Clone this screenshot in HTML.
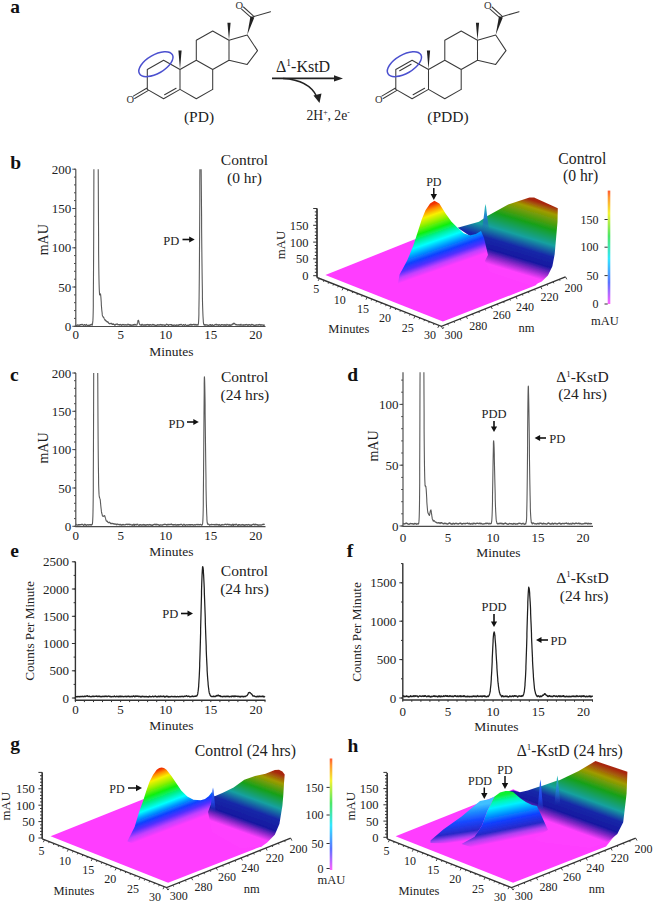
<!DOCTYPE html>
<html><head><meta charset="utf-8"><style>
html,body{margin:0;padding:0;background:#fff;}
svg{display:block;}
text{font-family:"Liberation Serif",serif;}
</style></head><body>
<svg width="655" height="904" viewBox="0 0 655 904">
<defs><linearGradient id="bwall" gradientUnits="userSpaceOnUse" x1="535.00" y1="278.00" x2="556.19" y2="207.36"><stop offset="0.000" stop-color="#ff40ff"/><stop offset="0.104" stop-color="#8828c8"/><stop offset="0.195" stop-color="#1818a0"/><stop offset="0.338" stop-color="#1828a8"/><stop offset="0.494" stop-color="#18a0a0"/><stop offset="0.695" stop-color="#18a018"/><stop offset="0.903" stop-color="#a09a00"/><stop offset="1.000" stop-color="#a82810"/></linearGradient><linearGradient id="bhill" gradientUnits="userSpaceOnUse" x1="435.00" y1="271.00" x2="413.80" y2="210.42"><stop offset="0.000" stop-color="#ff3cff"/><stop offset="0.081" stop-color="#c040ff"/><stop offset="0.162" stop-color="#5030ff"/><stop offset="0.243" stop-color="#1040ff"/><stop offset="0.346" stop-color="#00a0ff"/><stop offset="0.441" stop-color="#00ffff"/><stop offset="0.529" stop-color="#00f0a0"/><stop offset="0.625" stop-color="#10f010"/><stop offset="0.750" stop-color="#a0f000"/><stop offset="0.838" stop-color="#f8f000"/><stop offset="0.926" stop-color="#ff9000"/><stop offset="1.000" stop-color="#f03000"/></linearGradient><linearGradient id="spk" x1="0" y1="0" x2="0" y2="1"><stop offset="0" stop-color="#30c8b8"/><stop offset="0.5" stop-color="#2080d0"/><stop offset="1" stop-color="#2040c0" stop-opacity="0"/></linearGradient><linearGradient id="spkb" x1="0" y1="0" x2="0" y2="1"><stop offset="0" stop-color="#3070ff"/><stop offset="0.6" stop-color="#2040e0"/><stop offset="1" stop-color="#2040c0" stop-opacity="0"/></linearGradient><linearGradient id="ghill" gradientUnits="userSpaceOnUse" x1="162.60" y1="832.00" x2="141.35" y2="776.08"><stop offset="0.000" stop-color="#ff3cff"/><stop offset="0.094" stop-color="#c040ff"/><stop offset="0.188" stop-color="#5030ff"/><stop offset="0.266" stop-color="#1040ff"/><stop offset="0.359" stop-color="#00a0ff"/><stop offset="0.438" stop-color="#00ffff"/><stop offset="0.523" stop-color="#00f0a0"/><stop offset="0.641" stop-color="#10f010"/><stop offset="0.766" stop-color="#a0f000"/><stop offset="0.859" stop-color="#f8f000"/><stop offset="0.938" stop-color="#ff9000"/><stop offset="1.000" stop-color="#f03000"/></linearGradient><linearGradient id="gwall" gradientUnits="userSpaceOnUse" x1="258.80" y1="838.00" x2="281.75" y2="774.26"><stop offset="0.000" stop-color="#ff40ff"/><stop offset="0.097" stop-color="#8828c8"/><stop offset="0.181" stop-color="#1818a0"/><stop offset="0.354" stop-color="#1828a8"/><stop offset="0.514" stop-color="#18a0a0"/><stop offset="0.694" stop-color="#18a018"/><stop offset="0.875" stop-color="#a09a00"/><stop offset="1.000" stop-color="#a82810"/></linearGradient><linearGradient id="hwall" gradientUnits="userSpaceOnUse" x1="597.20" y1="839.00" x2="621.42" y2="771.72"><stop offset="0.000" stop-color="#ff40ff"/><stop offset="0.092" stop-color="#8828c8"/><stop offset="0.184" stop-color="#1818a0"/><stop offset="0.336" stop-color="#1828a8"/><stop offset="0.474" stop-color="#18a0a0"/><stop offset="0.671" stop-color="#18a018"/><stop offset="0.855" stop-color="#a09a00"/><stop offset="1.000" stop-color="#a82810"/></linearGradient><linearGradient id="hpdd" gradientUnits="userSpaceOnUse" x1="470.80" y1="840.00" x2="465.81" y2="806.75"><stop offset="0.000" stop-color="#ff3cff"/><stop offset="0.118" stop-color="#a040f0"/><stop offset="0.265" stop-color="#2828c8"/><stop offset="0.559" stop-color="#1848ff"/><stop offset="0.824" stop-color="#2090ff"/><stop offset="1.000" stop-color="#40c0ff"/></linearGradient><linearGradient id="hpd" gradientUnits="userSpaceOnUse" x1="505.60" y1="840.50" x2="496.66" y2="795.79"><stop offset="0.000" stop-color="#ff3cff"/><stop offset="0.118" stop-color="#b040f0"/><stop offset="0.237" stop-color="#2828c8"/><stop offset="0.441" stop-color="#1040ff"/><stop offset="0.613" stop-color="#00a0ff"/><stop offset="0.753" stop-color="#00f0ff"/><stop offset="0.871" stop-color="#00f8b0"/><stop offset="1.000" stop-color="#10f030"/></linearGradient><filter id="soft" x="-5%" y="-5%" width="110%" height="110%"><feGaussianBlur stdDeviation="0.45"/></filter><linearGradient id="cb609" x1="0" y1="1" x2="0" y2="0"><stop offset="0.0" stop-color="#ff3cff"/><stop offset="0.06" stop-color="#c040ff"/><stop offset="0.19" stop-color="#3050ff"/><stop offset="0.4" stop-color="#00e0ff"/><stop offset="0.6" stop-color="#20e040"/><stop offset="0.8" stop-color="#f0f000"/><stop offset="0.94" stop-color="#ff8000"/><stop offset="1.0" stop-color="#ff3000"/></linearGradient><linearGradient id="cb331" x1="0" y1="1" x2="0" y2="0"><stop offset="0.0" stop-color="#ff3cff"/><stop offset="0.06" stop-color="#c040ff"/><stop offset="0.19" stop-color="#3050ff"/><stop offset="0.4" stop-color="#00e0ff"/><stop offset="0.6" stop-color="#20e040"/><stop offset="0.8" stop-color="#f0f000"/><stop offset="0.94" stop-color="#ff8000"/><stop offset="1.0" stop-color="#ff3000"/></linearGradient><clipPath id="cb1"><rect x="73.8" y="169.2" width="193.7" height="160.3"/></clipPath><clipPath id="cc1"><rect x="73.8" y="373.0" width="193.7" height="156.6"/></clipPath><clipPath id="cd1"><rect x="401.0" y="372.2" width="194.0" height="157.2"/></clipPath><clipPath id="ce1"><rect x="73.4" y="561.8" width="194.1" height="141.5"/></clipPath><clipPath id="cf1"><rect x="400.8" y="563.2" width="194.2" height="139.8"/></clipPath></defs>
<rect width="655" height="904" fill="#fff"/>
<path d="M163.6 60.2L147.3 69.5M147.3 69.5L147.3 89.4M147.3 89.4L163.6 98.7M163.6 98.7L180.0 89.4M180.0 89.4L180.0 69.5M180.0 69.5L163.6 60.2M180.0 89.4L196.3 98.7M196.3 98.7L212.7 89.4M212.7 89.4L212.7 69.5M212.7 69.5L196.3 60.2M196.3 60.2L180.0 69.5M196.3 60.2L196.3 40.3M196.3 40.3L212.7 31.0M212.7 31.0L229.0 40.3M229.0 40.3L229.0 60.2M229.0 60.2L212.7 69.5M229.0 60.2L247.2 64.4M247.2 64.4L257.5 50.6M257.5 50.6L247.2 35.0M247.2 35.0L229.0 40.3M252.4 16.9L270.5 11.7M164.6 94.7L176.1 88.2M146.6 88.2L133.3 96.1M148.0 90.6L134.7 98.5M253.3 15.9L243.5 7.0M251.5 17.9L241.6 9.1" stroke="#3a3a3a" stroke-width="1.05" fill="none" stroke-linecap="round"/>
<polygon points="180.0,69.5 181.6,50.6 178.4,50.6" fill="#222"/>
<polygon points="229.0,40.3 230.6,22.8 227.4,22.8" fill="#222"/>
<polygon points="247.2,35.0 254.3,17.5 250.5,16.3" fill="#222"/>
<text x="130.4" y="102.7" font-size="10.5" text-anchor="middle" fill="#333">O</text>
<text x="239.4" y="8.5" font-size="10.5" text-anchor="middle" fill="#333">O</text>
<ellipse cx="155.9" cy="64.2" rx="19" ry="9.3" transform="rotate(-30 155.9 64.2)" fill="none" stroke="#4b50cf" stroke-width="1.5"/>
<path d="M412.1 60.2L395.8 69.5M395.8 69.5L395.8 89.4M395.8 89.4L412.1 98.7M412.1 98.7L428.5 89.4M428.5 89.4L428.5 69.5M428.5 69.5L412.1 60.2M428.5 89.4L444.8 98.7M444.8 98.7L461.2 89.4M461.2 89.4L461.2 69.5M461.2 69.5L444.8 60.2M444.8 60.2L428.5 69.5M444.8 60.2L444.8 40.3M444.8 40.3L461.2 31.0M461.2 31.0L477.5 40.3M477.5 40.3L477.5 60.2M477.5 60.2L461.2 69.5M477.5 60.2L495.7 64.4M495.7 64.4L506.0 50.6M506.0 50.6L495.7 35.0M495.7 35.0L477.5 40.3M500.9 16.9L519.0 11.7M413.1 94.7L424.6 88.2M411.1 64.2L399.7 70.7M395.1 88.2L381.8 96.1M396.5 90.6L383.2 98.5M501.8 15.9L492.0 7.0M500.0 17.9L490.1 9.1" stroke="#3a3a3a" stroke-width="1.05" fill="none" stroke-linecap="round"/>
<polygon points="428.5,69.5 430.1,50.6 426.9,50.6" fill="#222"/>
<polygon points="477.5,40.3 479.1,22.8 475.9,22.8" fill="#222"/>
<polygon points="495.7,35.0 502.8,17.5 499.0,16.3" fill="#222"/>
<text x="378.9" y="102.7" font-size="10.5" text-anchor="middle" fill="#333">O</text>
<text x="487.9" y="8.5" font-size="10.5" text-anchor="middle" fill="#333">O</text>
<ellipse cx="404.4" cy="64.2" rx="19" ry="9.3" transform="rotate(-30 404.4 64.2)" fill="none" stroke="#4b50cf" stroke-width="1.5"/>
<text x="10.3" y="12.6" font-size="19.5" text-anchor="start" font-weight="bold" fill="#111" >a</text>
<text x="199.0" y="122.0" font-size="15.5" text-anchor="middle" font-weight="normal" fill="#222" >(PD)</text>
<text x="448.0" y="122.0" font-size="15.5" text-anchor="middle" font-weight="normal" fill="#222" >(PDD)</text>
<path d="M272 78.4L336 78.4" stroke="#222" stroke-width="1.6"/>
<polygon points="343,78.4 334,75.2 334,81.6" fill="#222"/>
<path d="M283 78.6 Q309 80 317 97" stroke="#222" stroke-width="1.5" fill="none"/>
<polygon points="319.5,103 313.5,95.5 321.5,93.5" fill="#222"/>
<text x="276" y="72" font-size="16" fill="#222">&#916;<tspan font-size="9.5" dy="-6.5">1</tspan><tspan dy="6.5">-KstD</tspan></text>
<text x="306.5" y="119.5" font-size="13.6" fill="#222">2H<tspan font-size="7.8" dy="-5">+</tspan><tspan dy="5">, 2e</tspan><tspan font-size="7.5" dy="-5">-</tspan></text>
<path d="M75.8 169.2L75.8 326.5L265.5 326.5" stroke="#4a4a4a" stroke-width="1.15" fill="none"/>
<path d="M72.3 326.3L75.8 326.3M72.3 287.0L75.8 287.0M72.3 247.8L75.8 247.8M72.3 208.5L75.8 208.5M72.3 169.2L75.8 169.2M74.0 326.3L75.8 326.3M74.0 318.4L75.8 318.4M74.0 310.6L75.8 310.6M74.0 302.7L75.8 302.7M74.0 294.9L75.8 294.9M74.0 287.0L75.8 287.0M74.0 279.2L75.8 279.2M74.0 271.3L75.8 271.3M74.0 263.5L75.8 263.5M74.0 255.6L75.8 255.6M74.0 247.8L75.8 247.8M74.0 239.9L75.8 239.9M74.0 232.0L75.8 232.0M74.0 224.2L75.8 224.2M74.0 216.3L75.8 216.3M74.0 208.5L75.8 208.5M74.0 200.6L75.8 200.6M74.0 192.8L75.8 192.8M74.0 184.9L75.8 184.9M74.0 177.1L75.8 177.1M74.0 169.2L75.8 169.2" stroke="#4a4a4a" stroke-width="1" fill="none"/>
<text x="71.3" y="330.8" font-size="13" text-anchor="end" font-weight="normal" fill="#222" >0</text>
<text x="71.3" y="291.5" font-size="13" text-anchor="end" font-weight="normal" fill="#222" >50</text>
<text x="71.3" y="252.2" font-size="13" text-anchor="end" font-weight="normal" fill="#222" >100</text>
<text x="71.3" y="213.0" font-size="13" text-anchor="end" font-weight="normal" fill="#222" >150</text>
<text x="71.3" y="173.7" font-size="13" text-anchor="end" font-weight="normal" fill="#222" >200</text>
<text x="75.8" y="339.3" font-size="13" text-anchor="middle" font-weight="normal" fill="#222" >0</text>
<text x="120.8" y="339.3" font-size="13" text-anchor="middle" font-weight="normal" fill="#222" >5</text>
<text x="165.8" y="339.3" font-size="13" text-anchor="middle" font-weight="normal" fill="#222" >10</text>
<text x="210.7" y="339.3" font-size="13" text-anchor="middle" font-weight="normal" fill="#222" >15</text>
<text x="255.7" y="339.3" font-size="13" text-anchor="middle" font-weight="normal" fill="#222" >20</text>
<polyline clip-path="url(#cb1)" points="75.8,325.0 75.9,325.2 76.0,325.0 76.1,325.2 76.2,325.2 76.2,325.2 76.3,325.4 76.4,325.3 76.5,325.5 76.6,325.5 76.7,325.5 76.8,325.6 76.9,325.7 77.0,325.6 77.1,325.3 77.1,325.5 77.2,325.4 77.3,325.1 77.4,325.0 77.5,325.0 77.6,324.7 77.7,325.0 77.8,324.8 77.9,324.9 78.0,325.1 78.0,325.3 78.1,325.3 78.2,325.1 78.3,325.2 78.4,325.1 78.5,325.0 78.6,325.1 78.7,325.0 78.8,325.2 78.9,325.4 78.9,325.5 79.0,325.3 79.1,325.3 79.2,325.3 79.3,325.2 79.4,325.2 79.5,325.3 79.6,325.0 79.7,324.9 79.8,325.0 79.8,325.0 79.9,325.0 80.0,324.7 80.1,324.6 80.2,324.8 80.3,324.5 80.4,324.8 80.5,324.9 80.6,324.7 80.7,324.9 80.7,324.9 80.8,325.2 80.9,325.0 81.0,324.9 81.1,324.8 81.2,324.6 81.3,324.8 81.4,324.7 81.5,324.7 81.6,324.7 81.6,324.7 81.7,324.6 81.8,324.4 81.9,324.5 82.0,324.4 82.1,324.7 82.2,324.6 82.3,324.6 82.4,324.4 82.5,324.3 82.5,324.5 82.6,324.6 82.7,324.6 82.8,324.9 82.9,324.9 83.0,325.1 83.1,325.3 83.2,325.4 83.3,325.2 83.4,325.4 83.4,325.4 83.5,325.4 83.6,325.1 83.7,325.3 83.8,325.3 83.9,325.2 84.0,324.9 84.1,324.8 84.2,324.6 84.3,324.7 84.3,324.8 84.4,324.9 84.5,324.7 84.6,324.5 84.7,324.7 84.8,324.9 84.9,325.1 85.0,325.2 85.1,325.1 85.2,325.1 85.2,325.2 85.3,325.4 85.4,325.4 85.5,325.4 85.6,325.3 85.7,325.0 85.8,324.8 85.9,324.8 86.0,324.8 86.1,324.7 86.1,325.0 86.2,324.7 86.3,324.6 86.4,324.4 86.5,324.3 86.6,324.5 86.7,324.6 86.8,324.9 86.9,324.8 87.0,325.0 87.0,325.3 87.1,325.4 87.2,325.5 87.3,325.5 87.4,325.6 87.5,325.8 87.6,325.9 87.7,325.9 87.8,325.8 87.9,326.0 87.9,325.6 88.0,325.4 88.1,325.5 88.2,325.6 88.3,325.6 88.4,325.5 88.5,325.6 88.6,325.3 88.7,325.0 88.8,325.0 88.8,325.0 88.9,325.2 89.0,325.4 89.1,325.4 89.2,325.4 89.3,325.2 89.4,325.3 89.5,325.5 89.6,325.2 89.7,325.1 89.7,325.3 89.8,325.2 89.9,325.4 90.0,325.3 90.1,325.0 90.2,324.8 90.3,324.7 90.4,324.8 90.5,324.9 90.6,325.1 90.6,324.9 90.7,324.9 90.8,324.7 90.9,324.9 91.0,325.0 91.1,324.8 91.2,324.6 91.3,324.4 91.4,324.3 91.5,324.2 91.5,324.2 91.6,324.4 91.7,324.5 91.8,324.6 91.9,324.9 92.0,325.1 92.1,325.2 92.2,325.2 92.3,325.0 92.4,324.6 92.4,324.4 92.5,323.9 92.6,323.2 92.7,322.4 92.8,321.6 92.9,320.4 93.0,318.6 93.1,315.9 93.2,312.0 93.3,306.4 93.3,298.6 93.4,288.3 93.5,274.9 93.6,257.3 93.7,234.5 93.8,206.0 93.9,169.8 94.0,166.2 94.1,166.2 94.1,166.2 94.2,166.2 94.3,166.2 94.4,166.2 94.5,166.2 94.6,166.2 94.7,166.2 94.8,166.2 94.9,166.2 95.0,166.2 95.0,166.2 95.1,166.2 95.2,166.2 95.3,166.2 95.4,166.2 95.5,166.2 95.6,166.2 95.7,166.2 95.8,166.2 95.9,166.2 95.9,166.2 96.0,166.2 96.1,166.2 96.2,166.2 96.3,166.2 96.4,166.2 96.5,166.2 96.6,166.2 96.7,166.2 96.8,166.2 96.8,166.2 96.9,166.2 97.0,166.2 97.1,166.2 97.2,166.2 97.3,166.2 97.4,166.2 97.5,166.2 97.6,166.2 97.7,166.2 97.7,166.2 97.8,166.2 97.9,166.2 98.0,166.2 98.1,166.2 98.2,166.2 98.3,183.9 98.4,205.6 98.5,223.4 98.6,238.0 98.6,250.3 98.7,260.1 98.8,268.2 98.9,275.0 99.0,280.0 99.1,284.3 99.2,287.6 99.3,290.0 99.4,291.9 99.5,293.3 99.5,294.2 99.6,294.7 99.7,294.8 99.8,295.0 99.9,294.8 100.0,294.7 100.1,294.5 100.2,294.1 100.3,293.9 100.4,293.8 100.4,293.8 100.5,294.0 100.6,294.6 100.7,295.3 100.8,296.3 100.9,297.4 101.0,298.6 101.1,300.1 101.2,301.5 101.3,303.0 101.3,304.2 101.4,305.6 101.5,306.8 101.6,307.9 101.7,309.3 101.8,310.3 101.9,311.1 102.0,311.8 102.1,312.8 102.2,313.6 102.2,314.2 102.3,314.9 102.4,315.4 102.5,315.9 102.6,316.0 102.7,316.1 102.8,316.1 102.9,316.5 103.0,316.6 103.1,316.7 103.1,317.0 103.2,317.0 103.3,316.9 103.4,317.3 103.5,317.2 103.6,317.5 103.7,317.6 103.8,317.6 103.9,317.6 104.0,318.0 104.0,318.2 104.1,318.3 104.2,318.6 104.3,318.9 104.4,319.1 104.5,319.1 104.6,319.4 104.7,319.5 104.8,319.6 104.9,319.9 104.9,320.1 105.0,320.0 105.1,320.1 105.2,320.4 105.3,320.1 105.4,320.1 105.5,319.9 105.6,320.2 105.7,320.5 105.8,320.8 105.8,320.7 105.9,320.9 106.0,321.1 106.1,321.2 106.2,321.0 106.3,320.9 106.4,321.1 106.5,321.4 106.6,321.2 106.7,321.2 106.7,321.2 106.8,321.5 106.9,321.8 107.0,321.7 107.1,321.8 107.2,322.1 107.3,321.8 107.4,321.8 107.5,321.7 107.6,322.0 107.6,321.9 107.7,322.2 107.8,322.0 107.9,322.1 108.0,322.3 108.1,322.3 108.2,322.1 108.3,322.3 108.4,322.6 108.5,322.6 108.5,322.7 108.6,323.0 108.7,323.1 108.8,323.4 108.9,323.5 109.0,323.5 109.1,323.5 109.2,323.3 109.3,323.4 109.4,323.4 109.4,323.5 109.5,323.5 109.6,323.8 109.7,323.8 109.8,324.0 109.9,323.8 110.0,323.7 110.1,323.8 110.2,323.8 110.3,323.5 110.3,323.7 110.4,323.5 110.5,323.5 110.6,323.5 110.7,323.4 110.8,323.5 110.9,323.5 111.0,323.4 111.1,323.2 111.2,323.3 111.2,323.2 111.3,323.2 111.4,323.2 111.5,323.3 111.6,323.5 111.7,323.8 111.8,324.0 111.9,324.2 112.0,324.0 112.0,324.2 112.1,324.3 112.2,324.5 112.3,324.2 112.4,324.0 112.5,323.9 112.6,324.0 112.7,324.2 112.8,324.3 112.9,324.3 112.9,324.4 113.0,324.4 113.1,324.5 113.2,324.2 113.3,323.9 113.4,323.9 113.5,324.1 113.6,323.9 113.7,324.0 113.8,324.1 113.8,324.4 113.9,324.5 114.0,324.4 114.1,324.4 114.2,324.6 114.3,324.5 114.4,324.8 114.5,324.8 114.6,325.0 114.7,324.9 114.7,325.1 114.8,325.3 114.9,325.2 115.0,325.3 115.1,325.1 115.2,325.0 115.3,324.7 115.4,324.6 115.5,324.5 115.6,324.3 115.6,324.3 115.7,324.5 115.8,324.2 115.9,324.4 116.0,324.3 116.1,324.3 116.2,324.5 116.3,324.4 116.4,324.2 116.5,324.1 116.5,324.1 116.6,324.0 116.7,324.3 116.8,324.3 116.9,324.3 117.0,324.2 117.1,324.1 117.2,324.0 117.3,324.0 117.4,323.9 117.4,323.9 117.5,323.9 117.6,324.1 117.7,324.5 117.8,324.7 117.9,324.8 118.0,325.0 118.1,324.7 118.2,324.7 118.3,324.6 118.3,324.5 118.4,324.5 118.5,324.5 118.6,324.8 118.7,324.6 118.8,324.5 118.9,324.5 119.0,324.5 119.1,324.5 119.2,324.7 119.2,324.6 119.3,324.7 119.4,325.0 119.5,325.1 119.6,324.9 119.7,325.0 119.8,324.8 119.9,324.6 120.0,324.6 120.1,324.7 120.1,324.7 120.2,324.6 120.3,324.5 120.4,324.4 120.5,324.4 120.6,324.7 120.7,324.9 120.8,325.0 120.9,324.8 121.0,324.9 121.0,324.9 121.1,325.1 121.2,325.3 121.3,325.4 121.4,325.2 121.5,325.0 121.6,324.9 121.7,325.0 121.8,324.9 121.9,324.9 121.9,324.9 122.0,325.1 122.1,324.8 122.2,325.0 122.3,324.7 122.4,324.5 122.5,324.8 122.6,324.8 122.7,324.6 122.8,324.4 122.8,324.5 122.9,324.7 123.0,324.8 123.1,324.6 123.2,324.8 123.3,324.7 123.4,324.9 123.5,324.9 123.6,324.7 123.7,324.9 123.7,324.7 123.8,324.7 123.9,324.5 124.0,324.4 124.1,324.6 124.2,324.5 124.3,324.5 124.4,324.8 124.5,325.1 124.6,325.1 124.6,325.1 124.7,325.1 124.8,325.3 124.9,325.3 125.0,325.3 125.1,325.1 125.2,325.3 125.3,325.1 125.4,324.9 125.5,325.1 125.5,324.8 125.6,324.7 125.7,324.5 125.8,324.7 125.9,324.8 126.0,324.8 126.1,324.6 126.2,324.6 126.3,324.7 126.4,324.7 126.4,324.9 126.5,325.1 126.6,325.3 126.7,325.0 126.8,325.1 126.9,324.9 127.0,325.0 127.1,325.1 127.2,325.1 127.3,325.2 127.3,325.2 127.4,324.9 127.5,324.7 127.6,324.5 127.7,324.5 127.8,324.3 127.9,324.2 128.0,324.3 128.1,324.2 128.2,324.6 128.2,324.5 128.3,324.6 128.4,324.5 128.5,324.5 128.6,324.6 128.7,324.9 128.8,324.7 128.9,324.9 129.0,324.9 129.1,325.0 129.1,325.1 129.2,324.9 129.3,324.6 129.4,324.8 129.5,324.7 129.6,324.9 129.7,324.8 129.8,324.9 129.9,325.1 129.9,325.2 130.0,325.3 130.1,325.0 130.2,325.0 130.3,325.2 130.4,324.9 130.5,324.6 130.6,324.7 130.7,324.9 130.8,325.1 130.8,325.3 130.9,325.3 131.0,325.5 131.1,325.5 131.2,325.5 131.3,325.4 131.4,325.1 131.5,324.9 131.6,325.0 131.7,325.0 131.7,325.0 131.8,325.0 131.9,325.1 132.0,325.3 132.1,325.4 132.2,325.0 132.3,325.2 132.4,325.2 132.5,325.0 132.6,324.8 132.6,325.0 132.7,325.1 132.8,325.2 132.9,325.2 133.0,325.2 133.1,324.9 133.2,324.7 133.3,324.5 133.4,324.8 133.5,325.1 133.5,325.0 133.6,324.7 133.7,324.8 133.8,324.7 133.9,325.0 134.0,325.1 134.1,324.8 134.2,324.6 134.3,324.5 134.4,324.3 134.4,324.5 134.5,324.8 134.6,325.0 134.7,325.0 134.8,324.8 134.9,324.6 135.0,324.5 135.1,324.5 135.2,324.4 135.3,324.5 135.3,324.5 135.4,324.8 135.5,324.7 135.6,324.9 135.7,324.6 135.8,324.6 135.9,324.7 136.0,325.0 136.1,325.1 136.2,325.0 136.2,324.8 136.3,325.0 136.4,325.2 136.5,325.1 136.6,325.0 136.7,325.0 136.8,325.0 136.9,324.8 137.0,324.9 137.1,324.8 137.1,324.5 137.2,323.9 137.3,323.6 137.4,323.0 137.5,322.7 137.6,322.5 137.7,322.2 137.8,321.5 137.9,321.0 138.0,320.8 138.0,320.8 138.1,320.5 138.2,320.3 138.3,320.3 138.4,320.4 138.5,320.4 138.6,320.4 138.7,320.9 138.8,321.5 138.9,321.9 138.9,322.3 139.0,322.6 139.1,323.1 139.2,323.3 139.3,323.5 139.4,323.8 139.5,324.2 139.6,324.1 139.7,324.4 139.8,324.3 139.8,324.6 139.9,324.8 140.0,324.7 140.1,324.9 140.2,324.7 140.3,324.7 140.4,324.9 140.5,325.1 140.6,325.1 140.7,325.0 140.7,324.7 140.8,324.9 140.9,325.0 141.0,325.1 141.1,324.8 141.2,325.0 141.3,325.3 141.4,325.4 141.5,325.4 141.6,325.1 141.6,324.9 141.7,324.7 141.8,324.5 141.9,324.3 142.0,324.5 142.1,324.7 142.2,324.5 142.3,324.4 142.4,324.8 142.5,324.7 142.5,324.8 142.6,324.9 142.7,325.0 142.8,325.1 142.9,325.4 143.0,325.4 143.1,325.4 143.2,325.1 143.3,325.3 143.4,325.0 143.4,325.1 143.5,325.1 143.6,324.9 143.7,324.7 143.8,324.8 143.9,325.1 144.0,325.1 144.1,325.1 144.2,324.8 144.3,325.0 144.3,325.1 144.4,324.8 144.5,325.1 144.6,325.1 144.7,324.9 144.8,324.8 144.9,325.0 145.0,325.3 145.1,325.4 145.2,325.1 145.2,325.2 145.3,325.0 145.4,324.8 145.5,324.9 145.6,325.0 145.7,324.8 145.8,324.7 145.9,324.9 146.0,324.7 146.1,324.9 146.1,325.0 146.2,325.3 146.3,325.1 146.4,324.8 146.5,324.7 146.6,324.5 146.7,324.8 146.8,325.0 146.9,325.0 147.0,324.7 147.0,324.5 147.1,324.6 147.2,324.8 147.3,324.8 147.4,324.9 147.5,324.6 147.6,324.8 147.7,324.7 147.8,324.6 147.8,324.4 147.9,324.4 148.0,324.4 148.1,324.6 148.2,324.7 148.3,324.8 148.4,324.7 148.5,324.9 148.6,325.1 148.7,324.9 148.7,325.1 148.8,325.3 148.9,325.5 149.0,325.3 149.1,325.4 149.2,325.0 149.3,324.8 149.4,324.5 149.5,324.7 149.6,325.0 149.6,325.2 149.7,325.1 149.8,325.0 149.9,325.0 150.0,325.1 150.1,325.1 150.2,325.0 150.3,324.9 150.4,324.8 150.5,324.6 150.5,324.6 150.6,324.8 150.7,324.6 150.8,324.8 150.9,324.8 151.0,324.9 151.1,324.7 151.2,324.9 151.3,325.1 151.4,325.2 151.4,325.3 151.5,325.0 151.6,325.0 151.7,325.1 151.8,325.1 151.9,324.8 152.0,324.8 152.1,325.0 152.2,324.8 152.3,324.7 152.3,324.5 152.4,324.7 152.5,324.8 152.6,324.6 152.7,324.5 152.8,324.3 152.9,324.6 153.0,324.8 153.1,325.0 153.2,325.2 153.2,324.9 153.3,324.8 153.4,324.6 153.5,324.7 153.6,324.5 153.7,324.6 153.8,324.8 153.9,324.7 154.0,324.4 154.1,324.7 154.1,324.7 154.2,324.7 154.3,324.8 154.4,324.9 154.5,325.1 154.6,325.2 154.7,325.3 154.8,325.2 154.9,325.1 155.0,325.2 155.0,325.4 155.1,325.4 155.2,325.3 155.3,325.4 155.4,325.4 155.5,325.5 155.6,325.2 155.7,325.2 155.8,325.4 155.9,325.5 155.9,325.5 156.0,325.4 156.1,325.2 156.2,325.4 156.3,325.5 156.4,325.3 156.5,325.3 156.6,325.3 156.7,325.4 156.8,325.1 156.8,325.1 156.9,325.1 157.0,325.1 157.1,325.1 157.2,324.9 157.3,324.6 157.4,324.7 157.5,324.9 157.6,324.8 157.7,325.0 157.7,325.2 157.8,325.0 157.9,325.0 158.0,324.8 158.1,324.9 158.2,324.7 158.3,324.7 158.4,324.9 158.5,325.2 158.6,325.1 158.6,325.0 158.7,324.8 158.8,325.0 158.9,324.9 159.0,325.0 159.1,325.0 159.2,325.1 159.3,325.2 159.4,325.2 159.5,324.9 159.5,325.1 159.6,325.1 159.7,324.9 159.8,324.6 159.9,324.8 160.0,325.0 160.1,324.8 160.2,324.5 160.3,324.6 160.4,324.9 160.4,324.6 160.5,324.7 160.6,324.5 160.7,324.5 160.8,324.4 160.9,324.7 161.0,324.5 161.1,324.7 161.2,324.8 161.3,324.6 161.3,324.5 161.4,324.7 161.5,324.9 161.6,325.0 161.7,324.9 161.8,325.0 161.9,325.2 162.0,325.3 162.1,325.1 162.2,324.8 162.2,325.1 162.3,325.0 162.4,324.9 162.5,325.1 162.6,324.9 162.7,325.1 162.8,325.0 162.9,325.0 163.0,324.9 163.1,325.0 163.1,325.0 163.2,325.0 163.3,325.0 163.4,324.9 163.5,324.9 163.6,324.9 163.7,325.2 163.8,325.1 163.9,325.1 164.0,325.2 164.0,325.0 164.1,324.8 164.2,324.9 164.3,325.0 164.4,325.0 164.5,325.2 164.6,325.4 164.7,325.3 164.8,325.5 164.9,325.4 164.9,325.3 165.0,325.5 165.1,325.4 165.2,325.5 165.3,325.3 165.4,325.1 165.5,325.0 165.6,325.3 165.7,325.2 165.7,325.2 165.8,324.9 165.9,325.1 166.0,324.9 166.1,324.6 166.2,324.5 166.3,324.4 166.4,324.6 166.5,324.4 166.6,324.5 166.6,324.3 166.7,324.2 166.8,324.5 166.9,324.4 167.0,324.2 167.1,324.5 167.2,324.7 167.3,324.6 167.4,324.8 167.5,324.6 167.5,324.8 167.6,324.6 167.7,324.8 167.8,324.9 167.9,324.6 168.0,324.8 168.1,325.0 168.2,324.9 168.3,325.0 168.4,325.3 168.4,325.4 168.5,325.5 168.6,325.2 168.7,325.0 168.8,324.8 168.9,325.0 169.0,324.8 169.1,325.0 169.2,325.0 169.3,324.9 169.3,325.0 169.4,324.8 169.5,324.7 169.6,324.7 169.7,324.5 169.8,324.8 169.9,324.5 170.0,324.5 170.1,324.6 170.2,324.5 170.2,324.7 170.3,324.5 170.4,324.5 170.5,324.6 170.6,324.5 170.7,324.6 170.8,324.8 170.9,324.7 171.0,325.0 171.1,324.8 171.1,324.9 171.2,324.9 171.3,324.6 171.4,324.6 171.5,324.5 171.6,324.7 171.7,325.0 171.8,325.2 171.9,325.4 172.0,325.2 172.0,325.2 172.1,325.2 172.2,324.9 172.3,325.1 172.4,325.2 172.5,325.1 172.6,325.3 172.7,325.5 172.8,325.5 172.9,325.6 172.9,325.6 173.0,325.6 173.1,325.5 173.2,325.3 173.3,325.4 173.4,325.3 173.5,325.2 173.6,325.4 173.7,325.1 173.8,325.2 173.8,325.3 173.9,325.5 174.0,325.3 174.1,325.1 174.2,324.9 174.3,324.9 174.4,325.1 174.5,325.3 174.6,325.2 174.7,325.1 174.7,325.1 174.8,325.0 174.9,325.2 175.0,325.0 175.1,325.2 175.2,325.2 175.3,325.2 175.4,325.4 175.5,325.3 175.6,325.5 175.6,325.5 175.7,325.6 175.8,325.7 175.9,325.6 176.0,325.3 176.1,325.5 176.2,325.5 176.3,325.4 176.4,325.1 176.5,325.0 176.5,325.0 176.6,324.7 176.7,325.0 176.8,324.8 176.9,324.9 177.0,325.1 177.1,325.3 177.2,325.3 177.3,325.1 177.4,325.2 177.4,325.1 177.5,325.0 177.6,325.1 177.7,325.0 177.8,325.2 177.9,325.4 178.0,325.5 178.1,325.3 178.2,325.3 178.3,325.3 178.3,325.2 178.4,325.2 178.5,325.3 178.6,325.0 178.7,324.9 178.8,325.0 178.9,325.0 179.0,325.0 179.1,324.7 179.2,324.6 179.2,324.8 179.3,324.5 179.4,324.8 179.5,324.9 179.6,324.7 179.7,324.9 179.8,324.9 179.9,325.2 180.0,325.0 180.1,324.9 180.1,324.8 180.2,324.6 180.3,324.8 180.4,324.7 180.5,324.7 180.6,324.7 180.7,324.7 180.8,324.6 180.9,324.4 181.0,324.5 181.0,324.4 181.1,324.7 181.2,324.6 181.3,324.6 181.4,324.4 181.5,324.3 181.6,324.5 181.7,324.6 181.8,324.6 181.9,324.9 181.9,324.9 182.0,325.1 182.1,325.3 182.2,325.4 182.3,325.2 182.4,325.4 182.5,325.4 182.6,325.4 182.7,325.1 182.8,325.3 182.8,325.3 182.9,325.2 183.0,324.9 183.1,324.8 183.2,324.6 183.3,324.7 183.4,324.8 183.5,324.9 183.6,324.7 183.7,324.5 183.7,324.7 183.8,324.9 183.9,325.1 184.0,325.2 184.1,325.1 184.2,325.1 184.3,325.2 184.4,325.4 184.5,325.4 184.5,325.4 184.6,325.3 184.7,325.0 184.8,324.8 184.9,324.8 185.0,324.8 185.1,324.7 185.2,325.0 185.3,324.7 185.4,324.6 185.4,324.4 185.5,324.3 185.6,324.5 185.7,324.6 185.8,324.9 185.9,324.8 186.0,325.0 186.1,325.3 186.2,325.4 186.3,325.5 186.3,325.5 186.4,325.6 186.5,325.8 186.6,325.9 186.7,325.9 186.8,325.8 186.9,326.0 187.0,325.6 187.1,325.4 187.2,325.5 187.2,325.6 187.3,325.6 187.4,325.5 187.5,325.6 187.6,325.3 187.7,325.0 187.8,325.0 187.9,325.0 188.0,325.2 188.1,325.4 188.1,325.4 188.2,325.4 188.3,325.2 188.4,325.3 188.5,325.5 188.6,325.2 188.7,325.1 188.8,325.3 188.9,325.2 189.0,325.4 189.0,325.3 189.1,325.0 189.2,324.8 189.3,324.7 189.4,324.8 189.5,324.9 189.6,325.1 189.7,324.9 189.8,324.9 189.9,324.7 189.9,324.9 190.0,325.0 190.1,324.8 190.2,324.6 190.3,324.4 190.4,324.3 190.5,324.2 190.6,324.2 190.7,324.5 190.8,324.5 190.8,324.6 190.9,324.9 191.0,325.2 191.1,325.3 191.2,325.3 191.3,325.2 191.4,324.9 191.5,324.9 191.6,324.7 191.7,324.4 191.7,324.2 191.8,324.4 191.9,324.6 192.0,324.8 192.1,325.0 192.2,325.1 192.3,325.0 192.4,324.8 192.5,324.6 192.6,324.7 192.6,324.6 192.7,324.5 192.8,324.8 192.9,324.7 193.0,324.5 193.1,324.4 193.2,324.3 193.3,324.4 193.4,324.7 193.5,324.6 193.5,324.7 193.6,324.6 193.7,324.3 193.8,324.5 193.9,324.6 194.0,324.4 194.1,324.3 194.2,324.6 194.3,324.9 194.4,325.1 194.4,324.8 194.5,324.6 194.6,324.9 194.7,324.7 194.8,324.5 194.9,324.4 195.0,324.6 195.1,324.6 195.2,324.9 195.3,325.1 195.3,324.8 195.4,324.8 195.5,324.8 195.6,324.5 195.7,324.6 195.8,324.5 195.9,324.3 196.0,324.6 196.1,324.8 196.2,324.9 196.2,325.0 196.3,325.0 196.4,325.1 196.5,325.1 196.6,325.3 196.7,325.0 196.8,325.1 196.9,325.1 197.0,325.0 197.1,324.7 197.1,324.8 197.2,324.6 197.3,324.6 197.4,324.7 197.5,324.7 197.6,325.0 197.7,325.0 197.8,325.1 197.9,325.3 198.0,325.0 198.0,325.1 198.1,324.9 198.2,324.5 198.3,324.1 198.4,323.6 198.5,322.8 198.6,321.5 198.7,319.7 198.8,317.6 198.9,314.3 198.9,310.1 199.0,304.6 199.1,297.4 199.2,288.6 199.3,277.9 199.4,265.4 199.5,251.0 199.6,235.3 199.7,218.3 199.8,200.8 199.8,183.2 199.9,166.4 200.0,166.2 200.1,166.2 200.2,166.2 200.3,166.2 200.4,166.2 200.5,166.2 200.6,166.2 200.7,166.2 200.7,166.2 200.8,166.2 200.9,166.2 201.0,166.2 201.1,166.2 201.2,174.4 201.3,185.1 201.4,195.9 201.5,206.9 201.6,217.4 201.6,227.7 201.7,237.5 201.8,247.4 201.9,256.4 202.0,264.8 202.1,272.8 202.2,279.7 202.3,286.0 202.4,292.0 202.4,296.9 202.5,301.5 202.6,305.4 202.7,308.6 202.8,311.3 202.9,314.0 203.0,316.2 203.1,317.9 203.2,319.4 203.3,320.7 203.3,321.7 203.4,322.3 203.5,323.2 203.6,323.6 203.7,324.0 203.8,324.5 203.9,324.7 204.0,324.7 204.1,324.8 204.2,325.1 204.2,324.8 204.3,324.7 204.4,324.5 204.5,324.8 204.6,324.9 204.7,325.2 204.8,325.0 204.9,325.1 205.0,325.3 205.1,325.3 205.1,325.0 205.2,324.8 205.3,324.9 205.4,325.1 205.5,324.9 205.6,324.8 205.7,324.7 205.8,325.0 205.9,325.2 206.0,325.1 206.0,325.1 206.1,325.3 206.2,325.0 206.3,324.9 206.4,324.7 206.5,325.0 206.6,324.8 206.7,325.0 206.8,324.8 206.9,324.8 206.9,324.9 207.0,324.9 207.1,324.7 207.2,324.8 207.3,325.0 207.4,325.0 207.5,325.1 207.6,325.3 207.7,325.4 207.8,325.6 207.8,325.7 207.9,325.6 208.0,325.6 208.1,325.4 208.2,325.4 208.3,325.3 208.4,325.4 208.5,325.4 208.6,325.6 208.7,325.7 208.7,325.8 208.8,325.5 208.9,325.4 209.0,325.5 209.1,325.4 209.2,325.1 209.3,325.3 209.4,325.1 209.5,325.1 209.6,325.0 209.6,324.8 209.7,324.9 209.8,324.9 209.9,324.8 210.0,324.5 210.1,324.7 210.2,324.5 210.3,324.5 210.4,324.5 210.5,324.6 210.5,324.7 210.6,325.0 210.7,325.2 210.8,325.4 210.9,325.2 211.0,325.3 211.1,325.4 211.2,325.5 211.3,325.2 211.4,325.0 211.4,324.9 211.5,325.0 211.6,325.1 211.7,325.2 211.8,325.2 211.9,325.3 212.0,325.3 212.1,325.4 212.2,325.0 212.3,324.8 212.3,324.7 212.4,324.9 212.5,324.6 212.6,324.8 212.7,324.9 212.8,325.2 212.9,325.2 213.0,325.2 213.1,325.1 213.2,325.2 213.2,325.2 213.3,325.4 213.4,325.5 213.5,325.6 213.6,325.5 213.7,325.7 213.8,325.8 213.9,325.8 214.0,325.8 214.1,325.6 214.1,325.5 214.2,325.3 214.3,325.1 214.4,325.0 214.5,324.8 214.6,324.8 214.7,324.9 214.8,324.7 214.9,324.9 215.0,324.8 215.0,324.7 215.1,325.0 215.2,324.8 215.3,324.6 215.4,324.6 215.5,324.5 215.6,324.4 215.7,324.6 215.8,324.7 215.9,324.7 215.9,324.5 216.0,324.4 216.1,324.3 216.2,324.4 216.3,324.2 216.4,324.2 216.5,324.2 216.6,324.5 216.7,324.8 216.8,325.0 216.8,325.1 216.9,325.3 217.0,325.0 217.1,325.0 217.2,324.9 217.3,324.8 217.4,324.7 217.5,324.8 217.6,325.0 217.7,324.9 217.7,324.7 217.8,324.7 217.9,324.7 218.0,324.7 218.1,325.0 218.2,324.8 218.3,325.0 218.4,325.2 218.5,325.3 218.6,325.1 218.6,325.2 218.7,325.0 218.8,324.8 218.9,324.8 219.0,324.9 219.1,324.9 219.2,324.8 219.3,324.6 219.4,324.6 219.5,324.6 219.5,324.9 219.6,325.1 219.7,325.2 219.8,325.0 219.9,325.1 220.0,325.0 220.1,325.3 220.2,325.4 220.3,325.5 220.3,325.3 220.4,325.1 220.5,325.0 220.6,325.1 220.7,325.1 220.8,325.1 220.9,325.0 221.0,325.2 221.1,325.0 221.2,325.1 221.2,324.8 221.3,324.6 221.4,324.9 221.5,324.9 221.6,324.7 221.7,324.5 221.8,324.6 221.9,324.8 222.0,324.9 222.1,324.7 222.1,324.9 222.2,324.8 222.3,325.0 222.4,325.0 222.5,324.7 222.6,325.0 222.7,324.8 222.8,324.8 222.9,324.6 223.0,324.5 223.0,324.7 223.1,324.5 223.2,324.6 223.3,324.9 223.4,325.2 223.5,325.1 223.6,325.1 223.7,325.2 223.8,325.3 223.9,325.4 223.9,325.4 224.0,325.1 224.1,325.4 224.2,325.2 224.3,324.9 224.4,325.1 224.5,324.9 224.6,324.7 224.7,324.5 224.8,324.7 224.8,324.8 224.9,324.9 225.0,324.6 225.1,324.6 225.2,324.7 225.3,324.8 225.4,324.9 225.5,325.2 225.6,325.3 225.7,325.1 225.7,325.2 225.8,324.9 225.9,325.0 226.0,325.1 226.1,325.1 226.2,325.2 226.3,325.3 226.4,324.9 226.5,324.7 226.6,324.6 226.6,324.6 226.7,324.4 226.8,324.2 226.9,324.3 227.0,324.3 227.1,324.6 227.2,324.5 227.3,324.6 227.4,324.5 227.5,324.5 227.5,324.7 227.6,324.9 227.7,324.7 227.8,324.9 227.9,324.9 228.0,325.0 228.1,325.1 228.2,324.9 228.3,324.7 228.4,324.8 228.4,324.8 228.5,324.9 228.6,324.9 228.7,324.9 228.8,325.1 228.9,325.3 229.0,325.4 229.1,325.1 229.2,325.0 229.3,325.2 229.3,324.9 229.4,324.6 229.5,324.7 229.6,324.9 229.7,325.1 229.8,325.3 229.9,325.3 230.0,325.5 230.1,325.5 230.2,325.5 230.2,325.4 230.3,325.1 230.4,324.9 230.5,325.0 230.6,325.0 230.7,324.9 230.8,325.0 230.9,325.0 231.0,325.2 231.1,325.3 231.1,324.9 231.2,325.1 231.3,325.0 231.4,324.9 231.5,324.7 231.6,324.8 231.7,324.9 231.8,324.9 231.9,324.9 232.0,324.9 232.0,324.5 232.1,324.3 232.2,324.1 232.3,324.4 232.4,324.6 232.5,324.4 232.6,324.1 232.7,324.1 232.8,324.0 232.9,324.3 232.9,324.3 233.0,324.0 233.1,323.7 233.2,323.5 233.3,323.3 233.4,323.5 233.5,323.7 233.6,323.9 233.7,323.8 233.8,323.7 233.8,323.5 233.9,323.4 234.0,323.3 234.1,323.2 234.2,323.3 234.3,323.4 234.4,323.7 234.5,323.6 234.6,323.8 234.7,323.6 234.7,323.5 234.8,323.7 234.9,324.0 235.0,324.2 235.1,324.1 235.2,324.0 235.3,324.3 235.4,324.5 235.5,324.5 235.6,324.5 235.6,324.5 235.7,324.7 235.8,324.6 235.9,324.9 236.0,325.0 236.1,325.0 236.2,324.7 236.3,324.6 236.4,324.4 236.5,324.5 236.5,324.7 236.6,324.8 236.7,324.6 236.8,324.5 236.9,325.0 237.0,324.9 237.1,324.8 237.2,324.9 237.3,325.0 237.4,324.9 237.4,324.7 237.5,324.9 237.6,325.1 237.7,325.2 237.8,325.2 237.9,325.0 238.0,325.2 238.1,325.0 238.2,324.8 238.2,324.8 238.3,325.0 238.4,324.7 238.5,324.9 238.6,324.7 238.7,324.9 238.8,325.0 238.9,324.9 239.0,325.0 239.1,324.7 239.1,324.7 239.2,324.9 239.3,325.1 239.4,325.1 239.5,325.0 239.6,324.7 239.7,324.9 239.8,325.0 239.9,325.1 240.0,324.8 240.0,325.0 240.1,325.3 240.2,325.4 240.3,325.4 240.4,325.1 240.5,324.9 240.6,324.7 240.7,324.5 240.8,324.3 240.9,324.5 240.9,324.7 241.0,324.5 241.1,324.4 241.2,324.8 241.3,324.7 241.4,324.8 241.5,324.9 241.6,325.0 241.7,325.1 241.8,325.4 241.8,325.4 241.9,325.4 242.0,325.1 242.1,325.3 242.2,325.0 242.3,325.1 242.4,325.2 242.5,324.9 242.6,324.7 242.7,324.8 242.7,325.1 242.8,325.1 242.9,325.1 243.0,324.8 243.1,325.0 243.2,325.1 243.3,324.8 243.4,325.1 243.5,325.1 243.6,324.9 243.6,324.8 243.7,325.0 243.8,325.3 243.9,325.4 244.0,325.1 244.1,325.2 244.2,325.0 244.3,324.8 244.4,324.9 244.5,325.0 244.5,324.8 244.6,324.7 244.7,324.9 244.8,324.7 244.9,324.9 245.0,325.0 245.1,325.3 245.2,325.1 245.3,324.8 245.4,324.7 245.4,324.5 245.5,324.8 245.6,325.0 245.7,325.0 245.8,324.7 245.9,324.5 246.0,324.6 246.1,324.8 246.2,324.8 246.3,324.9 246.3,324.6 246.4,324.8 246.5,324.7 246.6,324.6 246.7,324.4 246.8,324.4 246.9,324.4 247.0,324.6 247.1,324.7 247.2,324.8 247.2,324.7 247.3,324.9 247.4,325.1 247.5,324.9 247.6,325.1 247.7,325.3 247.8,325.5 247.9,325.4 248.0,325.4 248.1,325.0 248.1,324.8 248.2,324.5 248.3,324.7 248.4,325.0 248.5,325.2 248.6,325.1 248.7,325.0 248.8,325.0 248.9,325.1 249.0,325.1 249.0,325.0 249.1,324.9 249.2,324.8 249.3,324.6 249.4,324.6 249.5,324.8 249.6,324.6 249.7,324.8 249.8,324.8 249.9,324.9 249.9,324.7 250.0,324.9 250.1,325.1 250.2,325.2 250.3,325.3 250.4,325.0 250.5,325.0 250.6,325.1 250.7,325.1 250.8,324.8 250.8,324.8 250.9,325.0 251.0,324.8 251.1,324.7 251.2,324.5 251.3,324.7 251.4,324.8 251.5,324.6 251.6,324.5 251.7,324.3 251.7,324.6 251.8,324.8 251.9,325.0 252.0,325.2 252.1,324.9 252.2,324.8 252.3,324.6 252.4,324.7 252.5,324.5 252.6,324.6 252.6,324.8 252.7,324.7 252.8,324.4 252.9,324.7 253.0,324.7 253.1,324.7 253.2,324.8 253.3,324.9 253.4,325.1 253.5,325.2 253.5,325.3 253.6,325.2 253.7,325.1 253.8,325.2 253.9,325.4 254.0,325.4 254.1,325.3 254.2,325.4 254.3,325.4 254.4,325.5 254.4,325.2 254.5,325.2 254.6,325.4 254.7,325.5 254.8,325.5 254.9,325.4 255.0,325.2 255.1,325.4 255.2,325.5 255.3,325.3 255.3,325.3 255.4,325.3 255.5,325.4 255.6,325.1 255.7,325.1 255.8,325.1 255.9,325.1 256.0,325.1 256.1,324.9 256.1,324.6 256.2,324.7 256.3,324.9 256.4,324.8 256.5,325.0 256.6,325.2 256.7,325.0 256.8,325.0 256.9,324.8 257.0,324.9 257.0,324.7 257.1,324.7 257.2,324.9 257.3,325.2 257.4,325.1 257.5,325.0 257.6,324.8 257.7,325.0 257.8,324.9 257.9,325.0 257.9,325.0 258.0,325.1 258.1,325.2 258.2,325.2 258.3,324.9 258.4,325.1 258.5,325.1 258.6,324.9 258.7,324.6 258.8,324.8 258.8,325.0 258.9,324.8 259.0,324.5 259.1,324.6 259.2,324.9 259.3,324.6 259.4,324.7 259.5,324.5 259.6,324.5 259.7,324.4 259.7,324.7 259.8,324.5 259.9,324.7 260.0,324.8 260.1,324.6 260.2,324.5 260.3,324.7 260.4,324.9 260.5,325.0 260.6,324.9 260.6,325.0 260.7,325.2 260.8,325.3 260.9,325.1 261.0,324.8 261.1,325.1 261.2,325.0 261.3,324.9 261.4,325.1 261.5,324.9 261.5,325.1 261.6,325.0 261.7,325.0 261.8,324.9 261.9,325.0 262.0,325.0 262.1,325.0 262.2,325.0 262.3,324.9 262.4,324.9 262.4,324.9 262.5,325.2 262.6,325.1 262.7,325.1 262.8,325.2 262.9,325.0 263.0,324.8 263.1,324.9 263.2,325.0 263.3,325.0 263.3,325.2 263.4,325.4 263.5,325.3 263.6,325.5 263.7,325.4 263.8,325.3 263.9,325.5 264.0,325.4 264.1,325.5 264.2,325.3 264.2,325.1 264.3,325.0 264.4,325.3 264.5,325.2 264.6,325.2" stroke="#5a5a5a" stroke-width="1.1" fill="none" stroke-linejoin="round"/>
<path d="M75.8 373.0L75.8 526.6L265.5 526.6" stroke="#4a4a4a" stroke-width="1.15" fill="none"/>
<path d="M72.3 526.3L75.8 526.3M72.3 488.0L75.8 488.0M72.3 449.6L75.8 449.6M72.3 411.3L75.8 411.3M72.3 373.0L75.8 373.0M74.0 526.3L75.8 526.3M74.0 518.6L75.8 518.6M74.0 511.0L75.8 511.0M74.0 503.3L75.8 503.3M74.0 495.6L75.8 495.6M74.0 488.0L75.8 488.0M74.0 480.3L75.8 480.3M74.0 472.6L75.8 472.6M74.0 465.0L75.8 465.0M74.0 457.3L75.8 457.3M74.0 449.6L75.8 449.6M74.0 442.0L75.8 442.0M74.0 434.3L75.8 434.3M74.0 426.7L75.8 426.7M74.0 419.0L75.8 419.0M74.0 411.3L75.8 411.3M74.0 403.7L75.8 403.7M74.0 396.0L75.8 396.0M74.0 388.3L75.8 388.3M74.0 380.7L75.8 380.7M74.0 373.0L75.8 373.0" stroke="#4a4a4a" stroke-width="1" fill="none"/>
<text x="71.3" y="530.8" font-size="13" text-anchor="end" font-weight="normal" fill="#222" >0</text>
<text x="71.3" y="492.5" font-size="13" text-anchor="end" font-weight="normal" fill="#222" >50</text>
<text x="71.3" y="454.1" font-size="13" text-anchor="end" font-weight="normal" fill="#222" >100</text>
<text x="71.3" y="415.8" font-size="13" text-anchor="end" font-weight="normal" fill="#222" >150</text>
<text x="71.3" y="377.5" font-size="13" text-anchor="end" font-weight="normal" fill="#222" >200</text>
<text x="75.8" y="539.9" font-size="13" text-anchor="middle" font-weight="normal" fill="#222" >0</text>
<text x="120.8" y="539.9" font-size="13" text-anchor="middle" font-weight="normal" fill="#222" >5</text>
<text x="165.8" y="539.9" font-size="13" text-anchor="middle" font-weight="normal" fill="#222" >10</text>
<text x="210.7" y="539.9" font-size="13" text-anchor="middle" font-weight="normal" fill="#222" >15</text>
<text x="255.7" y="539.9" font-size="13" text-anchor="middle" font-weight="normal" fill="#222" >20</text>
<polyline clip-path="url(#cc1)" points="75.8,524.7 75.9,524.7 76.0,524.5 76.1,524.4 76.2,524.6 76.2,524.4 76.3,524.7 76.4,524.7 76.5,524.8 76.6,524.9 76.7,524.9 76.8,525.1 76.9,524.9 77.0,525.2 77.1,525.1 77.1,525.0 77.2,525.1 77.3,525.0 77.4,525.0 77.5,524.9 77.6,524.7 77.7,524.9 77.8,525.0 77.9,525.0 78.0,525.2 78.0,525.0 78.1,524.8 78.2,524.7 78.3,524.9 78.4,524.7 78.5,524.6 78.6,524.6 78.7,524.5 78.8,524.6 78.9,524.8 78.9,525.0 79.0,525.1 79.1,525.3 79.2,525.3 79.3,525.1 79.4,524.9 79.5,524.7 79.6,524.6 79.7,524.8 79.8,524.7 79.8,524.8 79.9,524.6 80.0,524.6 80.1,524.8 80.2,524.7 80.3,524.5 80.4,524.7 80.5,524.5 80.6,524.8 80.7,524.9 80.7,525.0 80.8,524.9 80.9,524.6 81.0,524.5 81.1,524.6 81.2,524.4 81.3,524.6 81.4,524.8 81.5,524.5 81.6,524.5 81.6,524.4 81.7,524.4 81.8,524.2 81.9,524.3 82.0,524.2 82.1,524.2 82.2,524.1 82.3,524.2 82.4,524.2 82.5,524.2 82.5,524.4 82.6,524.6 82.7,524.6 82.8,524.8 82.9,524.6 83.0,524.8 83.1,525.1 83.2,525.2 83.3,524.9 83.4,525.0 83.4,525.1 83.5,525.3 83.6,525.5 83.7,525.3 83.8,525.1 83.9,525.0 84.0,524.8 84.1,525.0 84.2,525.0 84.3,525.0 84.3,524.8 84.4,524.6 84.5,524.4 84.6,524.7 84.7,524.5 84.8,524.3 84.9,524.2 85.0,524.5 85.1,524.7 85.2,524.9 85.2,525.1 85.3,524.9 85.4,524.7 85.5,524.6 85.6,524.5 85.7,524.5 85.8,524.6 85.9,524.9 86.0,525.1 86.1,524.9 86.1,525.0 86.2,525.1 86.3,525.1 86.4,525.3 86.5,525.3 86.6,525.4 86.7,525.2 86.8,525.2 86.9,525.2 87.0,524.9 87.0,524.9 87.1,524.7 87.2,524.6 87.3,524.9 87.4,524.9 87.5,524.9 87.6,524.8 87.7,524.8 87.8,524.7 87.9,524.7 87.9,524.9 88.0,524.7 88.1,524.9 88.2,524.7 88.3,524.9 88.4,525.1 88.5,525.2 88.6,525.0 88.7,524.7 88.8,525.0 88.8,525.0 88.9,524.9 89.0,524.8 89.1,524.9 89.2,524.9 89.3,525.0 89.4,524.8 89.5,524.9 89.6,524.6 89.7,524.8 89.7,524.9 89.8,524.8 89.9,524.8 90.0,525.0 90.1,524.9 90.2,525.1 90.3,524.9 90.4,524.8 90.5,524.6 90.6,524.6 90.6,524.7 90.7,524.7 90.8,524.8 90.9,524.6 91.0,524.8 91.1,524.6 91.2,524.9 91.3,525.0 91.4,525.1 91.5,524.8 91.5,524.8 91.6,524.9 91.7,524.6 91.8,524.8 91.9,524.8 92.0,524.7 92.1,524.5 92.2,524.2 92.3,524.0 92.4,523.9 92.4,523.5 92.5,523.1 92.6,522.0 92.7,520.5 92.8,518.4 92.9,515.9 93.0,512.0 93.1,506.4 93.2,499.1 93.3,489.4 93.3,476.3 93.4,458.9 93.5,437.0 93.6,409.0 93.7,373.9 93.8,370.0 93.9,370.0 94.0,370.0 94.1,370.0 94.1,370.0 94.2,370.0 94.3,370.0 94.4,370.0 94.5,370.0 94.6,370.0 94.7,370.0 94.8,370.0 94.9,370.0 95.0,370.0 95.0,370.0 95.1,370.0 95.2,370.0 95.3,370.0 95.4,370.0 95.5,370.0 95.6,370.0 95.7,370.0 95.8,370.0 95.9,370.0 95.9,370.0 96.0,370.0 96.1,370.0 96.2,370.0 96.3,370.0 96.4,370.0 96.5,370.0 96.6,370.0 96.7,370.0 96.8,370.0 96.8,370.0 96.9,370.0 97.0,370.0 97.1,370.0 97.2,370.0 97.3,370.0 97.4,370.0 97.5,370.0 97.6,370.0 97.7,370.0 97.7,370.0 97.8,384.2 97.9,405.4 98.0,422.7 98.1,437.1 98.2,448.9 98.3,458.7 98.4,466.8 98.5,473.3 98.6,478.9 98.6,483.2 98.7,486.6 98.8,489.3 98.9,491.5 99.0,493.5 99.1,494.9 99.2,495.9 99.3,496.6 99.4,497.2 99.5,497.4 99.5,497.5 99.6,497.9 99.7,498.0 99.8,498.0 99.9,498.4 100.0,498.7 100.1,498.9 100.2,499.7 100.3,500.4 100.4,501.3 100.4,501.9 100.5,502.6 100.6,503.6 100.7,504.8 100.8,505.8 100.9,506.7 101.0,507.6 101.1,508.5 101.2,509.3 101.3,510.0 101.3,510.7 101.4,511.4 101.5,511.8 101.6,512.5 101.7,512.9 101.8,513.4 101.9,513.6 102.0,514.2 102.1,514.2 102.2,514.6 102.2,515.1 102.3,515.4 102.4,515.6 102.5,515.9 102.6,516.0 102.7,516.1 102.8,516.1 102.9,516.2 103.0,516.3 103.1,516.5 103.1,516.3 103.2,516.1 103.3,516.0 103.4,516.2 103.5,516.0 103.6,516.0 103.7,516.1 103.8,516.2 103.9,516.0 104.0,515.8 104.0,515.7 104.1,515.7 104.2,515.7 104.3,515.8 104.4,515.6 104.5,515.8 104.6,515.9 104.7,515.8 104.8,515.9 104.9,516.1 104.9,516.5 105.0,516.7 105.1,517.2 105.2,517.3 105.3,517.6 105.4,517.7 105.5,518.2 105.6,518.5 105.7,518.9 105.8,519.2 105.8,519.6 105.9,520.1 106.0,520.1 106.1,520.4 106.2,520.7 106.3,520.9 106.4,521.0 106.5,521.1 106.6,521.1 106.7,521.1 106.7,521.3 106.8,521.1 106.9,521.0 107.0,521.4 107.1,521.3 107.2,521.2 107.3,521.2 107.4,521.5 107.5,521.4 107.6,521.5 107.6,521.8 107.7,522.2 107.8,521.9 107.9,521.9 108.0,522.1 108.1,522.4 108.2,522.6 108.3,522.7 108.4,522.6 108.5,522.7 108.5,522.8 108.6,522.6 108.7,522.5 108.8,522.7 108.9,522.5 109.0,522.5 109.1,522.4 109.2,522.4 109.3,522.3 109.4,522.2 109.4,522.2 109.5,522.5 109.6,522.5 109.7,522.6 109.8,522.5 109.9,522.7 110.0,522.5 110.1,522.6 110.2,522.8 110.3,523.1 110.3,523.3 110.4,523.3 110.5,523.6 110.6,523.6 110.7,523.7 110.8,523.7 110.9,523.7 111.0,523.6 111.1,523.4 111.2,523.7 111.2,523.5 111.3,523.6 111.4,523.5 111.5,523.5 111.6,523.3 111.7,523.5 111.8,523.5 111.9,523.3 112.0,523.6 112.0,523.6 112.1,523.5 112.2,523.8 112.3,523.8 112.4,523.7 112.5,523.5 112.6,523.7 112.7,523.4 112.8,523.5 112.9,523.6 112.9,523.4 113.0,523.8 113.1,523.7 113.2,523.7 113.3,523.8 113.4,523.7 113.5,523.8 113.6,523.8 113.7,523.9 113.8,523.8 113.8,524.0 113.9,524.0 114.0,524.1 114.1,524.1 114.2,523.9 114.3,524.1 114.4,523.9 114.5,524.0 114.6,524.0 114.7,524.2 114.7,524.2 114.8,523.9 114.9,523.9 115.0,523.8 115.1,524.0 115.2,524.1 115.3,524.3 115.4,524.2 115.5,524.2 115.6,524.0 115.6,524.3 115.7,524.2 115.8,524.0 115.9,524.0 116.0,524.3 116.1,524.5 116.2,524.7 116.3,524.8 116.4,524.5 116.5,524.5 116.5,524.4 116.6,524.2 116.7,524.0 116.8,524.0 116.9,524.0 117.0,524.0 117.1,524.0 117.2,524.0 117.3,524.0 117.4,524.2 117.4,524.2 117.5,524.2 117.6,524.1 117.7,524.4 117.8,524.6 117.9,524.8 118.0,524.6 118.1,524.4 118.2,524.3 118.3,524.4 118.3,524.3 118.4,524.2 118.5,524.2 118.6,524.4 118.7,524.5 118.8,524.5 118.9,524.6 119.0,524.7 119.1,524.6 119.2,524.3 119.2,524.6 119.3,524.6 119.4,524.8 119.5,525.0 119.6,524.8 119.7,524.7 119.8,524.5 119.9,524.5 120.0,524.8 120.1,524.8 120.1,524.7 120.2,524.5 120.3,524.2 120.4,524.3 120.5,524.4 120.6,524.7 120.7,524.6 120.8,524.7 120.9,524.9 121.0,525.1 121.0,525.3 121.1,525.1 121.2,525.2 121.3,524.9 121.4,525.1 121.5,524.8 121.6,525.0 121.7,525.2 121.8,525.0 121.9,525.1 121.9,524.9 122.0,525.0 122.1,525.2 122.2,525.0 122.3,524.8 122.4,524.6 122.5,524.5 122.6,524.7 122.7,524.7 122.8,524.6 122.8,524.6 122.9,524.4 123.0,524.6 123.1,524.3 123.2,524.3 123.3,524.6 123.4,524.9 123.5,524.8 123.6,524.6 123.7,524.8 123.7,524.9 123.8,524.7 123.9,524.9 124.0,524.7 124.1,524.7 124.2,524.9 124.3,525.0 124.4,524.9 124.5,524.9 124.6,524.8 124.6,525.0 124.7,524.8 124.8,524.8 124.9,524.7 125.0,524.7 125.1,524.7 125.2,524.8 125.3,524.6 125.4,524.4 125.5,524.3 125.5,524.3 125.6,524.5 125.7,524.8 125.8,524.5 125.9,524.4 126.0,524.3 126.1,524.4 126.2,524.4 126.3,524.2 126.4,524.1 126.4,524.2 126.5,524.3 126.6,524.4 126.7,524.3 126.8,524.4 126.9,524.4 127.0,524.4 127.1,524.2 127.2,524.1 127.3,524.3 127.3,524.7 127.4,524.8 127.5,524.8 127.6,524.8 127.7,524.6 127.8,524.4 127.9,524.7 128.0,524.5 128.1,524.4 128.2,524.2 128.2,524.3 128.3,524.5 128.4,524.3 128.5,524.2 128.6,524.2 128.7,524.1 128.8,524.2 128.9,524.5 129.0,524.5 129.1,524.4 129.1,524.6 129.2,524.5 129.3,524.3 129.4,524.5 129.5,524.5 129.6,524.4 129.7,524.5 129.8,524.7 129.9,524.8 129.9,524.7 130.0,524.5 130.1,524.6 130.2,524.8 130.3,524.7 130.4,524.5 130.5,524.7 130.6,524.7 130.7,524.5 130.8,524.3 130.8,524.4 130.9,524.4 131.0,524.4 131.1,524.6 131.2,524.8 131.3,525.0 131.4,524.8 131.5,524.9 131.6,524.8 131.7,524.9 131.7,524.9 131.8,525.0 131.9,525.2 132.0,524.9 132.1,524.9 132.2,525.1 132.3,525.0 132.4,524.8 132.5,525.0 132.6,524.9 132.6,525.0 132.7,524.9 132.8,525.2 132.9,525.3 133.0,525.0 133.1,524.8 133.2,524.8 133.3,524.7 133.4,524.9 133.5,524.7 133.5,524.7 133.6,524.5 133.7,524.4 133.8,524.3 133.9,524.1 134.0,524.3 134.1,524.6 134.2,524.8 134.3,525.0 134.4,525.2 134.4,525.4 134.5,525.2 134.6,525.0 134.7,525.0 134.8,524.7 134.9,524.5 135.0,524.8 135.1,524.7 135.2,524.8 135.3,525.0 135.3,524.7 135.4,524.8 135.5,524.8 135.6,524.7 135.7,524.5 135.8,524.4 135.9,524.5 136.0,524.6 136.1,524.8 136.2,524.5 136.2,524.3 136.3,524.5 136.4,524.8 136.5,524.9 136.6,525.0 136.7,524.7 136.8,524.5 136.9,524.4 137.0,524.7 137.1,524.5 137.1,524.5 137.2,524.4 137.3,524.2 137.4,524.5 137.5,524.8 137.6,524.6 137.7,524.4 137.8,524.4 137.9,524.5 138.0,524.5 138.0,524.4 138.1,524.7 138.2,524.8 138.3,524.9 138.4,525.1 138.5,525.1 138.6,525.2 138.7,525.3 138.8,525.4 138.9,525.2 138.9,525.4 139.0,525.2 139.1,525.3 139.2,525.5 139.3,525.1 139.4,525.2 139.5,524.9 139.6,524.7 139.7,524.5 139.8,524.7 139.8,524.8 139.9,525.0 140.0,524.7 140.1,524.5 140.2,524.5 140.3,524.6 140.4,524.7 140.5,524.5 140.6,524.6 140.7,524.5 140.7,524.8 140.8,524.9 140.9,525.1 141.0,525.0 141.1,524.9 141.2,525.1 141.3,524.8 141.4,524.9 141.5,525.0 141.6,525.1 141.6,525.2 141.7,524.9 141.8,525.0 141.9,525.1 142.0,525.1 142.1,525.1 142.2,524.9 142.3,525.1 142.4,524.8 142.5,525.0 142.5,524.8 142.6,524.7 142.7,524.8 142.8,524.8 142.9,524.9 143.0,525.0 143.1,525.2 143.2,525.2 143.3,524.9 143.4,524.6 143.4,524.4 143.5,524.6 143.6,524.8 143.7,524.6 143.8,524.8 143.9,524.7 144.0,524.8 144.1,524.6 144.2,524.8 144.3,524.7 144.3,524.8 144.4,525.0 144.5,525.2 144.6,525.0 144.7,524.9 144.8,525.1 144.9,525.1 145.0,524.8 145.1,524.9 145.2,524.9 145.2,525.1 145.3,525.2 145.4,525.0 145.5,524.8 145.6,525.0 145.7,525.2 145.8,525.3 145.9,525.2 146.0,525.1 146.1,525.2 146.1,525.3 146.2,525.2 146.3,525.0 146.4,524.8 146.5,524.7 146.6,524.9 146.7,525.1 146.8,524.9 146.9,525.0 147.0,524.8 147.0,525.0 147.1,524.8 147.2,524.9 147.3,524.7 147.4,524.5 147.5,524.6 147.6,524.9 147.7,524.6 147.8,524.7 147.8,524.5 147.9,524.6 148.0,524.8 148.1,524.6 148.2,524.7 148.3,524.9 148.4,525.0 148.5,524.9 148.6,525.1 148.7,525.1 148.7,525.1 148.8,525.0 148.9,525.2 149.0,525.0 149.1,524.8 149.2,524.6 149.3,524.7 149.4,524.6 149.5,524.7 149.6,524.6 149.6,524.8 149.7,524.6 149.8,524.4 149.9,524.5 150.0,524.5 150.1,524.5 150.2,524.5 150.3,524.8 150.4,524.6 150.5,524.7 150.5,524.9 150.6,525.1 150.7,525.2 150.8,525.0 150.9,525.2 151.0,525.3 151.1,525.1 151.2,525.3 151.3,525.4 151.4,525.3 151.4,525.2 151.5,525.1 151.6,524.9 151.7,525.1 151.8,524.9 151.9,524.7 152.0,525.0 152.1,525.2 152.2,525.1 152.3,525.1 152.3,525.1 152.4,525.3 152.5,525.2 152.6,525.4 152.7,525.2 152.8,525.0 152.9,525.1 153.0,525.0 153.1,524.9 153.2,525.0 153.2,524.8 153.3,524.6 153.4,524.7 153.5,524.7 153.6,524.5 153.7,524.6 153.8,524.7 153.9,524.4 154.0,524.3 154.1,524.5 154.1,524.7 154.2,524.8 154.3,524.8 154.4,524.5 154.5,524.4 154.6,524.2 154.7,524.2 154.8,524.1 154.9,524.4 155.0,524.4 155.0,524.3 155.1,524.1 155.2,524.3 155.3,524.4 155.4,524.4 155.5,524.5 155.6,524.6 155.7,524.8 155.8,524.8 155.9,524.8 155.9,525.1 156.0,525.2 156.1,524.9 156.2,524.7 156.3,524.5 156.4,524.5 156.5,524.4 156.6,524.2 156.7,524.1 156.8,524.4 156.8,524.4 156.9,524.6 157.0,524.5 157.1,524.7 157.2,524.7 157.3,524.5 157.4,524.4 157.5,524.6 157.6,524.6 157.7,524.7 157.7,524.5 157.8,524.6 157.9,524.7 158.0,524.7 158.1,524.9 158.2,524.8 158.3,524.6 158.4,524.6 158.5,524.7 158.6,524.8 158.6,524.7 158.7,524.9 158.8,525.1 158.9,525.3 159.0,525.3 159.1,525.3 159.2,525.3 159.3,525.4 159.4,525.5 159.5,525.4 159.5,525.1 159.6,525.0 159.7,524.9 159.8,524.8 159.9,525.0 160.0,524.8 160.1,524.8 160.2,524.8 160.3,524.7 160.4,524.8 160.4,524.9 160.5,525.0 160.6,525.1 160.7,525.0 160.8,525.1 160.9,525.0 161.0,525.2 161.1,525.2 161.2,525.0 161.3,525.1 161.3,525.0 161.4,525.0 161.5,525.0 161.6,524.7 161.7,524.9 161.8,524.7 161.9,524.9 162.0,525.1 162.1,524.9 162.2,524.9 162.2,525.1 162.3,525.1 162.4,525.1 162.5,524.9 162.6,525.1 162.7,525.2 162.8,524.9 162.9,524.7 163.0,524.9 163.1,525.0 163.1,525.0 163.2,524.9 163.3,524.8 163.4,524.6 163.5,524.5 163.6,524.5 163.7,524.4 163.8,524.3 163.9,524.3 164.0,524.4 164.0,524.3 164.1,524.2 164.2,524.1 164.3,524.4 164.4,524.2 164.5,524.6 164.6,524.5 164.7,524.5 164.8,524.5 164.9,524.3 164.9,524.3 165.0,524.4 165.1,524.3 165.2,524.2 165.3,524.2 165.4,524.4 165.5,524.5 165.6,524.5 165.7,524.4 165.7,524.6 165.8,524.7 165.9,524.7 166.0,524.7 166.1,524.8 166.2,524.7 166.3,524.5 166.4,524.5 166.5,524.6 166.6,524.8 166.6,524.9 166.7,525.1 166.8,525.0 166.9,524.9 167.0,525.1 167.1,524.8 167.2,524.9 167.3,524.7 167.4,524.5 167.5,524.3 167.5,524.6 167.6,524.6 167.7,524.4 167.8,524.7 167.9,525.0 168.0,524.9 168.1,524.9 168.2,524.7 168.3,524.5 168.4,524.5 168.4,524.3 168.5,524.4 168.6,524.4 168.7,524.4 168.8,524.5 168.9,524.6 169.0,524.6 169.1,524.7 169.2,524.5 169.3,524.4 169.3,524.5 169.4,524.7 169.5,524.8 169.6,524.8 169.7,524.8 169.8,524.8 169.9,524.5 170.0,524.3 170.1,524.4 170.2,524.5 170.2,524.5 170.3,524.2 170.4,524.4 170.5,524.4 170.6,524.3 170.7,524.6 170.8,524.7 170.9,524.4 171.0,524.3 171.1,524.4 171.1,524.6 171.2,524.5 171.3,524.4 171.4,524.3 171.5,524.1 171.6,524.0 171.7,524.1 171.8,524.4 171.9,524.6 172.0,524.6 172.0,524.6 172.1,524.8 172.2,525.0 172.3,524.9 172.4,524.8 172.5,524.9 172.6,524.6 172.7,524.5 172.8,524.8 172.9,524.9 172.9,524.7 173.0,524.8 173.1,524.7 173.2,525.0 173.3,525.1 173.4,524.8 173.5,524.8 173.6,524.7 173.7,524.9 173.8,524.8 173.8,524.8 173.9,524.9 174.0,524.8 174.1,524.8 174.2,524.5 174.3,524.5 174.4,524.6 174.5,524.8 174.6,525.0 174.7,524.8 174.7,525.0 174.8,524.7 174.9,524.7 175.0,524.5 175.1,524.4 175.2,524.6 175.3,524.4 175.4,524.7 175.5,524.7 175.6,524.8 175.6,524.9 175.7,525.1 175.8,524.9 175.9,525.2 176.0,525.1 176.1,524.8 176.2,525.0 176.3,525.1 176.4,525.0 176.5,525.0 176.5,524.9 176.6,524.7 176.7,524.9 176.8,525.0 176.9,525.0 177.0,525.2 177.1,525.0 177.2,524.8 177.3,524.7 177.4,524.9 177.4,524.7 177.5,524.6 177.6,524.6 177.7,524.5 177.8,524.6 177.9,524.8 178.0,525.0 178.1,525.1 178.2,525.3 178.3,525.3 178.3,525.1 178.4,524.9 178.5,524.7 178.6,524.6 178.7,524.8 178.8,524.7 178.9,524.8 179.0,524.6 179.1,524.6 179.2,524.8 179.2,524.7 179.3,524.5 179.4,524.7 179.5,524.5 179.6,524.8 179.7,524.9 179.8,525.0 179.9,524.9 180.0,524.6 180.1,524.5 180.1,524.6 180.2,524.4 180.3,524.6 180.4,524.8 180.5,524.5 180.6,524.5 180.7,524.4 180.8,524.4 180.9,524.2 181.0,524.3 181.0,524.2 181.1,524.2 181.2,524.1 181.3,524.2 181.4,524.2 181.5,524.2 181.6,524.4 181.7,524.6 181.8,524.6 181.9,524.8 181.9,524.6 182.0,524.8 182.1,525.1 182.2,525.2 182.3,524.9 182.4,525.0 182.5,525.1 182.6,525.3 182.7,525.5 182.8,525.3 182.8,525.1 182.9,525.0 183.0,524.8 183.1,525.0 183.2,525.0 183.3,525.0 183.4,524.8 183.5,524.6 183.6,524.4 183.7,524.7 183.7,524.5 183.8,524.3 183.9,524.2 184.0,524.5 184.1,524.7 184.2,524.9 184.3,525.1 184.4,524.9 184.5,524.7 184.5,524.6 184.6,524.5 184.7,524.5 184.8,524.6 184.9,524.9 185.0,525.1 185.1,524.9 185.2,525.0 185.3,525.1 185.4,525.1 185.4,525.3 185.5,525.3 185.6,525.4 185.7,525.2 185.8,525.2 185.9,525.2 186.0,524.9 186.1,524.9 186.2,524.7 186.3,524.6 186.3,524.9 186.4,524.9 186.5,524.9 186.6,524.8 186.7,524.8 186.8,524.7 186.9,524.7 187.0,524.9 187.1,524.7 187.2,524.9 187.2,524.7 187.3,524.9 187.4,525.1 187.5,525.2 187.6,525.0 187.7,524.7 187.8,525.0 187.9,525.0 188.0,524.9 188.1,524.8 188.1,524.9 188.2,524.9 188.3,525.0 188.4,524.8 188.5,524.9 188.6,524.6 188.7,524.8 188.8,524.9 188.9,524.8 189.0,524.8 189.0,525.0 189.1,524.9 189.2,525.1 189.3,524.9 189.4,524.8 189.5,524.6 189.6,524.6 189.7,524.7 189.8,524.7 189.9,524.8 189.9,524.6 190.0,524.8 190.1,524.6 190.2,524.9 190.3,525.0 190.4,525.1 190.5,524.9 190.6,524.8 190.7,524.9 190.8,524.7 190.8,524.8 190.9,524.8 191.0,524.8 191.1,524.7 191.2,524.5 191.3,524.5 191.4,524.6 191.5,524.7 191.6,524.9 191.7,524.7 191.7,524.6 191.8,524.5 191.9,524.7 192.0,524.8 192.1,524.6 192.2,524.6 192.3,524.8 192.4,524.8 192.5,524.6 192.6,524.8 192.6,524.9 192.7,525.0 192.8,524.9 192.9,524.7 193.0,524.9 193.1,525.0 193.2,525.1 193.3,525.2 193.4,525.1 193.5,525.2 193.5,525.3 193.6,525.3 193.7,525.0 193.8,524.8 193.9,525.1 194.0,524.8 194.1,525.0 194.2,525.0 194.3,524.7 194.4,524.6 194.4,524.5 194.5,524.5 194.6,524.7 194.7,524.7 194.8,524.9 194.9,525.0 195.0,525.1 195.1,525.3 195.2,525.2 195.3,525.0 195.3,524.9 195.4,524.9 195.5,524.8 195.6,524.8 195.7,525.0 195.8,524.9 195.9,524.9 196.0,524.8 196.1,524.6 196.2,524.6 196.2,524.6 196.3,524.5 196.4,524.6 196.5,524.8 196.6,524.6 196.7,524.5 196.8,524.4 196.9,524.3 197.0,524.2 197.1,524.2 197.1,524.2 197.2,524.3 197.3,524.5 197.4,524.4 197.5,524.7 197.6,524.8 197.7,524.6 197.8,524.5 197.9,524.5 198.0,524.7 198.0,524.7 198.1,524.8 198.2,524.7 198.3,524.7 198.4,524.7 198.5,524.4 198.6,524.7 198.7,524.6 198.8,524.5 198.9,524.6 198.9,524.6 199.0,524.4 199.1,524.7 199.2,524.7 199.3,524.9 199.4,524.7 199.5,524.5 199.6,524.5 199.7,524.8 199.8,524.7 199.8,524.7 199.9,524.6 200.0,524.6 200.1,524.6 200.2,524.4 200.3,524.5 200.4,524.6 200.5,524.3 200.6,524.6 200.7,524.5 200.7,524.6 200.8,524.5 200.9,524.7 201.0,524.5 201.1,524.6 201.2,524.9 201.3,525.0 201.4,525.0 201.5,525.2 201.6,525.2 201.6,525.2 201.7,525.0 201.8,525.0 201.9,525.1 202.0,525.2 202.1,525.0 202.2,524.7 202.3,524.6 202.4,524.6 202.4,524.2 202.5,524.0 202.6,523.6 202.7,523.0 202.8,521.7 202.9,519.9 203.0,517.5 203.1,514.4 203.2,510.1 203.3,504.8 203.3,497.7 203.4,489.3 203.5,479.3 203.6,467.7 203.7,455.0 203.8,441.6 203.9,428.0 204.0,414.5 204.1,402.4 204.2,391.6 204.2,383.6 204.3,378.4 204.4,376.8 204.5,377.5 204.6,379.4 204.7,382.4 204.8,386.6 204.9,391.9 205.0,397.6 205.1,404.3 205.1,411.7 205.2,419.4 205.3,427.3 205.4,435.5 205.5,443.5 205.6,451.3 205.7,459.2 205.8,466.3 205.9,473.2 206.0,480.0 206.0,485.8 206.1,491.1 206.2,496.0 206.3,500.7 206.4,504.4 206.5,507.8 206.6,511.0 206.7,513.8 206.8,515.7 206.9,517.4 206.9,519.0 207.0,520.4 207.1,521.6 207.2,522.5 207.3,522.9 207.4,523.4 207.5,524.0 207.6,524.0 207.7,524.0 207.8,524.4 207.8,524.3 207.9,524.4 208.0,524.3 208.1,524.3 208.2,524.2 208.3,524.1 208.4,524.1 208.5,524.3 208.6,524.3 208.7,524.4 208.7,524.3 208.8,524.4 208.9,524.3 209.0,524.3 209.1,524.5 209.2,524.7 209.3,524.9 209.4,524.9 209.5,525.1 209.6,525.1 209.6,525.2 209.7,525.1 209.8,525.1 209.9,525.0 210.0,524.8 210.1,525.1 210.2,524.8 210.3,524.8 210.4,524.8 210.5,524.7 210.5,524.5 210.6,524.6 210.7,524.7 210.8,524.5 210.9,524.7 211.0,524.7 211.1,524.6 211.2,524.9 211.3,524.8 211.4,524.7 211.4,524.5 211.5,524.6 211.6,524.4 211.7,524.4 211.8,524.5 211.9,524.3 212.0,524.6 212.1,524.5 212.2,524.5 212.3,524.6 212.3,524.5 212.4,524.6 212.5,524.6 212.6,524.6 212.7,524.5 212.8,524.7 212.9,524.7 213.0,524.8 213.1,524.8 213.2,524.6 213.2,524.7 213.3,524.6 213.4,524.6 213.5,524.7 213.6,524.8 213.7,524.8 213.8,524.5 213.9,524.5 214.0,524.4 214.1,524.5 214.1,524.7 214.2,524.8 214.3,524.7 214.4,524.7 214.5,524.5 214.6,524.8 214.7,524.7 214.8,524.5 214.9,524.5 215.0,524.8 215.0,524.9 215.1,525.1 215.2,525.2 215.3,524.9 215.4,524.9 215.5,524.8 215.6,524.6 215.7,524.4 215.8,524.4 215.9,524.4 215.9,524.4 216.0,524.3 216.1,524.4 216.2,524.3 216.3,524.5 216.4,524.5 216.5,524.5 216.6,524.4 216.7,524.7 216.8,524.9 216.8,525.1 216.9,524.9 217.0,524.7 217.1,524.6 217.2,524.7 217.3,524.5 217.4,524.4 217.5,524.4 217.6,524.6 217.7,524.7 217.7,524.8 217.8,524.9 217.9,524.9 218.0,524.8 218.1,524.6 218.2,524.8 218.3,524.8 218.4,525.0 218.5,525.2 218.6,525.0 218.6,524.9 218.7,524.7 218.8,524.7 218.9,525.0 219.0,525.0 219.1,524.9 219.2,524.7 219.3,524.4 219.4,524.5 219.5,524.6 219.5,524.8 219.6,524.7 219.7,524.9 219.8,525.1 219.9,525.3 220.0,525.5 220.1,525.3 220.2,525.4 220.3,525.0 220.3,525.2 220.4,525.0 220.5,525.1 220.6,525.3 220.7,525.1 220.8,525.2 220.9,525.0 221.0,525.2 221.1,525.3 221.2,525.1 221.2,524.9 221.3,524.7 221.4,524.6 221.5,524.9 221.6,524.8 221.7,524.7 221.8,524.7 221.9,524.5 222.0,524.6 222.1,524.4 222.1,524.4 222.2,524.7 222.3,525.0 222.4,524.8 222.5,524.7 222.6,524.9 222.7,525.0 222.8,524.8 222.9,525.0 223.0,524.8 223.0,524.8 223.1,525.0 223.2,525.0 223.3,525.0 223.4,525.0 223.5,524.8 223.6,525.0 223.7,524.8 223.8,524.9 223.9,524.8 223.9,524.7 224.0,524.8 224.1,524.8 224.2,524.7 224.3,524.4 224.4,524.3 224.5,524.4 224.6,524.5 224.7,524.8 224.8,524.5 224.8,524.5 224.9,524.3 225.0,524.5 225.1,524.5 225.2,524.3 225.3,524.2 225.4,524.2 225.5,524.4 225.6,524.5 225.7,524.3 225.7,524.5 225.8,524.4 225.9,524.4 226.0,524.2 226.1,524.2 226.2,524.4 226.3,524.7 226.4,524.8 226.5,524.9 226.6,524.8 226.6,524.6 226.7,524.4 226.8,524.7 226.9,524.6 227.0,524.4 227.1,524.3 227.2,524.3 227.3,524.5 227.4,524.4 227.5,524.3 227.5,524.2 227.6,524.1 227.7,524.3 227.8,524.6 227.9,524.6 228.0,524.4 228.1,524.6 228.2,524.5 228.3,524.3 228.4,524.5 228.4,524.5 228.5,524.5 228.6,524.5 228.7,524.7 228.8,524.9 228.9,524.7 229.0,524.6 229.1,524.6 229.2,524.9 229.3,524.7 229.3,524.5 229.4,524.7 229.5,524.7 229.6,524.5 229.7,524.3 229.8,524.4 229.9,524.4 230.0,524.4 230.1,524.7 230.2,524.8 230.2,525.0 230.3,524.9 230.4,524.9 230.5,524.9 230.6,524.9 230.7,524.9 230.8,525.0 230.9,525.2 231.0,524.9 231.1,525.0 231.1,525.1 231.2,525.0 231.3,524.8 231.4,525.0 231.5,524.9 231.6,525.0 231.7,524.9 231.8,525.2 231.9,525.4 232.0,525.0 232.0,524.8 232.1,524.8 232.2,524.7 232.3,524.9 232.4,524.7 232.5,524.8 232.6,524.5 232.7,524.4 232.8,524.3 232.9,524.1 232.9,524.3 233.0,524.7 233.1,524.8 233.2,525.0 233.3,525.2 233.4,525.4 233.5,525.2 233.6,525.0 233.7,525.0 233.8,524.7 233.8,524.5 233.9,524.8 234.0,524.7 234.1,524.8 234.2,525.0 234.3,524.7 234.4,524.8 234.5,524.8 234.6,524.7 234.7,524.5 234.7,524.4 234.8,524.5 234.9,524.6 235.0,524.8 235.1,524.6 235.2,524.3 235.3,524.5 235.4,524.8 235.5,524.9 235.6,525.0 235.6,524.7 235.7,524.5 235.8,524.4 235.9,524.7 236.0,524.5 236.1,524.5 236.2,524.4 236.3,524.2 236.4,524.5 236.5,524.8 236.5,524.6 236.6,524.4 236.7,524.4 236.8,524.5 236.9,524.4 237.0,524.7 237.1,524.8 237.2,524.9 237.3,525.1 237.4,525.1 237.4,525.2 237.5,525.3 237.6,525.4 237.7,525.2 237.8,525.4 237.9,525.2 238.0,525.3 238.1,525.5 238.2,525.1 238.2,525.2 238.3,524.9 238.4,524.7 238.5,524.5 238.6,524.7 238.7,524.8 238.8,525.0 238.9,524.7 239.0,524.5 239.1,524.5 239.1,524.6 239.2,524.7 239.3,524.5 239.4,524.6 239.5,524.5 239.6,524.8 239.7,524.9 239.8,525.1 239.9,525.0 240.0,524.9 240.0,525.1 240.1,524.8 240.2,524.9 240.3,525.0 240.4,525.1 240.5,525.2 240.6,524.9 240.7,525.0 240.8,525.1 240.9,525.1 240.9,525.1 241.0,524.9 241.1,525.1 241.2,524.8 241.3,525.0 241.4,524.8 241.5,524.7 241.6,524.8 241.7,524.8 241.8,524.9 241.8,525.0 241.9,525.2 242.0,525.2 242.1,524.9 242.2,524.6 242.3,524.4 242.4,524.6 242.5,524.8 242.6,524.6 242.7,524.8 242.7,524.7 242.8,524.8 242.9,524.6 243.0,524.8 243.1,524.7 243.2,524.8 243.3,525.0 243.4,525.2 243.5,525.0 243.6,524.9 243.6,525.1 243.7,525.1 243.8,524.8 243.9,524.9 244.0,524.9 244.1,525.1 244.2,525.2 244.3,525.0 244.4,524.8 244.5,525.0 244.5,525.2 244.6,525.3 244.7,525.2 244.8,525.1 244.9,525.2 245.0,525.3 245.1,525.2 245.2,525.0 245.3,524.8 245.4,524.7 245.4,524.9 245.5,525.1 245.6,524.9 245.7,525.0 245.8,524.8 245.9,525.0 246.0,524.8 246.1,524.9 246.2,524.7 246.3,524.5 246.3,524.6 246.4,524.9 246.5,524.6 246.6,524.7 246.7,524.5 246.8,524.6 246.9,524.8 247.0,524.6 247.1,524.7 247.2,524.9 247.2,525.0 247.3,524.9 247.4,525.1 247.5,525.1 247.6,525.1 247.7,525.0 247.8,525.2 247.9,525.0 248.0,524.8 248.1,524.6 248.1,524.7 248.2,524.6 248.3,524.7 248.4,524.6 248.5,524.8 248.6,524.6 248.7,524.4 248.8,524.5 248.9,524.5 249.0,524.5 249.0,524.5 249.1,524.8 249.2,524.6 249.3,524.7 249.4,524.9 249.5,525.1 249.6,525.2 249.7,525.0 249.8,525.2 249.9,525.3 249.9,525.1 250.0,525.3 250.1,525.4 250.2,525.3 250.3,525.2 250.4,525.1 250.5,524.9 250.6,525.1 250.7,524.9 250.8,524.7 250.8,525.0 250.9,525.2 251.0,525.1 251.1,525.1 251.2,525.1 251.3,525.3 251.4,525.2 251.5,525.4 251.6,525.2 251.7,525.0 251.7,525.1 251.8,525.0 251.9,524.9 252.0,525.0 252.1,524.8 252.2,524.6 252.3,524.7 252.4,524.7 252.5,524.5 252.6,524.6 252.6,524.7 252.7,524.4 252.8,524.3 252.9,524.5 253.0,524.7 253.1,524.8 253.2,524.8 253.3,524.5 253.4,524.4 253.5,524.2 253.5,524.2 253.6,524.1 253.7,524.4 253.8,524.4 253.9,524.3 254.0,524.1 254.1,524.3 254.2,524.4 254.3,524.4 254.4,524.5 254.4,524.6 254.5,524.8 254.6,524.8 254.7,524.8 254.8,525.1 254.9,525.2 255.0,524.9 255.1,524.7 255.2,524.5 255.3,524.5 255.3,524.4 255.4,524.2 255.5,524.1 255.6,524.4 255.7,524.4 255.8,524.6 255.9,524.5 256.0,524.7 256.1,524.7 256.1,524.5 256.2,524.4 256.3,524.6 256.4,524.6 256.5,524.7 256.6,524.5 256.7,524.6 256.8,524.7 256.9,524.7 257.0,524.9 257.0,524.8 257.1,524.6 257.2,524.6 257.3,524.7 257.4,524.8 257.5,524.7 257.6,524.9 257.7,525.1 257.8,525.3 257.9,525.3 257.9,525.3 258.0,525.3 258.1,525.4 258.2,525.5 258.3,525.4 258.4,525.1 258.5,525.0 258.6,524.9 258.7,524.8 258.8,525.0 258.8,524.8 258.9,524.8 259.0,524.8 259.1,524.7 259.2,524.8 259.3,524.9 259.4,525.0 259.5,525.1 259.6,525.0 259.7,525.1 259.7,525.0 259.8,525.2 259.9,525.2 260.0,525.0 260.1,525.1 260.2,525.0 260.3,525.0 260.4,525.0 260.5,524.7 260.6,524.9 260.6,524.7 260.7,524.9 260.8,525.1 260.9,524.9 261.0,524.9 261.1,525.1 261.2,525.1 261.3,525.1 261.4,524.9 261.5,525.1 261.5,525.2 261.6,524.9 261.7,524.7 261.8,524.9 261.9,525.0 262.0,525.0 262.1,524.9 262.2,524.8 262.3,524.6 262.4,524.5 262.4,524.5 262.5,524.4 262.6,524.3 262.7,524.3 262.8,524.4 262.9,524.3 263.0,524.2 263.1,524.1 263.2,524.4 263.3,524.2 263.3,524.6 263.4,524.5 263.5,524.5 263.6,524.5 263.7,524.3 263.8,524.3 263.9,524.4 264.0,524.3 264.1,524.2 264.2,524.2 264.2,524.4 264.3,524.5 264.4,524.5 264.5,524.4 264.6,524.6" stroke="#5a5a5a" stroke-width="1.1" fill="none" stroke-linejoin="round"/>
<path d="M403.0 372.2L403.0 526.4L593.0 526.4" stroke="#4a4a4a" stroke-width="1.15" fill="none"/>
<path d="M399.5 526.0L403.0 526.0M399.5 465.2L403.0 465.2M399.5 404.4L403.0 404.4M401.2 526.0L403.0 526.0M401.2 513.8L403.0 513.8M401.2 501.7L403.0 501.7M401.2 489.5L403.0 489.5M401.2 477.4L403.0 477.4M401.2 465.2L403.0 465.2M401.2 453.0L403.0 453.0M401.2 440.9L403.0 440.9M401.2 428.7L403.0 428.7M401.2 416.6L403.0 416.6M401.2 404.4L403.0 404.4M401.2 392.2L403.0 392.2M401.2 380.1L403.0 380.1" stroke="#4a4a4a" stroke-width="1" fill="none"/>
<text x="398.5" y="530.5" font-size="13" text-anchor="end" font-weight="normal" fill="#222" >0</text>
<text x="398.5" y="469.7" font-size="13" text-anchor="end" font-weight="normal" fill="#222" >50</text>
<text x="398.5" y="408.9" font-size="13" text-anchor="end" font-weight="normal" fill="#222" >100</text>
<text x="403.0" y="541.5" font-size="13" text-anchor="middle" font-weight="normal" fill="#222" >0</text>
<text x="448.0" y="541.5" font-size="13" text-anchor="middle" font-weight="normal" fill="#222" >5</text>
<text x="493.0" y="541.5" font-size="13" text-anchor="middle" font-weight="normal" fill="#222" >10</text>
<text x="538.0" y="541.5" font-size="13" text-anchor="middle" font-weight="normal" fill="#222" >15</text>
<text x="583.0" y="541.5" font-size="13" text-anchor="middle" font-weight="normal" fill="#222" >20</text>
<polyline clip-path="url(#cd1)" points="403.0,523.8 403.1,524.0 403.2,523.9 403.3,523.7 403.4,523.6 403.4,523.4 403.5,523.7 403.6,524.0 403.7,523.7 403.8,523.8 403.9,523.8 404.0,523.6 404.1,523.7 404.2,523.9 404.3,524.0 404.4,523.8 404.4,523.7 404.5,523.8 404.6,523.8 404.7,523.8 404.8,524.1 404.9,523.8 405.0,523.7 405.1,523.4 405.2,523.4 405.2,523.4 405.3,523.6 405.4,523.8 405.5,523.5 405.6,523.3 405.7,523.5 405.8,523.3 405.9,523.1 406.0,523.3 406.1,523.3 406.1,523.0 406.2,523.1 406.3,522.9 406.4,523.2 406.5,523.3 406.6,523.2 406.7,523.4 406.8,523.6 406.9,523.3 407.0,523.4 407.1,523.2 407.1,523.4 407.2,523.7 407.3,523.7 407.4,523.9 407.5,523.6 407.6,523.7 407.7,523.6 407.8,523.9 407.9,523.8 407.9,523.8 408.0,523.8 408.1,524.1 408.2,524.2 408.3,523.9 408.4,524.0 408.5,524.1 408.6,524.2 408.7,524.2 408.8,524.3 408.9,524.5 408.9,524.2 409.0,524.2 409.1,524.3 409.2,524.1 409.3,524.3 409.4,524.3 409.5,524.0 409.6,524.1 409.7,524.1 409.8,523.8 409.8,523.6 409.9,523.8 410.0,523.8 410.1,523.7 410.2,523.7 410.3,523.4 410.4,523.6 410.5,523.3 410.6,523.4 410.6,523.6 410.7,523.6 410.8,523.8 410.9,523.7 411.0,523.8 411.1,523.5 411.2,523.5 411.3,523.6 411.4,523.7 411.5,523.6 411.6,523.8 411.6,523.5 411.7,523.8 411.8,523.7 411.9,523.7 412.0,523.8 412.1,523.6 412.2,523.7 412.3,523.6 412.4,523.5 412.4,523.6 412.5,523.7 412.6,523.9 412.7,524.1 412.8,523.8 412.9,523.9 413.0,523.7 413.1,523.9 413.2,523.8 413.3,523.9 413.4,523.8 413.4,523.9 413.5,524.1 413.6,524.2 413.7,524.2 413.8,524.4 413.9,524.1 414.0,524.2 414.1,524.1 414.2,523.8 414.2,523.6 414.3,523.4 414.4,523.2 414.5,523.5 414.6,523.6 414.7,523.9 414.8,523.7 414.9,523.6 415.0,523.7 415.1,523.7 415.2,523.6 415.2,523.5 415.3,523.6 415.4,523.4 415.5,523.5 415.6,523.5 415.7,523.7 415.8,523.9 415.9,523.6 416.0,523.4 416.1,523.3 416.1,523.6 416.2,523.9 416.3,524.1 416.4,524.2 416.5,524.2 416.6,524.2 416.7,524.4 416.8,524.4 416.9,524.2 416.9,524.3 417.0,524.0 417.1,523.9 417.2,523.7 417.3,523.8 417.4,523.8 417.5,523.7 417.6,523.7 417.7,524.0 417.8,523.7 417.9,523.5 417.9,523.7 418.0,523.9 418.1,523.7 418.2,523.6 418.3,523.8 418.4,523.9 418.5,524.0 418.6,523.6 418.7,523.5 418.8,522.9 418.8,522.3 418.9,521.9 419.0,520.7 419.1,519.3 419.2,517.0 419.3,513.6 419.4,509.4 419.5,503.5 419.6,494.6 419.7,483.0 419.7,467.1 419.8,446.2 419.9,418.9 420.0,383.7 420.1,369.2 420.2,369.2 420.3,369.2 420.4,369.2 420.5,369.2 420.6,369.2 420.6,369.2 420.7,369.2 420.8,369.2 420.9,369.2 421.0,369.2 421.1,369.2 421.2,369.2 421.3,369.2 421.4,369.2 421.4,369.2 421.5,369.2 421.6,369.2 421.7,369.2 421.8,369.2 421.9,369.2 422.0,369.2 422.1,369.2 422.2,369.2 422.3,369.2 422.3,369.2 422.4,369.2 422.5,369.2 422.6,369.2 422.7,369.2 422.8,369.2 422.9,369.2 423.0,369.2 423.1,369.2 423.2,369.2 423.2,369.2 423.3,369.2 423.4,369.2 423.5,369.2 423.6,369.2 423.7,369.2 423.8,369.2 423.9,372.3 424.0,394.8 424.1,413.4 424.1,428.4 424.2,440.7 424.3,451.1 424.4,459.5 424.5,466.2 424.6,471.7 424.7,476.1 424.8,479.4 424.9,482.0 425.0,483.5 425.0,484.7 425.1,485.7 425.2,486.1 425.3,486.3 425.4,486.3 425.5,486.3 425.6,486.4 425.7,486.6 425.8,486.3 425.9,486.4 425.9,487.1 426.0,487.7 426.1,488.3 426.2,489.5 426.3,491.1 426.4,492.6 426.5,494.3 426.6,496.2 426.7,497.9 426.8,499.9 426.8,501.2 426.9,502.7 427.0,504.1 427.1,505.2 427.2,506.4 427.3,507.7 427.4,508.8 427.5,509.9 427.6,510.9 427.7,511.2 427.7,511.5 427.8,512.1 427.9,512.7 428.0,512.9 428.1,513.0 428.2,513.1 428.3,513.6 428.4,513.7 428.5,513.7 428.6,513.8 428.6,514.2 428.7,514.6 428.8,514.6 428.9,514.9 429.0,515.1 429.1,515.1 429.2,515.2 429.3,515.0 429.4,515.2 429.5,515.4 429.5,515.1 429.6,514.8 429.7,514.3 429.8,513.9 429.9,513.2 430.0,512.6 430.1,512.2 430.2,511.8 430.3,511.6 430.4,511.2 430.4,510.7 430.5,510.6 430.6,510.2 430.7,510.2 430.8,510.1 430.9,509.8 431.0,510.3 431.1,510.8 431.2,511.2 431.3,511.9 431.3,512.3 431.4,513.2 431.5,513.6 431.6,514.1 431.7,514.7 431.8,515.5 431.9,516.3 432.0,516.8 432.1,517.4 432.2,518.0 432.2,518.5 432.3,518.9 432.4,519.1 432.5,519.2 432.6,519.3 432.7,519.7 432.8,520.1 432.9,520.2 433.0,520.3 433.1,520.5 433.1,520.8 433.2,521.1 433.3,521.2 433.4,521.2 433.5,521.0 433.6,520.8 433.7,520.6 433.8,520.4 433.9,520.3 434.0,520.4 434.0,520.4 434.1,520.8 434.2,520.8 434.3,520.9 434.4,521.1 434.5,521.2 434.6,521.0 434.7,521.1 434.8,521.1 434.9,521.4 434.9,521.5 435.0,521.4 435.1,521.8 435.2,522.0 435.3,521.9 435.4,521.9 435.5,522.2 435.6,522.1 435.7,522.2 435.8,522.2 435.8,522.2 435.9,522.2 436.0,522.2 436.1,522.3 436.2,522.5 436.3,522.7 436.4,522.4 436.5,522.4 436.6,522.6 436.7,522.4 436.7,522.6 436.8,522.8 436.9,522.7 437.0,522.9 437.1,522.8 437.2,522.8 437.3,522.9 437.4,522.8 437.5,523.0 437.6,523.0 437.6,522.9 437.7,523.1 437.8,523.1 437.9,523.3 438.0,523.3 438.1,523.0 438.2,522.9 438.3,522.8 438.4,522.6 438.5,522.9 438.5,522.6 438.6,522.5 438.7,522.8 438.8,522.6 438.9,522.7 439.0,523.0 439.1,522.7 439.2,522.7 439.3,522.6 439.4,522.9 439.4,522.7 439.5,523.0 439.6,523.2 439.7,523.3 439.8,523.5 439.9,523.4 440.0,523.5 440.1,523.6 440.2,523.4 440.3,523.4 440.3,523.1 440.4,523.0 440.5,522.8 440.6,522.8 440.7,522.6 440.8,522.5 440.9,522.8 441.0,522.7 441.1,522.9 441.2,522.8 441.2,522.7 441.3,522.6 441.4,522.9 441.5,523.1 441.6,522.9 441.7,522.7 441.8,522.7 441.9,523.0 442.0,523.0 442.1,523.3 442.1,523.3 442.2,523.1 442.3,523.3 442.4,523.1 442.5,523.0 442.6,523.2 442.7,523.4 442.8,523.4 442.9,523.2 443.0,523.2 443.0,523.4 443.1,523.7 443.2,523.9 443.3,523.6 443.4,523.8 443.5,523.7 443.6,523.8 443.7,523.6 443.8,523.6 443.9,523.8 443.9,523.5 444.0,523.5 444.1,523.4 444.2,523.2 444.3,522.9 444.4,523.3 444.5,523.4 444.6,523.6 444.7,523.6 444.8,523.3 444.8,523.2 444.9,523.5 445.0,523.7 445.1,523.4 445.2,523.3 445.3,523.4 445.4,523.4 445.5,523.6 445.6,523.4 445.7,523.5 445.7,523.2 445.8,523.2 445.9,523.5 446.0,523.6 446.1,523.8 446.2,523.5 446.3,523.4 446.4,523.7 446.5,523.9 446.6,523.9 446.6,523.9 446.7,523.7 446.8,523.8 446.9,523.8 447.0,524.1 447.1,523.9 447.2,524.0 447.3,524.2 447.4,524.1 447.5,523.7 447.5,524.0 447.6,524.1 447.7,523.9 447.8,524.0 447.9,524.1 448.0,524.0 448.1,524.0 448.2,523.9 448.3,523.8 448.4,523.5 448.4,523.2 448.5,523.5 448.6,523.5 448.7,523.3 448.8,523.1 448.9,523.0 449.0,523.0 449.1,523.0 449.2,523.2 449.3,523.4 449.3,523.2 449.4,523.0 449.5,522.8 449.6,522.8 449.7,523.0 449.8,523.0 449.9,522.9 450.0,523.0 450.1,523.0 450.2,523.2 450.2,523.2 450.3,523.3 450.4,523.6 450.5,523.7 450.6,523.8 450.7,523.4 450.8,523.5 450.9,523.6 451.0,523.7 451.1,523.8 451.1,523.9 451.2,524.1 451.3,524.3 451.4,523.9 451.5,523.9 451.6,523.9 451.7,523.8 451.8,523.9 451.9,524.0 452.0,524.2 452.0,524.2 452.1,524.3 452.2,524.0 452.3,523.9 452.4,523.6 452.5,523.7 452.6,523.4 452.7,523.4 452.8,523.7 452.9,523.8 452.9,523.7 453.0,523.4 453.1,523.5 453.2,523.4 453.3,523.4 453.4,523.2 453.5,523.5 453.6,523.5 453.7,523.3 453.8,523.5 453.8,523.6 453.9,523.9 454.0,524.1 454.1,524.1 454.2,523.9 454.3,524.0 454.4,524.0 454.5,524.1 454.6,524.0 454.7,523.7 454.7,523.6 454.8,523.8 454.9,523.6 455.0,523.3 455.1,523.3 455.2,523.6 455.3,523.4 455.4,523.2 455.5,523.3 455.6,523.6 455.6,523.8 455.7,523.7 455.8,523.5 455.9,523.4 456.0,523.2 456.1,523.4 456.2,523.5 456.3,523.4 456.4,523.3 456.5,523.4 456.5,523.3 456.6,523.5 456.7,523.7 456.8,523.8 456.9,524.0 457.0,523.9 457.1,523.9 457.2,523.9 457.3,523.8 457.4,523.9 457.4,523.9 457.5,524.1 457.6,523.8 457.7,523.7 457.8,523.4 457.9,523.7 458.0,523.6 458.1,523.5 458.2,523.6 458.3,523.8 458.3,524.0 458.4,524.1 458.5,523.9 458.6,524.1 458.7,523.8 458.8,523.8 458.9,523.8 459.0,523.7 459.1,523.6 459.2,523.5 459.2,523.5 459.3,523.6 459.4,523.4 459.5,523.6 459.6,523.5 459.7,523.3 459.8,523.2 459.9,523.4 460.0,523.2 460.1,523.0 460.1,523.1 460.2,523.3 460.3,523.3 460.4,523.1 460.5,523.4 460.6,523.7 460.7,523.7 460.8,523.6 460.9,523.4 461.0,523.5 461.0,523.2 461.1,523.4 461.2,523.3 461.3,523.6 461.4,523.9 461.5,524.1 461.6,524.2 461.7,524.1 461.8,524.0 461.9,524.1 461.9,523.8 462.0,523.8 462.1,524.0 462.2,524.1 462.3,523.9 462.4,523.6 462.5,523.8 462.6,524.1 462.7,523.8 462.8,523.9 462.8,523.6 462.9,523.6 463.0,523.5 463.1,523.6 463.2,523.4 463.3,523.5 463.4,523.6 463.5,523.3 463.6,523.6 463.7,523.5 463.7,523.7 463.8,523.6 463.9,523.7 464.0,523.4 464.1,523.7 464.2,523.7 464.3,523.7 464.4,523.4 464.5,523.2 464.6,523.2 464.6,523.4 464.7,523.6 464.8,523.7 464.9,523.7 465.0,523.9 465.1,524.0 465.2,523.8 465.3,523.7 465.4,523.8 465.5,523.4 465.5,523.6 465.6,523.6 465.7,523.8 465.8,523.5 465.9,523.3 466.0,523.5 466.1,523.4 466.2,523.2 466.3,523.4 466.4,523.5 466.4,523.5 466.5,523.3 466.6,523.5 466.7,523.4 466.8,523.4 466.9,523.4 467.0,523.4 467.1,523.2 467.2,523.4 467.3,523.2 467.3,523.4 467.4,523.2 467.5,523.1 467.6,523.3 467.7,523.1 467.8,522.9 467.9,523.1 468.0,523.5 468.1,523.7 468.2,523.4 468.2,523.7 468.3,523.5 468.4,523.7 468.5,523.5 468.6,523.8 468.7,523.9 468.8,523.8 468.9,524.0 469.0,524.0 469.1,523.7 469.1,523.6 469.2,523.3 469.3,523.1 469.4,523.4 469.5,523.6 469.6,523.4 469.7,523.3 469.8,523.6 469.9,523.6 470.0,523.8 470.0,523.8 470.1,524.0 470.2,524.2 470.3,523.8 470.4,523.9 470.5,523.6 470.6,523.8 470.7,523.8 470.8,524.0 470.9,524.0 470.9,524.1 471.0,523.9 471.1,524.1 471.2,523.9 471.3,523.8 471.4,524.0 471.5,524.0 471.6,524.0 471.7,523.7 471.8,523.7 471.8,523.9 471.9,523.5 472.0,523.3 472.1,523.2 472.2,523.4 472.3,523.6 472.4,523.8 472.5,524.0 472.6,524.2 472.7,524.1 472.7,524.1 472.8,524.0 472.9,524.0 473.0,524.2 473.1,524.0 473.2,523.9 473.3,523.8 473.4,523.7 473.5,523.6 473.6,523.3 473.6,523.1 473.7,523.0 473.8,523.2 473.9,523.3 474.0,523.4 474.1,523.2 474.2,523.3 474.3,523.4 474.4,523.5 474.5,523.7 474.5,523.4 474.6,523.7 474.7,523.6 474.8,523.4 474.9,523.5 475.0,523.5 475.1,523.6 475.2,523.7 475.3,523.9 475.4,524.1 475.4,523.8 475.5,523.6 475.6,523.3 475.7,523.6 475.8,523.5 475.9,523.6 476.0,523.5 476.1,523.5 476.2,523.6 476.3,523.3 476.3,523.7 476.4,523.5 476.5,523.3 476.6,523.3 476.7,523.3 476.8,523.1 476.9,523.3 477.0,523.3 477.1,523.2 477.2,523.3 477.2,523.2 477.3,523.3 477.4,523.3 477.5,523.3 477.6,523.2 477.7,523.4 477.8,523.3 477.9,523.4 478.0,523.6 478.1,523.5 478.1,523.6 478.2,523.4 478.3,523.4 478.4,523.3 478.5,523.3 478.6,523.4 478.7,523.6 478.8,523.8 478.9,523.5 479.0,523.5 479.0,523.5 479.1,523.5 479.2,523.3 479.3,523.5 479.4,523.7 479.5,523.5 479.6,523.5 479.7,523.5 479.8,523.3 479.9,523.1 479.9,522.9 480.0,523.3 480.1,523.4 480.2,523.2 480.3,523.1 480.4,523.4 480.5,523.6 480.6,523.8 480.7,524.0 480.8,524.0 480.8,523.8 480.9,523.7 481.0,523.7 481.1,523.9 481.2,524.0 481.3,523.6 481.4,523.5 481.5,523.5 481.6,523.5 481.7,523.4 481.7,523.2 481.8,523.5 481.9,523.4 482.0,523.5 482.1,523.5 482.2,523.7 482.3,523.7 482.4,523.8 482.5,523.8 482.6,524.1 482.6,524.2 482.7,524.1 482.8,524.3 482.9,524.3 483.0,524.1 483.1,524.2 483.2,524.2 483.3,524.2 483.4,523.9 483.5,524.1 483.5,524.0 483.6,523.7 483.7,523.8 483.8,523.9 483.9,523.6 484.0,523.6 484.1,523.6 484.2,523.9 484.3,523.9 484.4,523.9 484.4,523.7 484.5,523.8 484.6,523.9 484.7,523.7 484.8,523.5 484.9,523.6 485.0,523.7 485.1,523.6 485.2,523.3 485.3,523.6 485.3,523.3 485.4,523.2 485.5,523.3 485.6,523.3 485.7,523.4 485.8,523.7 485.9,523.5 486.0,523.6 486.1,523.6 486.2,523.6 486.2,523.3 486.3,523.2 486.4,523.6 486.5,523.5 486.6,523.5 486.7,523.6 486.8,523.4 486.9,523.4 487.0,523.5 487.1,523.3 487.1,523.3 487.2,523.4 487.3,523.4 487.4,523.2 487.5,523.2 487.6,523.1 487.7,523.2 487.8,523.6 487.9,523.4 488.0,523.4 488.0,523.3 488.1,523.2 488.2,523.5 488.3,523.6 488.4,523.9 488.5,523.6 488.6,523.9 488.7,524.1 488.8,523.9 488.9,523.8 488.9,524.0 489.0,523.8 489.1,523.7 489.2,523.7 489.3,523.9 489.4,523.7 489.5,523.8 489.6,523.7 489.7,523.4 489.8,523.2 489.8,523.0 489.9,523.3 490.0,523.5 490.1,523.5 490.2,523.8 490.3,523.5 490.4,523.6 490.5,523.7 490.6,523.8 490.7,523.9 490.7,523.6 490.8,523.6 490.9,523.5 491.0,523.5 491.1,523.7 491.2,523.7 491.3,523.3 491.4,522.9 491.5,522.4 491.6,522.1 491.6,521.8 491.7,521.3 491.8,520.2 491.9,519.0 492.0,517.3 492.1,515.2 492.2,512.5 492.3,509.5 492.4,505.7 492.5,501.7 492.5,496.6 492.6,491.3 492.7,485.9 492.8,479.9 492.9,473.6 493.0,467.4 493.1,461.3 493.2,455.8 493.3,450.9 493.4,446.6 493.4,443.6 493.5,441.6 493.6,440.7 493.7,441.0 493.8,442.0 493.9,443.2 494.0,445.3 494.1,447.6 494.2,450.9 494.3,454.3 494.3,457.8 494.4,462.1 494.5,465.9 494.6,470.4 494.7,474.6 494.8,479.0 494.9,482.9 495.0,486.9 495.1,490.6 495.2,494.3 495.2,497.7 495.3,500.9 495.4,504.0 495.5,506.9 495.6,509.1 495.7,511.5 495.8,513.1 495.9,515.0 496.0,516.7 496.1,518.1 496.1,519.0 496.2,519.5 496.3,520.4 496.4,520.9 496.5,521.6 496.6,521.8 496.7,522.0 496.8,522.6 496.9,523.1 497.0,523.1 497.0,523.5 497.1,523.3 497.2,523.5 497.3,523.7 497.4,523.7 497.5,523.8 497.6,523.7 497.7,523.9 497.8,523.6 497.9,523.7 497.9,523.5 498.0,523.7 498.1,523.5 498.2,523.2 498.3,523.4 498.4,523.7 498.5,523.7 498.6,523.6 498.7,523.8 498.8,523.7 498.8,523.9 498.9,523.9 499.0,523.7 499.1,523.7 499.2,523.6 499.3,523.8 499.4,523.6 499.5,523.8 499.6,523.5 499.7,523.2 499.7,523.0 499.8,523.1 499.9,523.3 500.0,523.4 500.1,523.3 500.2,523.3 500.3,523.1 500.4,523.4 500.5,523.5 500.6,523.2 500.6,523.2 500.7,523.3 500.8,523.6 500.9,523.8 501.0,523.9 501.1,523.6 501.2,523.4 501.3,523.6 501.4,523.3 501.5,523.6 501.5,523.6 501.6,523.3 501.7,523.4 501.8,523.2 501.9,523.1 502.0,523.5 502.1,523.8 502.2,524.0 502.3,523.9 502.4,523.7 502.4,523.6 502.5,523.4 502.6,523.7 502.7,524.0 502.8,523.7 502.9,523.8 503.0,523.6 503.1,523.7 503.2,523.9 503.3,524.0 503.3,524.2 503.4,523.8 503.5,523.7 503.6,523.8 503.7,523.8 503.8,523.8 503.9,524.1 504.0,523.8 504.1,523.7 504.2,523.4 504.2,523.4 504.3,523.4 504.4,523.6 504.5,523.8 504.6,523.5 504.7,523.3 504.8,523.5 504.9,523.3 505.0,523.1 505.1,523.3 505.1,523.3 505.2,523.0 505.3,523.1 505.4,522.9 505.5,523.2 505.6,523.3 505.7,523.2 505.8,523.4 505.9,523.6 506.0,523.3 506.0,523.4 506.1,523.2 506.2,523.4 506.3,523.7 506.4,523.7 506.5,523.9 506.6,523.6 506.7,523.7 506.8,523.6 506.9,523.9 506.9,523.8 507.0,523.8 507.1,523.8 507.2,524.1 507.3,524.2 507.4,523.9 507.5,524.0 507.6,524.1 507.7,524.2 507.8,524.2 507.8,524.3 507.9,524.5 508.0,524.2 508.1,524.2 508.2,524.3 508.3,524.1 508.4,524.3 508.5,524.3 508.6,524.0 508.7,524.1 508.7,524.1 508.8,523.8 508.9,523.6 509.0,523.8 509.1,523.8 509.2,523.7 509.3,523.7 509.4,523.4 509.5,523.6 509.6,523.3 509.6,523.4 509.7,523.6 509.8,523.6 509.9,523.8 510.0,523.7 510.1,523.8 510.2,523.5 510.3,523.5 510.4,523.6 510.5,523.7 510.5,523.6 510.6,523.8 510.7,523.5 510.8,523.8 510.9,523.7 511.0,523.7 511.1,523.8 511.2,523.6 511.3,523.7 511.4,523.6 511.4,523.5 511.5,523.6 511.6,523.7 511.7,523.9 511.8,524.1 511.9,523.8 512.0,523.9 512.1,523.7 512.2,523.9 512.3,523.8 512.3,523.9 512.4,523.8 512.5,523.9 512.6,524.1 512.7,524.2 512.8,524.2 512.9,524.4 513.0,524.1 513.1,524.2 513.2,524.1 513.2,523.8 513.3,523.6 513.4,523.4 513.5,523.2 513.6,523.5 513.7,523.6 513.8,523.9 513.9,523.7 514.0,523.6 514.1,523.7 514.1,523.7 514.2,523.6 514.3,523.5 514.4,523.6 514.5,523.4 514.6,523.5 514.7,523.5 514.8,523.7 514.9,523.9 515.0,523.6 515.0,523.4 515.1,523.3 515.2,523.6 515.3,523.9 515.4,524.1 515.5,524.2 515.6,524.2 515.7,524.2 515.8,524.4 515.9,524.4 515.9,524.2 516.0,524.3 516.1,524.0 516.2,523.9 516.3,523.7 516.4,523.8 516.5,523.8 516.6,523.7 516.7,523.7 516.8,524.0 516.8,523.7 516.9,523.6 517.0,523.7 517.1,523.9 517.2,523.7 517.3,523.6 517.4,523.9 517.5,524.0 517.6,524.2 517.7,523.9 517.7,524.0 517.8,523.7 517.9,523.5 518.0,523.8 518.1,523.6 518.2,523.7 518.3,523.5 518.4,523.3 518.5,523.5 518.6,523.8 518.6,523.5 518.7,523.5 518.8,523.3 518.9,523.2 519.0,523.1 519.1,523.0 519.2,523.0 519.3,523.1 519.4,523.4 519.5,523.3 519.5,523.4 519.6,523.4 519.7,523.2 519.8,523.5 519.9,523.3 520.0,523.6 520.1,523.5 520.2,523.3 520.3,523.5 520.4,523.5 520.4,523.2 520.5,523.2 520.6,523.2 520.7,523.4 520.8,523.7 520.9,523.8 521.0,523.8 521.1,523.9 521.2,524.0 521.3,524.2 521.3,523.9 521.4,523.8 521.5,523.9 521.6,524.0 521.7,523.9 521.8,523.9 521.9,523.6 522.0,523.7 522.1,523.8 522.2,523.5 522.2,523.7 522.3,523.7 522.4,523.8 522.5,523.5 522.6,523.5 522.7,523.4 522.8,523.6 522.9,523.5 523.0,523.4 523.1,523.5 523.1,523.3 523.2,523.2 523.3,523.5 523.4,523.6 523.5,523.7 523.6,523.8 523.7,524.1 523.8,524.1 523.9,524.2 524.0,524.0 524.0,524.0 524.1,524.1 524.2,524.2 524.3,524.1 524.4,524.1 524.5,524.2 524.6,524.4 524.7,524.6 524.8,524.1 524.9,523.9 524.9,524.1 525.0,523.9 525.1,523.5 525.2,523.5 525.3,523.7 525.4,523.7 525.5,523.7 525.6,523.9 525.7,523.8 525.8,524.0 525.8,523.5 525.9,523.3 526.0,523.0 526.1,522.5 526.2,522.0 526.3,521.6 526.4,520.9 526.5,519.9 526.6,518.5 526.7,516.1 526.7,513.1 526.8,509.6 526.9,505.3 527.0,499.7 527.1,492.9 527.2,485.1 527.3,476.6 527.4,466.9 527.5,456.3 527.6,445.3 527.6,434.4 527.7,423.7 527.8,413.3 527.9,404.3 528.0,396.7 528.1,390.9 528.2,387.4 528.3,386.0 528.4,386.7 528.5,388.6 528.5,391.2 528.6,394.7 528.7,399.0 528.8,404.2 528.9,409.9 529.0,416.2 529.1,423.3 529.2,430.5 529.3,438.2 529.4,445.7 529.4,453.0 529.5,460.4 529.6,467.1 529.7,473.8 529.8,479.9 529.9,485.3 530.0,490.7 530.1,495.7 530.2,499.9 530.3,503.8 530.3,506.9 530.4,510.0 530.5,512.2 530.6,514.1 530.7,515.7 530.8,517.3 530.9,518.7 531.0,519.6 531.1,520.4 531.2,521.2 531.2,521.8 531.3,522.3 531.4,522.5 531.5,522.6 531.6,522.5 531.7,523.0 531.8,523.2 531.9,523.4 532.0,523.4 532.1,523.5 532.1,523.7 532.2,524.0 532.3,524.0 532.4,524.0 532.5,523.6 532.6,523.4 532.7,523.2 532.8,523.0 532.9,522.8 533.0,522.8 533.0,522.7 533.1,523.1 533.2,523.1 533.3,523.1 533.4,523.3 533.5,523.3 533.6,523.1 533.7,523.1 533.8,523.1 533.9,523.3 533.9,523.4 534.0,523.2 534.1,523.6 534.2,523.8 534.3,523.6 534.4,523.6 534.5,523.9 534.6,523.7 534.7,523.8 534.8,523.7 534.8,523.7 534.9,523.7 535.0,523.6 535.1,523.7 535.2,523.9 535.3,524.0 535.4,523.7 535.5,523.7 535.6,523.9 535.7,523.6 535.7,523.8 535.8,524.0 535.9,523.9 536.0,524.0 536.1,523.9 536.2,523.9 536.3,524.0 536.4,523.9 536.5,524.1 536.6,524.0 536.6,523.9 536.7,524.1 536.8,524.1 536.9,524.2 537.0,524.2 537.1,523.9 537.2,523.8 537.3,523.6 537.4,523.5 537.5,523.7 537.5,523.4 537.6,523.3 537.7,523.6 537.8,523.4 537.9,523.5 538.0,523.7 538.1,523.4 538.2,523.4 538.3,523.2 538.4,523.5 538.4,523.3 538.5,523.6 538.6,523.8 538.7,523.8 538.8,524.1 538.9,524.0 539.0,524.1 539.1,524.1 539.2,523.9 539.3,523.9 539.3,523.6 539.4,523.5 539.5,523.3 539.6,523.3 539.7,523.1 539.8,522.9 539.9,523.2 540.0,523.1 540.1,523.3 540.2,523.2 540.2,523.1 540.3,523.0 540.4,523.3 540.5,523.4 540.6,523.3 540.7,523.1 540.8,523.0 540.9,523.4 541.0,523.3 541.1,523.6 541.1,523.6 541.2,523.4 541.3,523.7 541.4,523.4 541.5,523.3 541.6,523.5 541.7,523.7 541.8,523.7 541.9,523.5 542.0,523.4 542.0,523.7 542.1,524.0 542.2,524.1 542.3,523.9 542.4,524.0 542.5,523.9 542.6,524.0 542.7,523.8 542.8,523.9 542.9,524.0 542.9,523.7 543.0,523.7 543.1,523.5 543.2,523.4 543.3,523.1 543.4,523.5 543.5,523.6 543.6,523.8 543.7,523.8 543.8,523.5 543.8,523.3 543.9,523.7 544.0,523.8 544.1,523.6 544.2,523.5 544.3,523.6 544.4,523.6 544.5,523.8 544.6,523.5 544.7,523.6 544.7,523.4 544.8,523.3 544.9,523.6 545.0,523.7 545.1,523.9 545.2,523.6 545.3,523.5 545.4,523.8 545.5,524.0 545.6,524.0 545.6,524.0 545.7,523.9 545.8,523.9 545.9,523.9 546.0,524.2 546.1,524.0 546.2,524.1 546.3,524.3 546.4,524.2 546.5,523.8 546.5,524.0 546.6,524.2 546.7,524.0 546.8,524.1 546.9,524.1 547.0,524.0 547.1,524.1 547.2,524.0 547.3,523.9 547.4,523.6 547.4,523.3 547.5,523.6 547.6,523.6 547.7,523.4 547.8,523.2 547.9,523.1 548.0,523.1 548.1,523.1 548.2,523.2 548.3,523.4 548.3,523.3 548.4,523.1 548.5,522.9 548.6,522.9 548.7,523.1 548.8,523.0 548.9,522.9 549.0,523.0 549.1,523.0 549.2,523.2 549.2,523.2 549.3,523.3 549.4,523.6 549.5,523.7 549.6,523.8 549.7,523.5 549.8,523.5 549.9,523.6 550.0,523.7 550.1,523.9 550.1,523.9 550.2,524.1 550.3,524.3 550.4,524.0 550.5,523.9 550.6,523.9 550.7,523.8 550.8,523.9 550.9,524.1 551.0,524.2 551.0,524.3 551.1,524.3 551.2,524.0 551.3,523.9 551.4,523.6 551.5,523.7 551.6,523.4 551.7,523.4 551.8,523.7 551.9,523.9 551.9,523.8 552.0,523.4 552.1,523.5 552.2,523.4 552.3,523.5 552.4,523.2 552.5,523.6 552.6,523.6 552.7,523.3 552.8,523.5 552.8,523.7 552.9,523.9 553.0,524.1 553.1,524.1 553.2,523.9 553.3,524.1 553.4,524.0 553.5,524.2 553.6,524.0 553.7,523.7 553.7,523.6 553.8,523.8 553.9,523.6 554.0,523.3 554.1,523.3 554.2,523.6 554.3,523.4 554.4,523.2 554.5,523.3 554.6,523.6 554.6,523.8 554.7,523.7 554.8,523.5 554.9,523.4 555.0,523.2 555.1,523.4 555.2,523.5 555.3,523.4 555.4,523.3 555.5,523.4 555.5,523.3 555.6,523.5 555.7,523.8 555.8,523.8 555.9,524.0 556.0,523.9 556.1,523.9 556.2,523.9 556.3,523.8 556.4,523.9 556.4,523.9 556.5,524.1 556.6,523.8 556.7,523.7 556.8,523.4 556.9,523.7 557.0,523.6 557.1,523.5 557.2,523.6 557.3,523.8 557.3,524.0 557.4,524.1 557.5,523.9 557.6,524.1 557.7,523.8 557.8,523.8 557.9,523.8 558.0,523.7 558.1,523.6 558.2,523.5 558.2,523.5 558.3,523.6 558.4,523.4 558.5,523.6 558.6,523.5 558.7,523.3 558.8,523.2 558.9,523.4 559.0,523.2 559.1,523.0 559.1,523.1 559.2,523.3 559.3,523.3 559.4,523.1 559.5,523.4 559.6,523.7 559.7,523.7 559.8,523.6 559.9,523.4 560.0,523.5 560.0,523.2 560.1,523.5 560.2,523.3 560.3,523.6 560.4,523.9 560.5,524.1 560.6,524.3 560.7,524.1 560.8,524.0 560.9,524.2 560.9,523.8 561.0,523.8 561.1,524.0 561.2,524.1 561.3,523.9 561.4,523.6 561.5,523.8 561.6,524.1 561.7,523.8 561.8,523.9 561.8,523.6 561.9,523.6 562.0,523.5 562.1,523.6 562.2,523.4 562.3,523.5 562.4,523.6 562.5,523.3 562.6,523.6 562.7,523.5 562.7,523.7 562.8,523.6 562.9,523.7 563.0,523.4 563.1,523.7 563.2,523.7 563.3,523.7 563.4,523.4 563.5,523.2 563.6,523.2 563.6,523.4 563.7,523.6 563.8,523.7 563.9,523.7 564.0,523.9 564.1,524.0 564.2,523.7 564.3,523.8 564.4,523.4 564.5,523.6 564.6,523.6 564.6,523.8 564.7,523.5 564.8,523.3 564.9,523.5 565.0,523.4 565.1,523.2 565.2,523.4 565.3,523.5 565.4,523.5 565.5,523.3 565.5,523.5 565.6,523.4 565.7,523.4 565.8,523.4 565.9,523.4 566.0,523.2 566.1,523.4 566.2,523.2 566.3,523.4 566.4,523.2 566.4,523.1 566.5,523.3 566.6,523.1 566.7,522.9 566.8,523.1 566.9,523.5 567.0,523.7 567.1,523.4 567.2,523.7 567.3,523.5 567.3,523.7 567.4,523.5 567.5,523.8 567.6,523.9 567.7,523.8 567.8,524.0 567.9,524.0 568.0,523.7 568.1,523.6 568.2,523.3 568.2,523.1 568.3,523.4 568.4,523.6 568.5,523.4 568.6,523.3 568.7,523.6 568.8,523.6 568.9,523.8 569.0,523.8 569.1,524.0 569.1,524.2 569.2,523.8 569.3,523.9 569.4,523.6 569.5,523.8 569.6,523.8 569.7,524.0 569.8,524.0 569.9,524.1 570.0,523.9 570.0,524.1 570.1,523.9 570.2,523.8 570.3,524.0 570.4,524.0 570.5,524.0 570.6,523.7 570.7,523.7 570.8,523.9 570.9,523.5 570.9,523.3 571.0,523.2 571.1,523.4 571.2,523.6 571.3,523.8 571.4,524.0 571.5,524.2 571.6,524.1 571.7,524.1 571.8,524.0 571.8,524.0 571.9,524.2 572.0,524.0 572.1,523.9 572.2,523.8 572.3,523.7 572.4,523.6 572.5,523.3 572.6,523.1 572.7,523.0 572.7,523.2 572.8,523.3 572.9,523.4 573.0,523.2 573.1,523.3 573.2,523.4 573.3,523.5 573.4,523.7 573.5,523.4 573.6,523.7 573.6,523.6 573.7,523.4 573.8,523.5 573.9,523.5 574.0,523.6 574.1,523.7 574.2,523.9 574.3,524.1 574.4,523.8 574.5,523.6 574.5,523.3 574.6,523.6 574.7,523.5 574.8,523.6 574.9,523.5 575.0,523.5 575.1,523.6 575.2,523.3 575.3,523.7 575.4,523.5 575.4,523.3 575.5,523.3 575.6,523.3 575.7,523.1 575.8,523.3 575.9,523.3 576.0,523.2 576.1,523.3 576.2,523.2 576.3,523.3 576.3,523.3 576.4,523.3 576.5,523.2 576.6,523.4 576.7,523.3 576.8,523.4 576.9,523.6 577.0,523.5 577.1,523.6 577.2,523.4 577.2,523.4 577.3,523.3 577.4,523.3 577.5,523.4 577.6,523.6 577.7,523.8 577.8,523.5 577.9,523.5 578.0,523.5 578.1,523.5 578.1,523.3 578.2,523.5 578.3,523.7 578.4,523.5 578.5,523.5 578.6,523.5 578.7,523.3 578.8,523.1 578.9,522.9 579.0,523.3 579.0,523.4 579.1,523.2 579.2,523.1 579.3,523.4 579.4,523.6 579.5,523.8 579.6,524.0 579.7,524.0 579.8,523.8 579.9,523.7 579.9,523.7 580.0,523.9 580.1,524.0 580.2,523.6 580.3,523.5 580.4,523.5 580.5,523.5 580.6,523.4 580.7,523.2 580.8,523.5 580.8,523.4 580.9,523.5 581.0,523.5 581.1,523.7 581.2,523.7 581.3,523.8 581.4,523.8 581.5,524.1 581.6,524.2 581.7,524.1 581.7,524.3 581.8,524.3 581.9,524.1 582.0,524.2 582.1,524.2 582.2,524.2 582.3,523.9 582.4,524.1 582.5,524.0 582.6,523.7 582.6,523.8 582.7,523.9 582.8,523.6 582.9,523.6 583.0,523.6 583.1,523.9 583.2,523.9 583.3,523.9 583.4,523.7 583.5,523.8 583.5,523.9 583.6,523.7 583.7,523.5 583.8,523.6 583.9,523.7 584.0,523.6 584.1,523.3 584.2,523.6 584.3,523.3 584.4,523.2 584.4,523.3 584.5,523.3 584.6,523.4 584.7,523.7 584.8,523.5 584.9,523.6 585.0,523.6 585.1,523.6 585.2,523.3 585.3,523.2 585.3,523.6 585.4,523.5 585.5,523.5 585.6,523.6 585.7,523.4 585.8,523.4 585.9,523.5 586.0,523.3 586.1,523.3 586.2,523.4 586.2,523.4 586.3,523.2 586.4,523.2 586.5,523.1 586.6,523.2 586.7,523.6 586.8,523.4 586.9,523.4 587.0,523.3 587.1,523.2 587.1,523.5 587.2,523.6 587.3,523.9 587.4,523.6 587.5,523.9 587.6,524.1 587.7,523.9 587.8,523.8 587.9,524.0 588.0,523.8 588.0,523.7 588.1,523.7 588.2,523.9 588.3,523.7 588.4,523.8 588.5,523.7 588.6,523.4 588.7,523.2 588.8,523.0 588.9,523.3 588.9,523.5 589.0,523.5 589.1,523.8 589.2,523.5 589.3,523.6 589.4,523.7 589.5,523.8 589.6,523.9 589.7,523.7 589.8,523.6 589.8,523.6 589.9,523.6 590.0,523.9 590.1,524.0 590.2,523.7 590.3,523.5 590.4,523.3 590.5,523.5 590.6,523.7 590.7,523.9 590.7,523.9 590.8,523.9 590.9,523.9 591.0,523.8 591.1,523.7 591.2,523.8 591.3,523.6 591.4,523.8 591.5,523.5 591.6,523.5 591.6,523.7 591.7,523.8 591.8,523.8 591.9,523.8" stroke="#5a5a5a" stroke-width="1.1" fill="none" stroke-linejoin="round"/>
<path d="M75.4 561.8L75.4 700.3L265.5 700.3" stroke="#333" stroke-width="1.4" fill="none"/>
<path d="M71.9 698.0L75.4 698.0M71.9 670.8L75.4 670.8M71.9 643.5L75.4 643.5M71.9 616.3L75.4 616.3M71.9 589.0L75.4 589.0M71.9 561.8L75.4 561.8M73.6 698.0L75.4 698.0M73.6 684.4L75.4 684.4M73.6 670.8L75.4 670.8M73.6 657.1L75.4 657.1M73.6 643.5L75.4 643.5M73.6 629.9L75.4 629.9M73.6 616.3L75.4 616.3M73.6 602.7L75.4 602.7M73.6 589.0L75.4 589.0M73.6 575.4L75.4 575.4M73.6 561.8L75.4 561.8M75.4 700.3L75.4 702.1M84.4 700.3L84.4 702.1M93.5 700.3L93.5 702.1M102.5 700.3L102.5 702.1M111.5 700.3L111.5 702.1M120.6 700.3L120.6 702.1M129.6 700.3L129.6 702.1M138.6 700.3L138.6 702.1M147.6 700.3L147.6 702.1M156.7 700.3L156.7 702.1M165.7 700.3L165.7 702.1M174.7 700.3L174.7 702.1M183.8 700.3L183.8 702.1M192.8 700.3L192.8 702.1M201.8 700.3L201.8 702.1M210.8 700.3L210.8 702.1M219.9 700.3L219.9 702.1M228.9 700.3L228.9 702.1M237.9 700.3L237.9 702.1M247.0 700.3L247.0 702.1M256.0 700.3L256.0 702.1M265.0 700.3L265.0 702.1" stroke="#333" stroke-width="1" fill="none"/>
<text x="68.9" y="702.5" font-size="13" text-anchor="end" font-weight="normal" fill="#222" >0</text>
<text x="68.9" y="675.3" font-size="13" text-anchor="end" font-weight="normal" fill="#222" >500</text>
<text x="68.9" y="648.0" font-size="13" text-anchor="end" font-weight="normal" fill="#222" >1000</text>
<text x="68.9" y="620.8" font-size="13" text-anchor="end" font-weight="normal" fill="#222" >1500</text>
<text x="68.9" y="593.5" font-size="13" text-anchor="end" font-weight="normal" fill="#222" >2000</text>
<text x="68.9" y="566.3" font-size="13" text-anchor="end" font-weight="normal" fill="#222" >2500</text>
<text x="75.4" y="714.4" font-size="13" text-anchor="middle" font-weight="normal" fill="#222" >0</text>
<text x="120.6" y="714.4" font-size="13" text-anchor="middle" font-weight="normal" fill="#222" >5</text>
<text x="165.7" y="714.4" font-size="13" text-anchor="middle" font-weight="normal" fill="#222" >10</text>
<text x="210.8" y="714.4" font-size="13" text-anchor="middle" font-weight="normal" fill="#222" >15</text>
<text x="256.0" y="714.4" font-size="13" text-anchor="middle" font-weight="normal" fill="#222" >20</text>
<polyline clip-path="url(#ce1)" points="75.4,696.5 75.5,696.6 75.6,696.6 75.7,696.5 75.8,696.6 75.9,696.5 75.9,696.6 76.0,696.7 76.1,696.7 76.2,696.8 76.3,696.8 76.4,696.7 76.5,696.5 76.6,696.5 76.7,696.5 76.8,696.6 76.8,696.8 76.9,696.7 77.0,696.8 77.1,696.7 77.2,696.7 77.3,696.7 77.4,696.6 77.5,696.7 77.6,696.8 77.7,696.6 77.7,696.6 77.8,696.4 77.9,696.3 78.0,696.3 78.1,696.5 78.2,696.7 78.3,696.5 78.4,696.6 78.5,696.6 78.6,696.6 78.7,696.7 78.7,696.7 78.8,696.8 78.9,696.7 79.0,696.7 79.1,696.7 79.2,696.8 79.3,696.8 79.4,696.8 79.5,696.9 79.6,696.9 79.6,696.7 79.7,696.6 79.8,696.4 79.9,696.7 80.0,696.4 80.1,696.4 80.2,696.3 80.3,696.3 80.4,696.3 80.5,696.4 80.5,696.3 80.6,696.5 80.7,696.6 80.8,696.8 80.9,696.8 81.0,696.7 81.1,696.7 81.2,696.5 81.3,696.7 81.4,696.6 81.5,696.7 81.5,696.6 81.6,696.5 81.7,696.4 81.8,696.6 81.9,696.7 82.0,696.6 82.1,696.4 82.2,696.6 82.3,696.5 82.4,696.4 82.4,696.3 82.5,696.4 82.6,696.3 82.7,696.3 82.8,696.2 82.9,696.5 83.0,696.3 83.1,696.3 83.2,696.4 83.3,696.6 83.3,696.7 83.4,696.5 83.5,696.5 83.6,696.6 83.7,696.6 83.8,696.8 83.9,696.8 84.0,696.9 84.1,696.9 84.2,696.6 84.2,696.4 84.3,696.2 84.4,696.3 84.5,696.3 84.6,696.2 84.7,696.1 84.8,696.1 84.9,696.1 85.0,696.3 85.1,696.3 85.2,696.2 85.2,696.1 85.3,696.4 85.4,696.3 85.5,696.4 85.6,696.6 85.7,696.3 85.8,696.3 85.9,696.2 86.0,696.4 86.1,696.3 86.1,696.1 86.2,696.0 86.3,696.0 86.4,696.0 86.5,695.9 86.6,696.0 86.7,696.1 86.8,696.1 86.9,696.0 87.0,695.9 87.0,696.1 87.1,696.0 87.2,696.1 87.3,696.0 87.4,696.2 87.5,696.1 87.6,696.0 87.7,696.2 87.8,696.1 87.9,696.3 88.0,696.5 88.0,696.5 88.1,696.6 88.2,696.6 88.3,696.4 88.4,696.3 88.5,696.3 88.6,696.4 88.7,696.3 88.8,696.2 88.9,696.1 88.9,696.0 89.0,696.0 89.1,696.1 89.2,696.4 89.3,696.3 89.4,696.2 89.5,696.3 89.6,696.3 89.7,696.2 89.8,696.1 89.8,696.4 89.9,696.4 90.0,696.7 90.1,696.8 90.2,696.6 90.3,696.6 90.4,696.5 90.5,696.5 90.6,696.6 90.7,696.7 90.8,696.7 90.8,696.5 90.9,696.5 91.0,696.6 91.1,696.7 91.2,696.8 91.3,696.6 91.4,696.6 91.5,696.5 91.6,696.4 91.7,696.6 91.7,696.5 91.8,696.7 91.9,696.5 92.0,696.6 92.1,696.7 92.2,696.4 92.3,696.5 92.4,696.6 92.5,696.4 92.6,696.4 92.6,696.2 92.7,696.3 92.8,696.4 92.9,696.2 93.0,696.2 93.1,696.1 93.2,696.3 93.3,696.2 93.4,696.4 93.5,696.4 93.6,696.6 93.6,696.7 93.7,696.5 93.8,696.5 93.9,696.4 94.0,696.5 94.1,696.5 94.2,696.6 94.3,696.7 94.4,696.6 94.5,696.5 94.5,696.5 94.6,696.5 94.7,696.3 94.8,696.2 94.9,696.2 95.0,696.4 95.1,696.4 95.2,696.4 95.3,696.2 95.4,696.3 95.4,696.3 95.5,696.3 95.6,696.4 95.7,696.4 95.8,696.3 95.9,696.2 96.0,696.2 96.1,696.3 96.2,696.2 96.3,696.4 96.3,696.3 96.4,696.2 96.5,696.3 96.6,696.3 96.7,696.2 96.8,696.1 96.9,696.1 97.0,696.1 97.1,696.3 97.2,696.4 97.3,696.6 97.3,696.4 97.4,696.2 97.5,696.4 97.6,696.4 97.7,696.4 97.8,696.6 97.9,696.6 98.0,696.5 98.1,696.4 98.2,696.5 98.2,696.4 98.3,696.5 98.4,696.5 98.5,696.5 98.6,696.3 98.7,696.3 98.8,696.2 98.9,696.2 99.0,696.3 99.1,696.1 99.1,696.1 99.2,696.1 99.3,696.3 99.4,696.5 99.5,696.4 99.6,696.3 99.7,696.2 99.8,696.3 99.9,696.5 100.0,696.5 100.1,696.3 100.1,696.5 100.2,696.4 100.3,696.6 100.4,696.6 100.5,696.8 100.6,696.8 100.7,696.8 100.8,696.5 100.9,696.3 101.0,696.5 101.0,696.6 101.1,696.4 101.2,696.5 101.3,696.6 101.4,696.6 101.5,696.7 101.6,696.8 101.7,696.8 101.8,696.8 101.9,696.5 101.9,696.6 102.0,696.7 102.1,696.5 102.2,696.5 102.3,696.3 102.4,696.3 102.5,696.2 102.6,696.4 102.7,696.5 102.8,696.4 102.9,696.4 102.9,696.4 103.0,696.4 103.1,696.3 103.2,696.4 103.3,696.5 103.4,696.3 103.5,696.3 103.6,696.4 103.7,696.4 103.8,696.5 103.8,696.4 103.9,696.6 104.0,696.4 104.1,696.4 104.2,696.5 104.3,696.3 104.4,696.4 104.5,696.6 104.6,696.7 104.7,696.7 104.7,696.5 104.8,696.4 104.9,696.5 105.0,696.3 105.1,696.5 105.2,696.6 105.3,696.5 105.4,696.3 105.5,696.3 105.6,696.2 105.7,696.2 105.7,696.3 105.8,696.1 105.9,696.1 106.0,696.2 106.1,696.3 106.2,696.2 106.3,696.3 106.4,696.5 106.5,696.3 106.6,696.3 106.6,696.4 106.7,696.3 106.8,696.2 106.9,696.4 107.0,696.5 107.1,696.7 107.2,696.7 107.3,696.6 107.4,696.4 107.5,696.4 107.5,696.4 107.6,696.4 107.7,696.4 107.8,696.5 107.9,696.4 108.0,696.3 108.1,696.2 108.2,696.4 108.3,696.3 108.4,696.2 108.4,696.3 108.5,696.1 108.6,696.0 108.7,696.0 108.8,696.0 108.9,696.0 109.0,695.9 109.1,696.2 109.2,696.2 109.3,696.1 109.4,696.2 109.4,696.3 109.5,696.5 109.6,696.5 109.7,696.3 109.8,696.5 109.9,696.6 110.0,696.7 110.1,696.8 110.2,696.7 110.3,696.4 110.3,696.3 110.4,696.4 110.5,696.3 110.6,696.5 110.7,696.4 110.8,696.5 110.9,696.7 111.0,696.6 111.1,696.7 111.2,696.8 111.2,696.9 111.3,696.8 111.4,696.7 111.5,696.6 111.6,696.7 111.7,696.5 111.8,696.7 111.9,696.8 112.0,696.7 112.1,696.7 112.2,696.7 112.2,696.6 112.3,696.7 112.4,696.6 112.5,696.7 112.6,696.5 112.7,696.3 112.8,696.4 112.9,696.6 113.0,696.4 113.1,696.7 113.1,696.6 113.2,696.6 113.3,696.8 113.4,696.7 113.5,696.5 113.6,696.5 113.7,696.5 113.8,696.5 113.9,696.5 114.0,696.6 114.0,696.4 114.1,696.2 114.2,696.1 114.3,696.0 114.4,696.2 114.5,696.0 114.6,696.3 114.7,696.3 114.8,696.5 114.9,696.5 115.0,696.4 115.0,696.4 115.1,696.4 115.2,696.5 115.3,696.6 115.4,696.6 115.5,696.7 115.6,696.8 115.7,696.6 115.8,696.6 115.9,696.6 115.9,696.7 116.0,696.6 116.1,696.7 116.2,696.7 116.3,696.7 116.4,696.5 116.5,696.3 116.6,696.2 116.7,696.1 116.8,696.0 116.8,696.0 116.9,696.0 117.0,696.3 117.1,696.4 117.2,696.7 117.3,696.5 117.4,696.4 117.5,696.3 117.6,696.5 117.7,696.5 117.8,696.7 117.8,696.6 117.9,696.3 118.0,696.4 118.1,696.7 118.2,696.8 118.3,696.8 118.4,696.5 118.5,696.4 118.6,696.4 118.7,696.6 118.7,696.8 118.8,696.8 118.9,696.7 119.0,696.6 119.1,696.4 119.2,696.2 119.3,696.1 119.4,696.2 119.5,696.1 119.6,696.4 119.6,696.6 119.7,696.5 119.8,696.5 119.9,696.6 120.0,696.7 120.1,696.9 120.2,696.6 120.3,696.5 120.4,696.3 120.5,696.1 120.5,696.2 120.6,696.2 120.7,696.3 120.8,696.2 120.9,696.1 121.0,696.3 121.1,696.6 121.2,696.7 121.3,696.6 121.4,696.6 121.5,696.8 121.5,696.6 121.6,696.4 121.7,696.5 121.8,696.7 121.9,696.5 122.0,696.4 122.1,696.6 122.2,696.7 122.3,696.6 122.4,696.4 122.4,696.4 122.5,696.4 122.6,696.5 122.7,696.6 122.8,696.4 122.9,696.5 123.0,696.7 123.1,696.6 123.2,696.7 123.3,696.8 123.3,696.8 123.4,696.7 123.5,696.6 123.6,696.5 123.7,696.5 123.8,696.7 123.9,696.5 124.0,696.7 124.1,696.7 124.2,696.7 124.3,696.6 124.3,696.5 124.4,696.6 124.5,696.5 124.6,696.4 124.7,696.4 124.8,696.6 124.9,696.4 125.0,696.4 125.1,696.6 125.2,696.7 125.2,696.4 125.3,696.5 125.4,696.6 125.5,696.4 125.6,696.3 125.7,696.3 125.8,696.2 125.9,696.5 126.0,696.6 126.1,696.4 126.1,696.3 126.2,696.5 126.3,696.7 126.4,696.8 126.5,696.5 126.6,696.6 126.7,696.5 126.8,696.3 126.9,696.3 127.0,696.2 127.1,696.3 127.1,696.5 127.2,696.7 127.3,696.5 127.4,696.7 127.5,696.5 127.6,696.4 127.7,696.5 127.8,696.4 127.9,696.5 128.0,696.5 128.0,696.7 128.1,696.5 128.2,696.3 128.3,696.2 128.4,696.5 128.5,696.3 128.6,696.3 128.7,696.2 128.8,696.3 128.9,696.3 128.9,696.3 129.0,696.2 129.1,696.4 129.2,696.6 129.3,696.6 129.4,696.6 129.5,696.7 129.6,696.8 129.7,696.7 129.8,696.8 129.9,696.6 129.9,696.4 130.0,696.5 130.1,696.6 130.2,696.5 130.3,696.7 130.4,696.6 130.5,696.8 130.6,696.5 130.7,696.5 130.8,696.5 130.8,696.7 130.9,696.6 131.0,696.4 131.1,696.3 131.2,696.5 131.3,696.5 131.4,696.6 131.5,696.5 131.6,696.6 131.7,696.5 131.7,696.3 131.8,696.2 131.9,696.5 132.0,696.7 132.1,696.8 132.2,696.7 132.3,696.6 132.4,696.5 132.5,696.6 132.6,696.6 132.7,696.5 132.7,696.4 132.8,696.3 132.9,696.2 133.0,696.1 133.1,696.0 133.2,696.0 133.3,696.0 133.4,696.3 133.5,696.2 133.6,696.1 133.6,696.2 133.7,696.1 133.8,696.3 133.9,696.2 134.0,696.3 134.1,696.2 134.2,696.4 134.3,696.5 134.4,696.5 134.5,696.6 134.5,696.8 134.6,696.7 134.7,696.5 134.8,696.4 134.9,696.2 135.0,696.2 135.1,696.1 135.2,695.9 135.3,695.9 135.4,696.1 135.4,696.3 135.5,696.4 135.6,696.6 135.7,696.7 135.8,696.5 135.9,696.3 136.0,696.4 136.1,696.3 136.2,696.2 136.3,696.1 136.4,696.0 136.4,696.1 136.5,696.4 136.6,696.2 136.7,696.4 136.8,696.3 136.9,696.4 137.0,696.4 137.1,696.2 137.2,696.4 137.3,696.4 137.3,696.4 137.4,696.4 137.5,696.2 137.6,696.3 137.7,696.2 137.8,696.1 137.9,696.0 138.0,696.3 138.1,696.4 138.2,696.5 138.2,696.3 138.3,696.6 138.4,696.7 138.5,696.5 138.6,696.3 138.7,696.5 138.8,696.5 138.9,696.4 139.0,696.3 139.1,696.3 139.2,696.2 139.2,696.4 139.3,696.5 139.4,696.7 139.5,696.6 139.6,696.7 139.7,696.7 139.8,696.5 139.9,696.4 140.0,696.4 140.1,696.3 140.1,696.3 140.2,696.3 140.3,696.4 140.4,696.6 140.5,696.8 140.6,696.9 140.7,696.9 140.8,697.0 140.9,697.0 141.0,696.9 141.0,696.6 141.1,696.5 141.2,696.6 141.3,696.5 141.4,696.6 141.5,696.8 141.6,696.8 141.7,696.8 141.8,696.6 141.9,696.6 142.0,696.5 142.0,696.7 142.1,696.4 142.2,696.5 142.3,696.4 142.4,696.6 142.5,696.4 142.6,696.6 142.7,696.4 142.8,696.3 142.9,696.2 142.9,696.4 143.0,696.6 143.1,696.7 143.2,696.5 143.3,696.6 143.4,696.5 143.5,696.5 143.6,696.4 143.7,696.6 143.8,696.7 143.8,696.8 143.9,696.6 144.0,696.6 144.1,696.5 144.2,696.5 144.3,696.6 144.4,696.8 144.5,696.9 144.6,696.7 144.7,696.8 144.8,696.5 144.8,696.6 144.9,696.5 145.0,696.6 145.1,696.5 145.2,696.6 145.3,696.6 145.4,696.6 145.5,696.7 145.6,696.8 145.7,696.6 145.7,696.7 145.8,696.7 145.9,696.5 146.0,696.6 146.1,696.7 146.2,696.8 146.3,696.8 146.4,696.8 146.5,696.7 146.6,696.6 146.6,696.4 146.7,696.6 146.8,696.5 146.9,696.4 147.0,696.5 147.1,696.7 147.2,696.7 147.3,696.8 147.4,696.8 147.5,696.6 147.5,696.8 147.6,696.9 147.7,696.8 147.8,696.9 147.9,696.9 148.0,696.9 148.1,696.9 148.2,697.0 148.3,697.0 148.4,696.9 148.5,696.6 148.5,696.6 148.6,696.7 148.7,696.8 148.8,696.6 148.9,696.6 149.0,696.4 149.1,696.2 149.2,696.1 149.3,696.3 149.4,696.2 149.4,696.2 149.5,696.4 149.6,696.6 149.7,696.4 149.8,696.5 149.9,696.7 150.0,696.8 150.1,696.5 150.2,696.5 150.3,696.4 150.3,696.6 150.4,696.6 150.5,696.7 150.6,696.7 150.7,696.6 150.8,696.7 150.9,696.8 151.0,696.5 151.1,696.5 151.2,696.6 151.3,696.8 151.3,696.7 151.4,696.6 151.5,696.8 151.6,696.8 151.7,696.6 151.8,696.6 151.9,696.7 152.0,696.6 152.1,696.5 152.2,696.5 152.2,696.6 152.3,696.5 152.4,696.3 152.5,696.2 152.6,696.1 152.7,696.2 152.8,696.1 152.9,696.3 153.0,696.5 153.1,696.4 153.1,696.3 153.2,696.5 153.3,696.6 153.4,696.8 153.5,696.7 153.6,696.9 153.7,696.9 153.8,696.7 153.9,696.6 154.0,696.4 154.1,696.5 154.1,696.4 154.2,696.6 154.3,696.4 154.4,696.5 154.5,696.5 154.6,696.5 154.7,696.3 154.8,696.3 154.9,696.2 155.0,696.2 155.0,696.4 155.1,696.2 155.2,696.4 155.3,696.2 155.4,696.3 155.5,696.4 155.6,696.2 155.7,696.4 155.8,696.4 155.9,696.5 155.9,696.4 156.0,696.6 156.1,696.7 156.2,696.8 156.3,696.6 156.4,696.8 156.5,696.7 156.6,696.7 156.7,696.7 156.8,696.6 156.9,696.5 156.9,696.7 157.0,696.7 157.1,696.8 157.2,696.6 157.3,696.7 157.4,696.8 157.5,696.7 157.6,696.7 157.7,696.4 157.8,696.6 157.8,696.7 157.9,696.8 158.0,696.7 158.1,696.7 158.2,696.7 158.3,696.5 158.4,696.4 158.5,696.3 158.6,696.1 158.7,696.3 158.7,696.1 158.8,696.2 158.9,696.5 159.0,696.3 159.1,696.5 159.2,696.7 159.3,696.8 159.4,696.8 159.5,696.5 159.6,696.4 159.6,696.4 159.7,696.4 159.8,696.3 159.9,696.2 160.0,696.2 160.1,696.2 160.2,696.4 160.3,696.6 160.4,696.5 160.5,696.4 160.6,696.3 160.6,696.2 160.7,696.0 160.8,696.3 160.9,696.5 161.0,696.3 161.1,696.3 161.2,696.5 161.3,696.4 161.4,696.5 161.5,696.6 161.5,696.7 161.6,696.6 161.7,696.5 161.8,696.7 161.9,696.5 162.0,696.5 162.1,696.5 162.2,696.4 162.3,696.3 162.4,696.5 162.4,696.5 162.5,696.4 162.6,696.4 162.7,696.3 162.8,696.5 162.9,696.3 163.0,696.2 163.1,696.4 163.2,696.4 163.3,696.2 163.4,696.4 163.4,696.5 163.5,696.3 163.6,696.1 163.7,696.3 163.8,696.2 163.9,696.4 164.0,696.3 164.1,696.2 164.2,696.4 164.3,696.6 164.3,696.7 164.4,696.7 164.5,696.9 164.6,697.0 164.7,696.9 164.8,696.9 164.9,697.0 165.0,696.8 165.1,696.6 165.2,696.5 165.2,696.6 165.3,696.5 165.4,696.5 165.5,696.6 165.6,696.6 165.7,696.8 165.8,696.7 165.9,696.8 166.0,696.8 166.1,696.5 166.2,696.4 166.2,696.3 166.3,696.2 166.4,696.2 166.5,696.2 166.6,696.0 166.7,696.3 166.8,696.2 166.9,696.3 167.0,696.5 167.1,696.3 167.1,696.3 167.2,696.2 167.3,696.1 167.4,696.1 167.5,696.3 167.6,696.6 167.7,696.5 167.8,696.4 167.9,696.5 168.0,696.7 168.0,696.9 168.1,696.9 168.2,696.8 168.3,696.9 168.4,696.9 168.5,697.0 168.6,696.8 168.7,696.5 168.8,696.7 168.9,696.8 169.0,696.6 169.0,696.3 169.1,696.5 169.2,696.6 169.3,696.6 169.4,696.6 169.5,696.6 169.6,696.6 169.7,696.7 169.8,696.8 169.9,696.9 169.9,697.0 170.0,697.1 170.1,696.9 170.2,696.7 170.3,696.8 170.4,696.6 170.5,696.5 170.6,696.5 170.7,696.5 170.8,696.7 170.8,696.4 170.9,696.4 171.0,696.6 171.1,696.7 171.2,696.6 171.3,696.6 171.4,696.5 171.5,696.6 171.6,696.5 171.7,696.3 171.8,696.5 171.8,696.5 171.9,696.6 172.0,696.5 172.1,696.4 172.2,696.3 172.3,696.4 172.4,696.6 172.5,696.5 172.6,696.5 172.7,696.6 172.7,696.7 172.8,696.6 172.9,696.8 173.0,696.7 173.1,696.7 173.2,696.8 173.3,696.8 173.4,696.7 173.5,696.5 173.6,696.7 173.6,696.6 173.7,696.7 173.8,696.7 173.9,696.6 174.0,696.5 174.1,696.5 174.2,696.3 174.3,696.4 174.4,696.5 174.5,696.5 174.5,696.6 174.6,696.7 174.7,696.8 174.8,696.5 174.9,696.6 175.0,696.6 175.1,696.5 175.2,696.6 175.3,696.5 175.4,696.6 175.5,696.7 175.5,696.7 175.6,696.8 175.7,696.7 175.8,696.5 175.9,696.5 176.0,696.5 176.1,696.7 176.2,696.6 176.3,696.8 176.4,696.7 176.4,696.8 176.5,696.7 176.6,696.7 176.7,696.7 176.8,696.6 176.9,696.7 177.0,696.8 177.1,696.6 177.2,696.6 177.3,696.4 177.3,696.3 177.4,696.3 177.5,696.5 177.6,696.7 177.7,696.5 177.8,696.6 177.9,696.6 178.0,696.6 178.1,696.7 178.2,696.7 178.3,696.8 178.3,696.7 178.4,696.7 178.5,696.7 178.6,696.8 178.7,696.8 178.8,696.8 178.9,696.9 179.0,696.9 179.1,696.7 179.2,696.6 179.2,696.4 179.3,696.7 179.4,696.4 179.5,696.4 179.6,696.3 179.7,696.3 179.8,696.3 179.9,696.4 180.0,696.3 180.1,696.5 180.1,696.6 180.2,696.8 180.3,696.8 180.4,696.7 180.5,696.7 180.6,696.5 180.7,696.7 180.8,696.6 180.9,696.7 181.0,696.6 181.1,696.5 181.1,696.4 181.2,696.6 181.3,696.7 181.4,696.6 181.5,696.4 181.6,696.6 181.7,696.5 181.8,696.4 181.9,696.3 182.0,696.4 182.0,696.3 182.1,696.3 182.2,696.2 182.3,696.5 182.4,696.3 182.5,696.3 182.6,696.4 182.7,696.6 182.8,696.7 182.9,696.5 182.9,696.5 183.0,696.6 183.1,696.6 183.2,696.8 183.3,696.8 183.4,696.9 183.5,696.9 183.6,696.6 183.7,696.4 183.8,696.2 183.9,696.3 183.9,696.3 184.0,696.2 184.1,696.1 184.2,696.1 184.3,696.1 184.4,696.3 184.5,696.3 184.6,696.2 184.7,696.1 184.8,696.4 184.8,696.3 184.9,696.4 185.0,696.6 185.1,696.3 185.2,696.3 185.3,696.2 185.4,696.4 185.5,696.3 185.6,696.1 185.7,696.0 185.7,696.0 185.8,696.0 185.9,695.9 186.0,696.0 186.1,696.1 186.2,696.1 186.3,696.0 186.4,695.9 186.5,696.1 186.6,696.0 186.6,696.1 186.7,696.0 186.8,696.2 186.9,696.1 187.0,696.0 187.1,696.2 187.2,696.1 187.3,696.3 187.4,696.5 187.5,696.5 187.6,696.6 187.6,696.6 187.7,696.4 187.8,696.3 187.9,696.3 188.0,696.4 188.1,696.3 188.2,696.2 188.3,696.1 188.4,696.0 188.5,696.0 188.5,696.1 188.6,696.4 188.7,696.3 188.8,696.2 188.9,696.3 189.0,696.3 189.1,696.2 189.2,696.1 189.3,696.4 189.4,696.4 189.4,696.7 189.5,696.8 189.6,696.6 189.7,696.6 189.8,696.5 189.9,696.5 190.0,696.6 190.1,696.7 190.2,696.7 190.3,696.5 190.4,696.5 190.4,696.6 190.5,696.7 190.6,696.8 190.7,696.6 190.8,696.6 190.9,696.5 191.0,696.4 191.1,696.6 191.2,696.5 191.3,696.7 191.3,696.5 191.4,696.6 191.5,696.7 191.6,696.4 191.7,696.5 191.8,696.6 191.9,696.4 192.0,696.4 192.1,696.2 192.2,696.3 192.2,696.4 192.3,696.2 192.4,696.2 192.5,696.1 192.6,696.3 192.7,696.2 192.8,696.4 192.9,696.4 193.0,696.6 193.1,696.7 193.2,696.5 193.2,696.5 193.3,696.4 193.4,696.5 193.5,696.6 193.6,696.7 193.7,696.6 193.8,696.5 193.9,696.4 194.0,696.5 194.1,696.3 194.1,696.2 194.2,696.2 194.3,696.4 194.4,696.4 194.5,696.4 194.6,696.2 194.7,696.3 194.8,696.3 194.9,696.3 195.0,696.4 195.0,696.4 195.1,696.3 195.2,696.2 195.3,696.2 195.4,696.3 195.5,696.1 195.6,696.4 195.7,696.2 195.8,696.2 195.9,696.2 196.0,696.2 196.0,696.1 196.1,696.0 196.2,695.9 196.3,695.8 196.4,696.1 196.5,696.1 196.6,696.2 196.7,695.9 196.8,695.7 196.9,695.8 196.9,695.6 197.0,695.5 197.1,695.5 197.2,695.4 197.3,695.0 197.4,694.8 197.5,694.6 197.6,694.2 197.7,693.9 197.8,693.5 197.8,693.1 197.9,692.4 198.0,691.9 198.1,691.2 198.2,690.5 198.3,689.8 198.4,688.8 198.5,687.9 198.6,686.9 198.7,685.9 198.7,684.9 198.8,683.6 198.9,682.0 199.0,680.3 199.1,678.8 199.2,677.1 199.3,675.2 199.4,672.9 199.5,670.8 199.6,668.4 199.7,666.0 199.7,663.4 199.8,660.7 199.9,657.8 200.0,654.7 200.1,651.2 200.2,647.7 200.3,644.4 200.4,640.9 200.5,637.0 200.6,633.4 200.6,629.6 200.7,625.8 200.8,622.0 200.9,618.1 201.0,614.2 201.1,610.3 201.2,606.2 201.3,602.4 201.4,598.8 201.5,595.0 201.5,591.5 201.6,588.0 201.7,584.9 201.8,581.8 201.9,579.2 202.0,576.8 202.1,574.4 202.2,572.5 202.3,570.7 202.4,569.3 202.5,568.1 202.5,567.4 202.6,567.0 202.7,566.6 202.8,566.7 202.9,567.1 203.0,567.5 203.1,568.2 203.2,568.9 203.3,570.0 203.4,570.9 203.4,572.1 203.5,573.6 203.6,574.9 203.7,576.7 203.8,578.7 203.9,580.8 204.0,582.8 204.1,584.8 204.2,587.0 204.3,589.4 204.3,591.7 204.4,594.4 204.5,597.1 204.6,599.6 204.7,602.2 204.8,604.9 204.9,607.6 205.0,610.4 205.1,613.3 205.2,616.0 205.3,618.9 205.3,621.9 205.4,624.8 205.5,627.5 205.6,630.5 205.7,633.4 205.8,636.0 205.9,638.7 206.0,641.3 206.1,643.9 206.2,646.3 206.2,649.0 206.3,651.5 206.4,654.0 206.5,656.3 206.6,658.4 206.7,660.4 206.8,662.4 206.9,664.4 207.0,666.3 207.1,668.1 207.1,670.0 207.2,671.5 207.3,673.0 207.4,674.5 207.5,676.1 207.6,677.5 207.7,678.7 207.8,680.0 207.9,681.0 208.0,682.0 208.1,683.0 208.1,684.0 208.2,684.9 208.3,685.7 208.4,686.8 208.5,687.5 208.6,688.2 208.7,688.9 208.8,689.7 208.9,690.4 209.0,690.9 209.0,691.3 209.1,691.8 209.2,692.4 209.3,692.9 209.4,693.4 209.5,693.5 209.6,693.6 209.7,693.7 209.8,694.1 209.9,694.2 209.9,694.7 210.0,694.7 210.1,695.0 210.2,695.3 210.3,695.4 210.4,695.6 210.5,695.8 210.6,696.0 210.7,696.1 210.8,696.1 210.8,695.9 210.9,696.2 211.0,696.1 211.1,696.3 211.2,696.4 211.3,696.3 211.4,696.4 211.5,696.5 211.6,696.4 211.7,696.5 211.8,696.4 211.8,696.5 211.9,696.3 212.0,696.2 212.1,696.3 212.2,696.5 212.3,696.4 212.4,696.6 212.5,696.6 212.6,696.6 212.7,696.7 212.7,696.6 212.8,696.5 212.9,696.5 213.0,696.5 213.1,696.5 213.2,696.4 213.3,696.6 213.4,696.4 213.5,696.2 213.6,696.1 213.6,696.0 213.7,696.1 213.8,696.0 213.9,696.3 214.0,696.3 214.1,696.5 214.2,696.5 214.3,696.4 214.4,696.3 214.5,696.4 214.6,696.4 214.6,696.6 214.7,696.6 214.8,696.6 214.9,696.7 215.0,696.5 215.1,696.5 215.2,696.5 215.3,696.6 215.4,696.4 215.5,696.5 215.5,696.5 215.6,696.4 215.7,696.3 215.8,696.0 215.9,695.9 216.0,695.8 216.1,695.6 216.2,695.6 216.3,695.5 216.4,695.8 216.4,695.9 216.5,696.1 216.6,695.8 216.7,695.7 216.8,695.6 216.9,695.7 217.0,695.7 217.1,695.8 217.2,695.7 217.3,695.4 217.4,695.5 217.4,695.7 217.5,695.8 217.6,695.7 217.7,695.5 217.8,695.3 217.9,695.3 218.0,695.5 218.1,695.7 218.2,695.8 218.3,695.6 218.3,695.6 218.4,695.3 218.5,695.2 218.6,695.1 218.7,695.2 218.8,695.2 218.9,695.5 219.0,695.7 219.1,695.7 219.2,695.7 219.2,695.9 219.3,696.0 219.4,696.2 219.5,696.0 219.6,695.9 219.7,695.8 219.8,695.6 219.9,695.8 220.0,695.8 220.1,695.9 220.2,695.8 220.2,695.8 220.3,696.1 220.4,696.3 220.5,696.5 220.6,696.4 220.7,696.5 220.8,696.7 220.9,696.5 221.0,696.3 221.1,696.4 221.1,696.6 221.2,696.4 221.3,696.4 221.4,696.6 221.5,696.6 221.6,696.6 221.7,696.4 221.8,696.4 221.9,696.3 222.0,696.5 222.0,696.6 222.1,696.4 222.2,696.5 222.3,696.6 222.4,696.6 222.5,696.7 222.6,696.8 222.7,696.8 222.8,696.7 222.9,696.6 223.0,696.5 223.0,696.5 223.1,696.7 223.2,696.5 223.3,696.7 223.4,696.7 223.5,696.7 223.6,696.6 223.7,696.5 223.8,696.6 223.9,696.5 223.9,696.4 224.0,696.4 224.1,696.6 224.2,696.4 224.3,696.4 224.4,696.6 224.5,696.7 224.6,696.4 224.7,696.5 224.8,696.6 224.8,696.4 224.9,696.3 225.0,696.3 225.1,696.2 225.2,696.5 225.3,696.6 225.4,696.4 225.5,696.3 225.6,696.5 225.7,696.7 225.7,696.8 225.8,696.5 225.9,696.6 226.0,696.5 226.1,696.3 226.2,696.3 226.3,696.2 226.4,696.3 226.5,696.5 226.6,696.7 226.7,696.5 226.7,696.7 226.8,696.5 226.9,696.4 227.0,696.5 227.1,696.4 227.2,696.5 227.3,696.5 227.4,696.7 227.5,696.5 227.6,696.3 227.6,696.2 227.7,696.5 227.8,696.3 227.9,696.3 228.0,696.2 228.1,696.3 228.2,696.3 228.3,696.3 228.4,696.2 228.5,696.4 228.5,696.6 228.6,696.6 228.7,696.6 228.8,696.7 228.9,696.8 229.0,696.7 229.1,696.8 229.2,696.6 229.3,696.4 229.4,696.5 229.5,696.6 229.5,696.5 229.6,696.7 229.7,696.6 229.8,696.8 229.9,696.5 230.0,696.5 230.1,696.5 230.2,696.7 230.3,696.6 230.4,696.4 230.4,696.3 230.5,696.5 230.6,696.5 230.7,696.6 230.8,696.5 230.9,696.6 231.0,696.5 231.1,696.3 231.2,696.2 231.3,696.5 231.3,696.7 231.4,696.8 231.5,696.7 231.6,696.6 231.7,696.5 231.8,696.6 231.9,696.6 232.0,696.5 232.1,696.4 232.2,696.3 232.3,696.2 232.3,696.1 232.4,696.0 232.5,696.0 232.6,696.0 232.7,696.3 232.8,696.2 232.9,696.1 233.0,696.2 233.1,696.1 233.2,696.3 233.2,696.2 233.3,696.3 233.4,696.2 233.5,696.4 233.6,696.5 233.7,696.5 233.8,696.6 233.9,696.8 234.0,696.7 234.1,696.5 234.1,696.4 234.2,696.2 234.3,696.2 234.4,696.1 234.5,695.9 234.6,695.9 234.7,696.1 234.8,696.3 234.9,696.4 235.0,696.6 235.1,696.7 235.1,696.5 235.2,696.3 235.3,696.4 235.4,696.3 235.5,696.2 235.6,696.1 235.7,696.0 235.8,696.1 235.9,696.4 236.0,696.2 236.0,696.4 236.1,696.3 236.2,696.4 236.3,696.4 236.4,696.2 236.5,696.4 236.6,696.4 236.7,696.4 236.8,696.4 236.9,696.2 236.9,696.3 237.0,696.2 237.1,696.0 237.2,696.3 237.3,696.4 237.4,696.5 237.5,696.3 237.6,696.6 237.7,696.7 237.8,696.5 237.8,696.3 237.9,696.5 238.0,696.5 238.1,696.4 238.2,696.3 238.3,696.3 238.4,696.2 238.5,696.4 238.6,696.5 238.7,696.7 238.8,696.6 238.8,696.7 238.9,696.7 239.0,696.5 239.1,696.4 239.2,696.4 239.3,696.3 239.4,696.3 239.5,696.3 239.6,696.4 239.7,696.6 239.7,696.8 239.8,696.9 239.9,696.9 240.0,697.0 240.1,697.0 240.2,696.9 240.3,696.6 240.4,696.5 240.5,696.6 240.6,696.5 240.6,696.6 240.7,696.8 240.8,696.8 240.9,696.8 241.0,696.6 241.1,696.6 241.2,696.5 241.3,696.7 241.4,696.4 241.5,696.5 241.6,696.4 241.6,696.6 241.7,696.4 241.8,696.6 241.9,696.4 242.0,696.3 242.1,696.2 242.2,696.4 242.3,696.6 242.4,696.7 242.5,696.5 242.5,696.6 242.6,696.5 242.7,696.5 242.8,696.4 242.9,696.6 243.0,696.7 243.1,696.8 243.2,696.5 243.3,696.6 243.4,696.5 243.4,696.5 243.5,696.6 243.6,696.7 243.7,696.9 243.8,696.6 243.9,696.8 244.0,696.5 244.1,696.5 244.2,696.4 244.3,696.6 244.4,696.4 244.4,696.5 244.5,696.5 244.6,696.5 244.7,696.6 244.8,696.7 244.9,696.5 245.0,696.5 245.1,696.5 245.2,696.3 245.3,696.4 245.3,696.5 245.4,696.5 245.5,696.5 245.6,696.5 245.7,696.3 245.8,696.2 245.9,696.0 246.0,696.1 246.1,696.0 246.2,695.8 246.2,695.8 246.3,696.0 246.4,695.9 246.5,695.9 246.6,695.8 246.7,695.6 246.8,695.6 246.9,695.6 247.0,695.5 247.1,695.5 247.2,695.4 247.2,695.2 247.3,695.2 247.4,695.2 247.5,695.0 247.6,694.8 247.7,694.4 247.8,694.2 247.9,694.3 248.0,694.2 248.1,693.9 248.1,693.7 248.2,693.4 248.3,693.1 248.4,692.9 248.5,693.0 248.6,692.8 248.7,692.7 248.8,692.8 248.9,692.9 249.0,692.6 249.0,692.7 249.1,692.8 249.2,692.8 249.3,692.5 249.4,692.5 249.5,692.3 249.6,692.5 249.7,692.5 249.8,692.6 249.9,692.7 249.9,692.6 250.0,692.6 250.1,692.8 250.2,692.6 250.3,692.7 250.4,692.9 250.5,693.1 250.6,693.1 250.7,693.1 250.8,693.4 250.9,693.4 250.9,693.4 251.0,693.5 251.1,693.7 251.2,693.8 251.3,693.8 251.4,693.9 251.5,694.1 251.6,694.1 251.7,694.0 251.8,694.1 251.8,694.1 251.9,694.4 252.0,694.4 252.1,694.7 252.2,694.9 252.3,695.0 252.4,694.9 252.5,695.3 252.6,695.5 252.7,695.7 252.7,695.8 252.8,696.0 252.9,696.1 253.0,696.0 253.1,696.0 253.2,695.8 253.3,695.9 253.4,695.9 253.5,696.2 253.6,696.0 253.7,696.2 253.7,696.2 253.8,696.2 253.9,696.0 254.0,696.1 254.1,696.0 254.2,696.0 254.3,696.2 254.4,696.1 254.5,696.3 254.6,696.1 254.6,696.2 254.7,696.4 254.8,696.2 254.9,696.3 255.0,696.4 255.1,696.5 255.2,696.4 255.3,696.6 255.4,696.6 255.5,696.7 255.5,696.6 255.6,696.8 255.7,696.6 255.8,696.7 255.9,696.7 256.0,696.6 256.1,696.5 256.2,696.7 256.3,696.7 256.4,696.8 256.5,696.6 256.5,696.7 256.6,696.8 256.7,696.7 256.8,696.6 256.9,696.4 257.0,696.6 257.1,696.7 257.2,696.8 257.3,696.7 257.4,696.7 257.4,696.7 257.5,696.5 257.6,696.4 257.7,696.3 257.8,696.1 257.9,696.3 258.0,696.1 258.1,696.2 258.2,696.5 258.3,696.3 258.3,696.5 258.4,696.7 258.5,696.8 258.6,696.8 258.7,696.5 258.8,696.4 258.9,696.4 259.0,696.4 259.1,696.3 259.2,696.2 259.3,696.2 259.3,696.2 259.4,696.4 259.5,696.6 259.6,696.5 259.7,696.4 259.8,696.3 259.9,696.2 260.0,696.0 260.1,696.3 260.2,696.5 260.2,696.3 260.3,696.3 260.4,696.5 260.5,696.4 260.6,696.5 260.7,696.6 260.8,696.7 260.9,696.6 261.0,696.5 261.1,696.7 261.1,696.5 261.2,696.5 261.3,696.5 261.4,696.4 261.5,696.3 261.6,696.5 261.7,696.5 261.8,696.4 261.9,696.4 262.0,696.3 262.1,696.5 262.1,696.3 262.2,696.2 262.3,696.4 262.4,696.4 262.5,696.2 262.6,696.4 262.7,696.5 262.8,696.3 262.9,696.1 263.0,696.3 263.0,696.2 263.1,696.4 263.2,696.3 263.3,696.2 263.4,696.4 263.5,696.6 263.6,696.7 263.7,696.7 263.8,696.9 263.9,697.0 263.9,696.9 264.0,696.9 264.1,697.0 264.2,696.8 264.3,696.6 264.4,696.5 264.5,696.6 264.6,696.5 264.7,696.5 264.8,696.6 264.8,696.6 264.9,696.8" stroke="#1e1e1e" stroke-width="1.25" fill="none" stroke-linejoin="round"/>
<path d="M402.8 563.2L402.8 700.0L593.0 700.0" stroke="#333" stroke-width="1.4" fill="none"/>
<path d="M399.3 698.0L402.8 698.0M399.3 659.6L402.8 659.6M399.3 621.2L402.8 621.2M399.3 582.8L402.8 582.8M401.0 698.0L402.8 698.0M401.0 678.8L402.8 678.8M401.0 659.6L402.8 659.6M401.0 640.4L402.8 640.4M401.0 621.2L402.8 621.2M401.0 602.0L402.8 602.0M401.0 582.8L402.8 582.8M401.0 563.6L402.8 563.6M402.8 700.0L402.8 701.8M411.8 700.0L411.8 701.8M420.9 700.0L420.9 701.8M429.9 700.0L429.9 701.8M438.9 700.0L438.9 701.8M448.0 700.0L448.0 701.8M457.0 700.0L457.0 701.8M466.0 700.0L466.0 701.8M475.1 700.0L475.1 701.8M484.1 700.0L484.1 701.8M493.1 700.0L493.1 701.8M502.2 700.0L502.2 701.8M511.2 700.0L511.2 701.8M520.3 700.0L520.3 701.8M529.3 700.0L529.3 701.8M538.3 700.0L538.3 701.8M547.4 700.0L547.4 701.8M556.4 700.0L556.4 701.8M565.4 700.0L565.4 701.8M574.5 700.0L574.5 701.8M583.5 700.0L583.5 701.8M592.5 700.0L592.5 701.8" stroke="#333" stroke-width="1" fill="none"/>
<text x="396.3" y="702.5" font-size="13" text-anchor="end" font-weight="normal" fill="#222" >0</text>
<text x="396.3" y="664.1" font-size="13" text-anchor="end" font-weight="normal" fill="#222" >500</text>
<text x="396.3" y="625.7" font-size="13" text-anchor="end" font-weight="normal" fill="#222" >1000</text>
<text x="396.3" y="587.3" font-size="13" text-anchor="end" font-weight="normal" fill="#222" >1500</text>
<text x="402.8" y="716.3" font-size="13" text-anchor="middle" font-weight="normal" fill="#222" >0</text>
<text x="448.0" y="716.3" font-size="13" text-anchor="middle" font-weight="normal" fill="#222" >5</text>
<text x="493.1" y="716.3" font-size="13" text-anchor="middle" font-weight="normal" fill="#222" >10</text>
<text x="538.3" y="716.3" font-size="13" text-anchor="middle" font-weight="normal" fill="#222" >15</text>
<text x="583.5" y="716.3" font-size="13" text-anchor="middle" font-weight="normal" fill="#222" >20</text>
<polyline clip-path="url(#cf1)" points="402.8,696.1 402.9,696.0 403.0,695.9 403.1,695.7 403.2,695.6 403.3,695.9 403.3,696.1 403.4,696.0 403.5,696.3 403.6,696.3 403.7,696.3 403.8,696.5 403.9,696.8 404.0,696.7 404.1,696.8 404.2,696.2 404.2,696.2 404.3,696.4 404.4,696.6 404.5,696.6 404.6,696.5 404.7,696.6 404.8,696.4 404.9,696.3 405.0,696.2 405.1,696.4 405.1,696.7 405.2,696.7 405.3,696.6 405.4,696.7 405.5,696.5 405.6,696.6 405.7,696.7 405.8,696.6 405.9,696.4 406.0,696.2 406.1,696.3 406.1,696.4 406.2,696.1 406.3,695.9 406.4,695.9 406.5,696.2 406.6,696.3 406.7,696.2 406.8,696.3 406.9,696.6 407.0,696.3 407.0,696.0 407.1,696.3 407.2,696.3 407.3,696.3 407.4,696.4 407.5,696.6 407.6,696.4 407.7,696.2 407.8,696.3 407.9,696.5 407.9,696.6 408.0,696.8 408.1,696.4 408.2,696.6 408.3,696.7 408.4,696.5 408.5,696.7 408.6,696.8 408.7,697.0 408.8,697.1 408.9,696.9 408.9,696.6 409.0,696.7 409.1,696.8 409.2,696.6 409.3,696.6 409.4,696.6 409.5,696.8 409.6,696.8 409.7,696.5 409.8,696.7 409.8,696.7 409.9,696.5 410.0,696.2 410.1,696.0 410.2,696.1 410.3,695.8 410.4,695.9 410.5,696.1 410.6,696.2 410.7,696.1 410.8,696.0 410.8,696.3 410.9,696.5 411.0,696.1 411.1,696.4 411.2,696.2 411.3,696.3 411.4,696.5 411.5,696.6 411.6,696.6 411.7,696.2 411.7,696.4 411.8,696.2 411.9,696.3 412.0,696.5 412.1,696.3 412.2,696.4 412.3,696.6 412.4,696.6 412.5,696.3 412.6,696.1 412.6,696.1 412.7,696.4 412.8,696.3 412.9,696.2 413.0,696.0 413.1,695.8 413.2,696.0 413.3,695.8 413.4,695.7 413.5,696.0 413.6,696.1 413.6,696.2 413.7,696.4 413.8,696.4 413.9,696.6 414.0,696.7 414.1,696.4 414.2,696.4 414.3,696.3 414.4,696.1 414.5,696.0 414.5,696.2 414.6,696.0 414.7,695.8 414.8,695.6 414.9,695.6 415.0,695.6 415.1,695.6 415.2,695.9 415.3,695.9 415.4,696.0 415.4,695.9 415.5,696.2 415.6,696.2 415.7,696.3 415.8,696.1 415.9,696.2 416.0,696.0 416.1,695.9 416.2,695.7 416.3,696.1 416.4,695.9 416.4,695.8 416.5,695.8 416.6,695.8 416.7,696.2 416.8,696.0 416.9,696.0 417.0,696.1 417.1,696.2 417.2,696.1 417.3,696.0 417.3,695.8 417.4,696.1 417.5,696.2 417.6,696.4 417.7,696.6 417.8,696.7 417.9,696.9 418.0,696.6 418.1,696.7 418.2,696.9 418.2,697.0 418.3,696.7 418.4,696.8 418.5,696.8 418.6,696.7 418.7,696.5 418.8,696.2 418.9,696.3 419.0,696.2 419.1,696.0 419.2,696.1 419.2,695.9 419.3,695.8 419.4,696.0 419.5,695.9 419.6,695.9 419.7,696.2 419.8,696.2 419.9,696.0 420.0,696.1 420.1,696.1 420.1,696.2 420.2,696.0 420.3,696.0 420.4,696.2 420.5,696.3 420.6,696.4 420.7,696.1 420.8,696.0 420.9,696.3 421.0,696.1 421.1,696.4 421.1,696.3 421.2,696.4 421.3,696.2 421.4,696.3 421.5,696.3 421.6,696.5 421.7,696.5 421.8,696.2 421.9,696.1 422.0,696.2 422.0,696.4 422.1,696.2 422.2,696.1 422.3,696.3 422.4,696.1 422.5,695.8 422.6,695.9 422.7,696.1 422.8,696.0 422.9,695.8 422.9,696.1 423.0,696.3 423.1,696.4 423.2,696.2 423.3,696.4 423.4,696.4 423.5,696.4 423.6,696.2 423.7,696.5 423.8,696.2 423.9,695.9 423.9,695.9 424.0,695.8 424.1,696.1 424.2,695.9 424.3,696.0 424.4,695.9 424.5,695.7 424.6,695.9 424.7,695.7 424.8,696.0 424.8,696.4 424.9,696.4 425.0,696.1 425.1,695.9 425.2,695.7 425.3,695.8 425.4,695.7 425.5,695.7 425.6,696.1 425.7,696.0 425.7,695.9 425.8,696.0 425.9,696.0 426.0,696.2 426.1,696.4 426.2,696.4 426.3,696.4 426.4,696.4 426.5,696.6 426.6,696.9 426.7,696.9 426.7,696.6 426.8,696.4 426.9,696.5 427.0,696.6 427.1,696.6 427.2,696.7 427.3,696.6 427.4,696.3 427.5,696.5 427.6,696.4 427.6,696.2 427.7,696.1 427.8,696.0 427.9,695.9 428.0,696.2 428.1,696.0 428.2,695.8 428.3,696.2 428.4,695.9 428.5,696.0 428.5,696.3 428.6,696.6 428.7,696.4 428.8,696.2 428.9,696.5 429.0,696.5 429.1,696.3 429.2,696.0 429.3,696.2 429.4,696.1 429.5,696.3 429.5,696.5 429.6,696.6 429.7,696.6 429.8,696.5 429.9,696.6 430.0,696.7 430.1,696.8 430.2,697.0 430.3,697.0 430.4,697.0 430.4,696.9 430.5,696.9 430.6,696.8 430.7,696.8 430.8,696.4 430.9,696.4 431.0,696.1 431.1,696.2 431.2,696.4 431.3,696.3 431.4,696.5 431.4,696.7 431.5,696.9 431.6,696.6 431.7,696.3 431.8,696.3 431.9,696.4 432.0,696.5 432.1,696.5 432.2,696.4 432.3,696.4 432.3,696.6 432.4,696.3 432.5,696.3 432.6,696.6 432.7,696.3 432.8,696.2 432.9,696.3 433.0,696.2 433.1,696.0 433.2,696.1 433.2,696.2 433.3,696.3 433.4,696.3 433.5,696.2 433.6,696.1 433.7,695.8 433.8,696.2 433.9,696.3 434.0,696.1 434.1,695.9 434.2,696.0 434.2,695.9 434.3,696.1 434.4,695.9 434.5,695.9 434.6,696.1 434.7,696.3 434.8,696.5 434.9,696.3 435.0,696.1 435.1,696.4 435.1,696.5 435.2,696.5 435.3,696.4 435.4,696.5 435.5,696.2 435.6,696.3 435.7,696.3 435.8,696.0 435.9,696.0 436.0,696.1 436.0,696.2 436.1,696.3 436.2,696.2 436.3,696.1 436.4,696.3 436.5,696.4 436.6,696.4 436.7,696.5 436.8,696.2 436.9,696.2 437.0,696.4 437.0,696.4 437.1,696.2 437.2,696.5 437.3,696.3 437.4,696.6 437.5,696.7 437.6,696.9 437.7,696.6 437.8,696.8 437.9,696.8 437.9,697.0 438.0,697.0 438.1,696.7 438.2,696.5 438.3,696.2 438.4,696.0 438.5,696.0 438.6,695.8 438.7,696.2 438.8,695.9 438.8,696.0 438.9,696.3 439.0,696.1 439.1,696.0 439.2,696.1 439.3,696.4 439.4,696.1 439.5,696.0 439.6,696.0 439.7,695.8 439.8,696.2 439.8,696.5 439.9,696.7 440.0,696.9 440.1,696.6 440.2,696.5 440.3,696.7 440.4,696.8 440.5,696.9 440.6,696.7 440.7,696.5 440.7,696.2 440.8,696.3 440.9,696.0 441.0,696.1 441.1,696.2 441.2,696.4 441.3,696.5 441.4,696.2 441.5,695.9 441.6,695.9 441.7,696.2 441.7,696.4 441.8,696.6 441.9,696.6 442.0,696.4 442.1,696.7 442.2,696.6 442.3,696.4 442.4,696.7 442.5,696.6 442.6,696.4 442.6,696.3 442.7,696.4 442.8,696.1 442.9,696.1 443.0,696.2 443.1,696.3 443.2,696.0 443.3,695.9 443.4,695.7 443.5,695.8 443.5,696.1 443.6,696.4 443.7,696.4 443.8,696.3 443.9,696.6 444.0,696.3 444.1,696.2 444.2,696.2 444.3,696.5 444.4,696.3 444.5,696.3 444.5,696.2 444.6,696.2 444.7,696.1 444.8,696.2 444.9,695.9 445.0,695.7 445.1,695.6 445.2,695.7 445.3,695.9 445.4,696.1 445.4,696.2 445.5,696.0 445.6,695.9 445.7,695.8 445.8,695.7 445.9,695.5 446.0,695.6 446.1,695.8 446.2,695.8 446.3,696.0 446.3,696.0 446.4,696.3 446.5,696.1 446.6,696.1 446.7,696.3 446.8,696.0 446.9,696.4 447.0,696.1 447.1,696.0 447.2,696.3 447.3,696.1 447.3,696.1 447.4,695.9 447.5,695.9 447.6,696.0 447.7,695.8 447.8,696.2 447.9,696.0 448.0,696.3 448.1,696.5 448.2,696.7 448.2,696.4 448.3,696.4 448.4,696.2 448.5,696.4 448.6,696.2 448.7,696.2 448.8,696.4 448.9,696.4 449.0,696.3 449.1,696.4 449.1,696.3 449.2,696.5 449.3,696.5 449.4,696.2 449.5,696.0 449.6,695.7 449.7,695.9 449.8,695.9 449.9,695.8 450.0,695.8 450.1,695.9 450.1,695.8 450.2,695.9 450.3,695.7 450.4,695.9 450.5,696.2 450.6,696.1 450.7,696.3 450.8,696.2 450.9,696.5 451.0,696.2 451.0,696.2 451.1,696.1 451.2,696.3 451.3,696.2 451.4,696.3 451.5,696.5 451.6,696.3 451.7,696.6 451.8,696.5 451.9,696.7 452.0,696.4 452.0,696.2 452.1,696.5 452.2,696.5 452.3,696.5 452.4,696.3 452.5,696.2 452.6,696.3 452.7,696.0 452.8,696.3 452.9,696.5 452.9,696.3 453.0,696.5 453.1,696.7 453.2,696.6 453.3,696.6 453.4,696.8 453.5,696.4 453.6,696.4 453.7,696.2 453.8,696.4 453.8,696.1 453.9,696.3 454.0,696.1 454.1,696.1 454.2,695.8 454.3,695.7 454.4,695.8 454.5,695.9 454.6,695.7 454.7,695.9 454.8,696.2 454.8,696.0 454.9,695.9 455.0,695.8 455.1,695.8 455.2,696.1 455.3,696.1 455.4,696.0 455.5,695.8 455.6,695.6 455.7,696.0 455.7,695.9 455.8,696.0 455.9,696.1 456.0,696.3 456.1,696.6 456.2,696.5 456.3,696.5 456.4,696.6 456.5,696.6 456.6,696.5 456.6,696.3 456.7,696.3 456.8,696.5 456.9,696.2 457.0,696.3 457.1,696.0 457.2,695.8 457.3,696.1 457.4,696.1 457.5,695.9 457.6,696.0 457.6,696.0 457.7,696.2 457.8,696.5 457.9,696.7 458.0,696.8 458.1,696.9 458.2,696.7 458.3,696.6 458.4,696.2 458.5,696.1 458.5,696.3 458.6,696.0 458.7,696.0 458.8,696.0 458.9,695.8 459.0,695.8 459.1,696.0 459.2,696.0 459.3,696.2 459.4,695.9 459.4,696.2 459.5,695.9 459.6,696.3 459.7,696.6 459.8,696.5 459.9,696.6 460.0,696.6 460.1,696.7 460.2,696.5 460.3,696.3 460.4,696.2 460.4,696.0 460.5,695.7 460.6,695.7 460.7,695.7 460.8,696.1 460.9,696.5 461.0,696.5 461.1,696.2 461.2,696.3 461.3,696.3 461.3,696.6 461.4,696.6 461.5,696.3 461.6,696.2 461.7,696.0 461.8,696.4 461.9,696.6 462.0,696.7 462.1,696.4 462.2,696.6 462.3,696.3 462.3,696.5 462.4,696.2 462.5,696.2 462.6,696.3 462.7,696.0 462.8,696.2 462.9,696.1 463.0,696.4 463.1,696.2 463.2,695.9 463.2,696.2 463.3,696.1 463.4,696.3 463.5,696.5 463.6,696.5 463.7,696.4 463.8,696.1 463.9,695.8 464.0,695.6 464.1,695.7 464.1,695.7 464.2,696.0 464.3,696.0 464.4,696.0 464.5,696.1 464.6,695.9 464.7,696.2 464.8,696.4 464.9,696.6 465.0,696.8 465.1,696.6 465.1,696.4 465.2,696.6 465.3,696.5 465.4,696.4 465.5,696.4 465.6,696.4 465.7,696.4 465.8,696.6 465.9,696.9 466.0,696.8 466.0,696.9 466.1,696.6 466.2,696.7 466.3,696.4 466.4,696.6 466.5,696.8 466.6,696.7 466.7,696.7 466.8,696.7 466.9,696.5 466.9,696.6 467.0,696.4 467.1,696.2 467.2,696.3 467.3,696.3 467.4,696.0 467.5,696.0 467.6,696.3 467.7,696.5 467.8,696.8 467.9,696.8 467.9,696.9 468.0,696.7 468.1,696.7 468.2,696.7 468.3,696.6 468.4,696.3 468.5,696.5 468.6,696.6 468.7,696.7 468.8,696.7 468.8,696.4 468.9,696.2 469.0,696.3 469.1,696.5 469.2,696.8 469.3,696.9 469.4,696.6 469.5,696.4 469.6,696.6 469.7,696.5 469.7,696.7 469.8,696.6 469.9,696.7 470.0,696.8 470.1,696.6 470.2,696.4 470.3,696.4 470.4,696.6 470.5,696.4 470.6,696.4 470.7,696.3 470.7,696.6 470.8,696.3 470.9,696.6 471.0,696.7 471.1,696.7 471.2,696.8 471.3,696.9 471.4,696.7 471.5,696.3 471.6,696.4 471.6,696.5 471.7,696.4 471.8,696.5 471.9,696.6 472.0,696.4 472.1,696.4 472.2,696.6 472.3,696.8 472.4,696.7 472.5,696.3 472.6,696.1 472.6,696.3 472.7,696.3 472.8,696.3 472.9,696.5 473.0,696.4 473.1,696.4 473.2,696.2 473.3,696.3 473.4,696.1 473.5,695.9 473.5,696.0 473.6,696.3 473.7,696.3 473.8,696.5 473.9,696.4 474.0,696.2 474.1,696.2 474.2,695.9 474.3,696.3 474.4,696.2 474.4,696.0 474.5,696.3 474.6,696.4 474.7,696.7 474.8,696.5 474.9,696.4 475.0,696.4 475.1,696.3 475.2,696.4 475.3,696.2 475.4,696.4 475.4,696.1 475.5,696.2 475.6,696.5 475.7,696.7 475.8,696.5 475.9,696.2 476.0,696.2 476.1,696.4 476.2,696.2 476.3,696.1 476.3,696.3 476.4,696.4 476.5,696.3 476.6,696.6 476.7,696.8 476.8,696.8 476.9,696.5 477.0,696.1 477.1,696.3 477.2,696.0 477.2,695.9 477.3,695.8 477.4,695.8 477.5,695.6 477.6,695.7 477.7,695.5 477.8,695.6 477.9,696.0 478.0,696.0 478.1,696.1 478.2,696.2 478.2,696.3 478.3,696.3 478.4,696.3 478.5,696.4 478.6,696.6 478.7,696.5 478.8,696.5 478.9,696.5 479.0,696.3 479.1,696.5 479.1,696.5 479.2,696.6 479.3,696.4 479.4,696.2 479.5,696.1 479.6,696.1 479.7,696.3 479.8,696.0 479.9,696.1 480.0,696.2 480.0,696.4 480.1,696.4 480.2,696.3 480.3,696.1 480.4,696.1 480.5,696.0 480.6,696.3 480.7,696.3 480.8,696.4 480.9,696.5 481.0,696.5 481.0,696.3 481.1,696.2 481.2,696.4 481.3,696.5 481.4,696.3 481.5,696.2 481.6,696.1 481.7,696.1 481.8,696.0 481.9,696.2 481.9,696.5 482.0,696.5 482.1,696.8 482.2,696.4 482.3,696.4 482.4,696.3 482.5,696.0 482.6,695.9 482.7,696.1 482.8,696.3 482.9,696.5 482.9,696.3 483.0,696.1 483.1,696.2 483.2,696.3 483.3,696.4 483.4,696.4 483.5,696.3 483.6,696.0 483.7,695.9 483.8,695.7 483.8,695.9 483.9,696.0 484.0,696.2 484.1,695.9 484.2,696.2 484.3,696.4 484.4,696.5 484.5,696.2 484.6,696.0 484.7,696.2 484.7,696.0 484.8,695.8 484.9,696.0 485.0,696.2 485.1,696.1 485.2,696.2 485.3,696.5 485.4,696.2 485.5,696.2 485.6,696.3 485.7,696.3 485.7,696.4 485.8,696.7 485.9,696.7 486.0,696.7 486.1,696.9 486.2,696.9 486.3,696.6 486.4,696.6 486.5,696.5 486.6,696.4 486.6,696.5 486.7,696.8 486.8,696.6 486.9,696.5 487.0,696.5 487.1,696.7 487.2,696.4 487.3,696.1 487.4,696.3 487.5,696.2 487.5,696.2 487.6,696.3 487.7,696.6 487.8,696.6 487.9,696.4 488.0,696.3 488.1,696.2 488.2,696.4 488.3,696.5 488.4,696.5 488.5,696.4 488.5,696.3 488.6,695.9 488.7,696.1 488.8,695.6 488.9,695.7 489.0,695.3 489.1,695.4 489.2,695.2 489.3,695.1 489.4,695.1 489.4,694.6 489.5,694.2 489.6,694.0 489.7,693.5 489.8,693.2 489.9,692.5 490.0,692.4 490.1,691.9 490.2,691.5 490.3,690.8 490.3,689.9 490.4,689.0 490.5,688.2 490.6,687.4 490.7,686.3 490.8,685.6 490.9,684.6 491.0,683.3 491.1,682.0 491.2,680.4 491.3,679.3 491.3,677.8 491.4,676.4 491.5,675.0 491.6,673.4 491.7,671.8 491.8,669.8 491.9,667.8 492.0,665.8 492.1,663.8 492.2,661.6 492.2,659.5 492.3,657.1 492.4,655.2 492.5,653.2 492.6,651.1 492.7,649.2 492.8,647.0 492.9,645.3 493.0,643.3 493.1,641.7 493.1,640.2 493.2,638.6 493.3,637.2 493.4,636.1 493.5,635.3 493.6,634.0 493.7,633.3 493.8,632.9 493.9,632.3 494.0,632.0 494.1,632.0 494.1,632.1 494.2,632.0 494.3,632.3 494.4,632.7 494.5,632.9 494.6,633.5 494.7,634.2 494.8,635.2 494.9,635.8 495.0,636.6 495.0,637.6 495.1,638.7 495.2,640.0 495.3,641.0 495.4,642.3 495.5,643.3 495.6,644.8 495.7,646.1 495.8,647.8 495.9,649.4 496.0,650.6 496.0,652.0 496.1,653.5 496.2,655.1 496.3,656.7 496.4,658.4 496.5,660.2 496.6,661.5 496.7,662.9 496.8,664.6 496.9,666.0 496.9,667.6 497.0,669.0 497.1,670.6 497.2,671.9 497.3,673.3 497.4,674.5 497.5,675.9 497.6,677.1 497.7,678.1 497.8,679.4 497.8,680.6 497.9,681.4 498.0,682.3 498.1,683.2 498.2,683.9 498.3,684.8 498.4,685.8 498.5,686.6 498.6,687.1 498.7,687.8 498.8,688.3 498.8,689.0 498.9,689.7 499.0,689.9 499.1,690.3 499.2,690.8 499.3,691.6 499.4,691.9 499.5,692.6 499.6,692.7 499.7,692.7 499.7,693.0 499.8,693.5 499.9,693.6 500.0,694.1 500.1,694.1 500.2,694.3 500.3,694.9 500.4,694.8 500.5,695.0 500.6,694.9 500.6,695.0 500.7,695.1 500.8,695.1 500.9,695.4 501.0,695.3 501.1,695.6 501.2,695.9 501.3,696.1 501.4,696.4 501.5,696.6 501.6,696.4 501.6,696.6 501.7,696.7 501.8,696.8 501.9,696.8 502.0,696.4 502.1,696.1 502.2,695.9 502.3,696.0 502.4,695.9 502.5,695.8 502.5,695.6 502.6,695.6 502.7,695.9 502.8,696.1 502.9,696.0 503.0,696.3 503.1,696.2 503.2,696.5 503.3,696.7 503.4,696.6 503.4,696.8 503.5,696.4 503.6,696.2 503.7,696.2 503.8,696.4 503.9,696.6 504.0,696.6 504.1,696.5 504.2,696.5 504.3,696.4 504.4,696.3 504.4,696.2 504.5,696.4 504.6,696.7 504.7,696.7 504.8,696.6 504.9,696.7 505.0,696.5 505.1,696.6 505.2,696.7 505.3,696.6 505.3,696.4 505.4,696.2 505.5,696.3 505.6,696.4 505.7,696.1 505.8,695.9 505.9,695.9 506.0,696.2 506.1,696.3 506.2,696.2 506.3,696.3 506.3,696.6 506.4,696.3 506.5,696.0 506.6,696.3 506.7,696.3 506.8,696.3 506.9,696.4 507.0,696.6 507.1,696.4 507.2,696.2 507.2,696.3 507.3,696.5 507.4,696.6 507.5,696.8 507.6,696.4 507.7,696.6 507.8,696.7 507.9,696.5 508.0,696.7 508.1,696.8 508.1,697.0 508.2,697.1 508.3,696.9 508.4,696.6 508.5,696.7 508.6,696.8 508.7,696.6 508.8,696.6 508.9,696.6 509.0,696.8 509.1,696.8 509.1,696.5 509.2,696.7 509.3,696.7 509.4,696.5 509.5,696.2 509.6,696.0 509.7,696.1 509.8,695.8 509.9,695.9 510.0,696.1 510.0,696.2 510.1,696.1 510.2,696.0 510.3,696.3 510.4,696.5 510.5,696.1 510.6,696.4 510.7,696.2 510.8,696.3 510.9,696.5 510.9,696.6 511.0,696.6 511.1,696.2 511.2,696.4 511.3,696.2 511.4,696.3 511.5,696.5 511.6,696.3 511.7,696.4 511.8,696.6 511.9,696.6 511.9,696.3 512.0,696.1 512.1,696.1 512.2,696.4 512.3,696.3 512.4,696.2 512.5,696.0 512.6,695.8 512.7,696.0 512.8,695.8 512.8,695.7 512.9,696.0 513.0,696.1 513.1,696.2 513.2,696.4 513.3,696.4 513.4,696.6 513.5,696.7 513.6,696.4 513.7,696.4 513.7,696.3 513.8,696.1 513.9,696.0 514.0,696.2 514.1,696.0 514.2,695.8 514.3,695.6 514.4,695.6 514.5,695.6 514.6,695.6 514.7,695.9 514.7,695.9 514.8,696.0 514.9,695.9 515.0,696.2 515.1,696.2 515.2,696.3 515.3,696.1 515.4,696.2 515.5,696.0 515.6,695.9 515.6,695.7 515.7,696.1 515.8,695.9 515.9,695.8 516.0,695.8 516.1,695.8 516.2,696.2 516.3,696.0 516.4,696.0 516.5,696.1 516.6,696.2 516.6,696.1 516.7,696.0 516.8,695.8 516.9,696.1 517.0,696.2 517.1,696.4 517.2,696.6 517.3,696.7 517.4,696.9 517.5,696.6 517.5,696.7 517.6,696.9 517.7,697.0 517.8,696.7 517.9,696.8 518.0,696.8 518.1,696.7 518.2,696.5 518.3,696.2 518.4,696.3 518.4,696.2 518.5,696.0 518.6,696.1 518.7,695.9 518.8,695.8 518.9,696.0 519.0,695.9 519.1,695.9 519.2,696.2 519.3,696.2 519.4,696.0 519.4,696.1 519.5,696.1 519.6,696.2 519.7,696.0 519.8,696.0 519.9,696.2 520.0,696.3 520.1,696.4 520.2,696.1 520.3,696.0 520.3,696.3 520.4,696.1 520.5,696.4 520.6,696.3 520.7,696.4 520.8,696.2 520.9,696.3 521.0,696.5 521.1,696.5 521.2,696.2 521.2,696.1 521.3,696.2 521.4,696.4 521.5,696.2 521.6,696.0 521.7,696.2 521.8,696.0 521.9,695.7 522.0,695.9 522.1,696.0 522.2,695.9 522.2,695.7 522.3,695.9 522.4,696.1 522.5,696.1 522.6,695.9 522.7,696.1 522.8,696.0 522.9,695.9 523.0,695.7 523.1,695.8 523.1,695.4 523.2,695.0 523.3,694.9 523.4,694.6 523.5,694.7 523.6,694.3 523.7,694.1 523.8,693.7 523.9,693.2 524.0,693.1 524.0,692.5 524.1,692.3 524.2,692.2 524.3,691.6 524.4,690.7 524.5,689.8 524.6,688.8 524.7,688.1 524.8,687.0 524.9,686.1 525.0,685.3 525.0,684.0 525.1,682.6 525.2,681.3 525.3,679.7 525.4,678.3 525.5,676.7 525.6,674.8 525.7,672.8 525.8,670.7 525.9,668.7 525.9,666.5 526.0,664.0 526.1,661.2 526.2,658.3 526.3,655.6 526.4,652.8 526.5,649.7 526.6,646.8 526.7,643.5 526.8,640.0 526.9,636.9 526.9,633.5 527.0,630.1 527.1,626.6 527.2,623.3 527.3,619.9 527.4,617.0 527.5,613.7 527.6,610.4 527.7,607.9 527.8,604.8 527.8,602.3 527.9,600.1 528.0,598.0 528.1,595.7 528.2,593.7 528.3,592.2 528.4,590.8 528.5,589.5 528.6,588.2 528.7,587.7 528.7,587.1 528.8,587.2 528.9,587.5 529.0,587.9 529.1,588.2 529.2,588.6 529.3,589.3 529.4,590.2 529.5,591.2 529.6,592.4 529.7,593.7 529.7,594.9 529.8,596.2 529.9,597.8 530.0,599.3 530.1,601.0 530.2,602.4 530.3,604.3 530.4,606.0 530.5,608.1 530.6,610.5 530.6,612.6 530.7,615.0 530.8,617.5 530.9,620.0 531.0,622.1 531.1,624.1 531.2,626.6 531.3,629.1 531.4,631.5 531.5,634.0 531.5,636.2 531.6,638.6 531.7,641.2 531.8,643.2 531.9,645.5 532.0,648.1 532.1,650.0 532.2,652.1 532.3,654.3 532.4,656.3 532.5,658.1 532.5,660.2 532.6,662.2 532.7,664.2 532.8,666.0 532.9,667.6 533.0,669.2 533.1,670.5 533.2,672.4 533.3,674.0 533.4,675.2 533.4,676.4 533.5,677.7 533.6,678.9 533.7,680.2 533.8,681.1 533.9,682.2 534.0,683.3 534.1,684.5 534.2,685.6 534.3,686.2 534.3,686.8 534.4,687.8 534.5,688.6 534.6,689.2 534.7,689.8 534.8,690.4 534.9,690.6 535.0,691.2 535.1,691.6 535.2,691.8 535.3,692.1 535.3,692.5 535.4,693.0 535.5,693.4 535.6,693.6 535.7,693.7 535.8,694.1 535.9,694.4 536.0,694.7 536.1,694.9 536.2,694.8 536.2,694.9 536.3,695.2 536.4,695.4 536.5,695.3 536.6,695.6 536.7,695.6 536.8,695.9 536.9,696.2 537.0,696.4 537.1,696.2 537.2,696.4 537.2,696.5 537.3,696.7 537.4,696.7 537.5,696.5 537.6,696.3 537.7,696.0 537.8,695.8 537.9,695.9 538.0,695.7 538.1,696.0 538.1,695.8 538.2,696.0 538.3,696.2 538.4,696.1 538.5,695.9 538.6,696.0 538.7,696.3 538.8,696.1 538.9,696.0 539.0,696.0 539.0,695.8 539.1,696.2 539.2,696.5 539.3,696.7 539.4,696.9 539.5,696.6 539.6,696.5 539.7,696.7 539.8,696.8 539.9,696.9 540.0,696.7 540.0,696.5 540.1,696.2 540.2,696.3 540.3,696.0 540.4,696.1 540.5,696.2 540.6,696.4 540.7,696.5 540.8,696.2 540.9,695.9 540.9,695.8 541.0,696.1 541.1,696.3 541.2,696.5 541.3,696.5 541.4,696.3 541.5,696.5 541.6,696.4 541.7,696.2 541.8,696.5 541.8,696.4 541.9,696.1 542.0,696.0 542.1,696.0 542.2,695.7 542.3,695.7 542.4,695.8 542.5,695.8 542.6,695.4 542.7,695.2 542.8,695.0 542.8,695.0 542.9,695.3 543.0,695.4 543.1,695.4 543.2,695.2 543.3,695.4 543.4,695.1 543.5,694.8 543.6,694.8 543.7,695.0 543.7,694.8 543.8,694.7 543.9,694.6 544.0,694.5 544.1,694.3 544.2,694.4 544.3,694.1 544.4,693.8 544.5,693.7 544.6,693.7 544.6,694.0 544.7,694.1 544.8,694.3 544.9,694.1 545.0,694.0 545.1,694.0 545.2,693.9 545.3,693.8 545.4,693.9 545.5,694.2 545.6,694.2 545.6,694.6 545.7,694.6 545.8,695.0 545.9,694.8 546.0,695.0 546.1,695.2 546.2,695.0 546.3,695.4 546.4,695.2 546.5,695.2 546.5,695.5 546.6,695.4 546.7,695.5 546.8,695.4 546.9,695.4 547.0,695.6 547.1,695.5 547.2,695.8 547.3,695.7 547.4,696.1 547.5,696.2 547.5,696.5 547.6,696.2 547.7,696.2 547.8,696.1 547.9,696.3 548.0,696.2 548.1,696.1 548.2,696.4 548.3,696.4 548.4,696.2 548.4,696.4 548.5,696.3 548.6,696.4 548.7,696.5 548.8,696.2 548.9,695.9 549.0,695.7 549.1,695.9 549.2,695.9 549.3,695.8 549.3,695.7 549.4,695.9 549.5,695.7 549.6,695.9 549.7,695.7 549.8,695.9 549.9,696.2 550.0,696.1 550.1,696.3 550.2,696.2 550.3,696.5 550.3,696.2 550.4,696.2 550.5,696.1 550.6,696.3 550.7,696.2 550.8,696.3 550.9,696.5 551.0,696.3 551.1,696.6 551.2,696.5 551.2,696.7 551.3,696.4 551.4,696.2 551.5,696.5 551.6,696.5 551.7,696.5 551.8,696.3 551.9,696.2 552.0,696.3 552.1,696.0 552.1,696.3 552.2,696.5 552.3,696.3 552.4,696.5 552.5,696.7 552.6,696.6 552.7,696.6 552.8,696.8 552.9,696.4 553.0,696.4 553.1,696.2 553.1,696.4 553.2,696.1 553.3,696.3 553.4,696.1 553.5,696.1 553.6,695.8 553.7,695.7 553.8,695.8 553.9,695.9 554.0,695.7 554.0,695.9 554.1,696.2 554.2,696.0 554.3,695.9 554.4,695.8 554.5,695.8 554.6,696.1 554.7,696.1 554.8,696.0 554.9,695.8 554.9,695.6 555.0,696.0 555.1,695.9 555.2,696.0 555.3,696.1 555.4,696.3 555.5,696.6 555.6,696.5 555.7,696.5 555.8,696.6 555.9,696.6 555.9,696.5 556.0,696.3 556.1,696.3 556.2,696.5 556.3,696.2 556.4,696.3 556.5,696.0 556.6,695.8 556.7,696.1 556.8,696.1 556.8,695.9 556.9,696.0 557.0,696.0 557.1,696.2 557.2,696.5 557.3,696.7 557.4,696.8 557.5,696.9 557.6,696.7 557.7,696.6 557.8,696.2 557.8,696.1 557.9,696.3 558.0,696.0 558.1,696.0 558.2,696.0 558.3,695.8 558.4,695.8 558.5,696.0 558.6,696.0 558.7,696.2 558.7,695.9 558.8,696.2 558.9,695.9 559.0,696.3 559.1,696.6 559.2,696.5 559.3,696.6 559.4,696.6 559.5,696.7 559.6,696.5 559.6,696.3 559.7,696.2 559.8,696.0 559.9,695.7 560.0,695.7 560.1,695.7 560.2,696.1 560.3,696.5 560.4,696.5 560.5,696.2 560.6,696.3 560.6,696.3 560.7,696.6 560.8,696.6 560.9,696.3 561.0,696.2 561.1,696.0 561.2,696.4 561.3,696.6 561.4,696.7 561.5,696.4 561.5,696.6 561.6,696.3 561.7,696.5 561.8,696.2 561.9,696.2 562.0,696.3 562.1,696.0 562.2,696.2 562.3,696.1 562.4,696.4 562.4,696.2 562.5,695.9 562.6,696.2 562.7,696.1 562.8,696.3 562.9,696.5 563.0,696.5 563.1,696.4 563.2,696.1 563.3,695.8 563.4,695.6 563.4,695.7 563.5,695.7 563.6,696.0 563.7,696.0 563.8,696.0 563.9,696.1 564.0,695.9 564.1,696.2 564.2,696.4 564.3,696.6 564.3,696.8 564.4,696.6 564.5,696.4 564.6,696.5 564.7,696.4 564.8,696.4 564.9,696.4 565.0,696.4 565.1,696.6 565.2,696.9 565.2,696.8 565.3,696.9 565.4,696.6 565.5,696.7 565.6,696.4 565.7,696.6 565.8,696.8 565.9,696.7 566.0,696.7 566.1,696.7 566.2,696.5 566.2,696.6 566.3,696.4 566.4,696.2 566.5,696.3 566.6,696.3 566.7,696.0 566.8,696.0 566.9,696.3 567.0,696.5 567.1,696.8 567.1,696.8 567.2,696.9 567.3,696.7 567.4,696.7 567.5,696.7 567.6,696.6 567.7,696.3 567.8,696.5 567.9,696.6 568.0,696.7 568.1,696.7 568.1,696.4 568.2,696.2 568.3,696.3 568.4,696.5 568.5,696.8 568.6,696.9 568.7,696.6 568.8,696.4 568.9,696.6 569.0,696.5 569.0,696.7 569.1,696.6 569.2,696.7 569.3,696.8 569.4,696.6 569.5,696.4 569.6,696.4 569.7,696.6 569.8,696.4 569.9,696.4 569.9,696.3 570.0,696.6 570.1,696.3 570.2,696.6 570.3,696.7 570.4,696.7 570.5,696.8 570.6,696.9 570.7,696.7 570.8,696.3 570.9,696.4 570.9,696.5 571.0,696.4 571.1,696.5 571.2,696.6 571.3,696.4 571.4,696.4 571.5,696.6 571.6,696.8 571.7,696.7 571.8,696.3 571.8,696.1 571.9,696.3 572.0,696.3 572.1,696.3 572.2,696.5 572.3,696.4 572.4,696.4 572.5,696.2 572.6,696.3 572.7,696.1 572.7,695.9 572.8,696.0 572.9,696.3 573.0,696.3 573.1,696.5 573.2,696.4 573.3,696.2 573.4,696.2 573.5,695.9 573.6,696.3 573.7,696.2 573.7,696.0 573.8,696.3 573.9,696.4 574.0,696.7 574.1,696.5 574.2,696.4 574.3,696.4 574.4,696.3 574.5,696.4 574.6,696.2 574.6,696.4 574.7,696.1 574.8,696.2 574.9,696.5 575.0,696.7 575.1,696.5 575.2,696.2 575.3,696.2 575.4,696.4 575.5,696.2 575.5,696.1 575.6,696.3 575.7,696.4 575.8,696.3 575.9,696.6 576.0,696.8 576.1,696.8 576.2,696.5 576.3,696.1 576.4,696.3 576.5,696.0 576.5,695.9 576.6,695.8 576.7,695.8 576.8,695.6 576.9,695.7 577.0,695.5 577.1,695.6 577.2,696.0 577.3,696.0 577.4,696.1 577.4,696.2 577.5,696.3 577.6,696.3 577.7,696.3 577.8,696.4 577.9,696.6 578.0,696.5 578.1,696.5 578.2,696.5 578.3,696.3 578.4,696.5 578.4,696.5 578.5,696.6 578.6,696.4 578.7,696.2 578.8,696.1 578.9,696.1 579.0,696.3 579.1,696.0 579.2,696.1 579.3,696.2 579.3,696.4 579.4,696.4 579.5,696.3 579.6,696.1 579.7,696.1 579.8,696.0 579.9,696.3 580.0,696.3 580.1,696.4 580.2,696.5 580.2,696.5 580.3,696.3 580.4,696.2 580.5,696.4 580.6,696.5 580.7,696.3 580.8,696.2 580.9,696.1 581.0,696.1 581.1,696.0 581.2,696.2 581.2,696.5 581.3,696.5 581.4,696.8 581.5,696.4 581.6,696.4 581.7,696.3 581.8,696.0 581.9,695.9 582.0,696.1 582.1,696.3 582.1,696.5 582.2,696.3 582.3,696.1 582.4,696.2 582.5,696.3 582.6,696.4 582.7,696.4 582.8,696.3 582.9,696.0 583.0,695.9 583.0,695.7 583.1,695.9 583.2,696.0 583.3,696.2 583.4,695.9 583.5,696.2 583.6,696.4 583.7,696.5 583.8,696.2 583.9,696.0 584.0,696.2 584.0,696.0 584.1,695.8 584.2,696.0 584.3,696.2 584.4,696.1 584.5,696.2 584.6,696.5 584.7,696.2 584.8,696.2 584.9,696.3 584.9,696.3 585.0,696.4 585.1,696.7 585.2,696.7 585.3,696.7 585.4,696.9 585.5,696.9 585.6,696.6 585.7,696.6 585.8,696.5 585.8,696.4 585.9,696.5 586.0,696.8 586.1,696.6 586.2,696.5 586.3,696.6 586.4,696.7 586.5,696.4 586.6,696.1 586.7,696.3 586.8,696.3 586.8,696.2 586.9,696.4 587.0,696.6 587.1,696.7 587.2,696.5 587.3,696.4 587.4,696.4 587.5,696.6 587.6,696.7 587.7,696.8 587.7,696.7 587.8,696.7 587.9,696.4 588.0,696.6 588.1,696.3 588.2,696.4 588.3,696.2 588.4,696.4 588.5,696.3 588.6,696.4 588.6,696.6 588.7,696.4 588.8,696.2 588.9,696.4 589.0,696.2 589.1,696.2 589.2,695.9 589.3,696.3 589.4,696.4 589.5,696.5 589.6,696.4 589.6,696.2 589.7,696.0 589.8,696.0 589.9,696.2 590.0,696.0 590.1,696.3 590.2,696.5 590.3,696.3 590.4,696.3 590.5,696.0 590.5,696.3 590.6,696.3 590.7,696.5 590.8,696.8 590.9,696.9 591.0,697.1 591.1,697.0 591.2,696.9 591.3,696.8 591.4,696.8 591.5,696.6 591.5,696.5 591.6,696.2 591.7,696.4 591.8,696.4 591.9,696.4 592.0,696.4 592.1,696.2 592.2,696.4 592.3,696.1 592.4,696.3 592.4,696.4" stroke="#1e1e1e" stroke-width="1.25" fill="none" stroke-linejoin="round"/>
<text x="171.5" y="356.2" font-size="13.5" text-anchor="middle" font-weight="normal" fill="#222" >Minutes</text>
<text x="171.5" y="556.0" font-size="13.5" text-anchor="middle" font-weight="normal" fill="#222" >Minutes</text>
<text x="498.5" y="556.5" font-size="13.5" text-anchor="middle" font-weight="normal" fill="#222" >Minutes</text>
<text x="171.5" y="730.0" font-size="13.5" text-anchor="middle" font-weight="normal" fill="#222" >Minutes</text>
<text x="496.5" y="730.5" font-size="13.5" text-anchor="middle" font-weight="normal" fill="#222" >Minutes</text>
<text x="47.8" y="239.8" font-size="14" text-anchor="middle" fill="#222" transform="rotate(-90 47.8 239.8)">mAU</text>
<text x="47.8" y="448.0" font-size="14" text-anchor="middle" fill="#222" transform="rotate(-90 47.8 448.0)">mAU</text>
<text x="377.5" y="446.0" font-size="14" text-anchor="middle" fill="#222" transform="rotate(-90 377.5 446.0)">mAU</text>
<text x="33.6" y="631.0" font-size="13.2" text-anchor="middle" fill="#222" transform="rotate(-90 33.6 631.0)">Counts Per Minute</text>
<text x="360.8" y="632.0" font-size="13.2" text-anchor="middle" fill="#222" transform="rotate(-90 360.8 632.0)">Counts Per Minute</text>
<text x="10.3" y="168.6" font-size="19.5" text-anchor="start" font-weight="bold" fill="#111" >b</text>
<text x="10.0" y="380.8" font-size="19.5" text-anchor="start" font-weight="bold" fill="#111" >c</text>
<text x="347.3" y="380.6" font-size="19.5" text-anchor="start" font-weight="bold" fill="#111" >d</text>
<text x="10.2" y="556.5" font-size="19.5" text-anchor="start" font-weight="bold" fill="#111" >e</text>
<text x="346.8" y="556.5" font-size="19.5" text-anchor="start" font-weight="bold" fill="#111" >f</text>
<text x="10.2" y="749.8" font-size="19.5" text-anchor="start" font-weight="bold" fill="#111" >g</text>
<text x="347.6" y="751.5" font-size="19.5" text-anchor="start" font-weight="bold" fill="#111" >h</text>
<text x="244.5" y="164.7" font-size="15.5" text-anchor="middle" font-weight="normal" fill="#222" >Control</text>
<text x="244.5" y="182.6" font-size="15.5" text-anchor="middle" font-weight="normal" fill="#222" >(0 hr)</text>
<text x="244.6" y="381.8" font-size="15.5" text-anchor="middle" font-weight="normal" fill="#222" >Control</text>
<text x="244.8" y="399.6" font-size="15.5" text-anchor="middle" font-weight="normal" fill="#222" >(24 hrs)</text>
<text x="244.5" y="575.8" font-size="15.5" text-anchor="middle" font-weight="normal" fill="#222" >Control</text>
<text x="244.5" y="594.0" font-size="15.5" text-anchor="middle" font-weight="normal" fill="#222" >(24 hrs)</text>
<text x="582.4" y="381.7" font-size="15.5" text-anchor="middle" fill="#222">&#916;<tspan font-size="9.0" dy="-5.2">1</tspan><tspan dy="5.2">-KstD</tspan></text>
<text x="582.5" y="398.8" font-size="15.5" text-anchor="middle" font-weight="normal" fill="#222" >(24 hrs)</text>
<text x="582.4" y="582.6" font-size="15.5" text-anchor="middle" fill="#222">&#916;<tspan font-size="9.0" dy="-5.2">1</tspan><tspan dy="5.2">-KstD</tspan></text>
<text x="584.2" y="600.6" font-size="15.5" text-anchor="middle" font-weight="normal" fill="#222" >(24 hrs)</text>
<text x="171.3" y="244.5" font-size="12.5" text-anchor="middle" font-weight="normal" fill="#222" >PD</text>
<path d="M182.5 239.5L191.7 239.5" stroke="#111" stroke-width="1.6"/>
<polygon points="194.7,239.5 189.2,236.4 189.2,242.6" fill="#111"/>
<text x="176.5" y="427.5" font-size="12.5" text-anchor="middle" font-weight="normal" fill="#222" >PD</text>
<path d="M187.0 422.0L195.8 422.0" stroke="#111" stroke-width="1.6"/>
<polygon points="198.8,422.0 193.3,418.9 193.3,425.1" fill="#111"/>
<text x="170.2" y="618.0" font-size="12.5" text-anchor="middle" font-weight="normal" fill="#222" >PD</text>
<path d="M181.0 613.5L190.0 613.5" stroke="#111" stroke-width="1.6"/>
<polygon points="193.0,613.5 187.5,610.4 187.5,616.6" fill="#111"/>
<text x="494.0" y="418.0" font-size="12.5" text-anchor="middle" font-weight="normal" fill="#222" >PDD</text>
<path d="M494.0 421.0L494.0 429.0" stroke="#111" stroke-width="1.6"/>
<polygon points="494.0,432.0 490.9,426.5 497.1,426.5" fill="#111"/>
<path d="M546.0 438.0L537.6 438.0" stroke="#111" stroke-width="1.6"/>
<polygon points="534.6,438.0 540.1,434.9 540.1,441.1" fill="#111"/>
<text x="557.3" y="442.5" font-size="12.5" text-anchor="middle" font-weight="normal" fill="#222" >PD</text>
<text x="494.0" y="611.0" font-size="12.5" text-anchor="middle" font-weight="normal" fill="#222" >PDD</text>
<path d="M494.0 614.0L494.0 624.0" stroke="#111" stroke-width="1.6"/>
<polygon points="494.0,627.0 490.9,621.5 497.1,621.5" fill="#111"/>
<path d="M548.0 640.0L539.0 640.0" stroke="#111" stroke-width="1.6"/>
<polygon points="536.0,640.0 541.5,636.9 541.5,643.1" fill="#111"/>
<text x="558.5" y="644.5" font-size="12.5" text-anchor="middle" font-weight="normal" fill="#222" >PD</text>
<g filter="url(#soft)">
<polygon points="325.4,275.0 443.0,228.0 545.8,272.7 535.8,285.3 442.9,321.4" fill="#ff3cff" />
<polygon points="457.6,227.8 479.0,221.7 487.4,216.0 508.2,204.5 529.5,197.6 534.1,197.6 557.8,208.3 557.5,222.0 556.3,235.8 554.7,254.1 552.4,266.3 547.9,275.5 541.8,281.6 532.0,286.0 490.0,272.0 480.0,250.0 470.0,236.0" fill="url(#bwall)" />
<polygon points="399.6,274.4 407.2,260.6 413.3,245.4 417.9,231.6 421.7,219.4 425.5,210.3 430.1,203.4 434.4,200.8 439.3,203.4 445.4,213.3 451.5,221.7 457.6,227.8 463.7,233.2 469.8,235.5 475.9,233.9 481.0,231.0 484.0,238.0 488.0,255.0 470.0,290.0 395.0,300.0" fill="url(#bhill)" />
<polygon points="482.0,230.0 483.9,215.7 484.9,207.1 485.5,204.0 486.1,207.1 487.1,215.7 489.0,230.0" fill="url(#spk)" />
<polygon points="50.6,836.3 168.2,789.3 271.0,834.0 261.0,846.6 168.1,882.7" fill="#ff3cff" />
<polygon points="127.4,841.2 134.7,826.7 139.0,812.2 143.3,800.3 146.4,790.5 149.4,782.0 153.1,774.7 156.7,769.8 159.2,768.0 161.6,767.4 164.0,768.0 166.5,769.8 171.4,775.9 176.3,783.2 181.2,790.5 187.3,796.6 193.4,799.7 200.7,800.3 205.0,799.0 208.6,796.3 212.0,792.0 220.0,805.0 226.0,825.0 200.0,850.0 150.0,852.0" fill="url(#ghill)" />
<polygon points="214.0,796.5 215.3,795.9 222.9,792.8 233.6,787.5 244.3,779.8 255.0,776.0 265.6,773.7 274.8,769.9 279.0,769.8 282.4,771.5 284.7,774.5 284.0,782.9 283.4,794.0 282.4,805.8 279.4,824.1 274.8,834.8 267.2,842.4 261.0,847.0 240.0,848.0 212.0,832.0 208.0,812.0" fill="url(#gwall)" />
<polygon points="210.2,812.0 211.7,798.6 212.4,790.5 213.0,787.6 213.6,790.5 214.3,798.6 215.8,812.0" fill="url(#spkb)" />
<polygon points="395.6,836.3 513.2,789.3 616.0,834.0 606.0,846.6 513.1,882.7" fill="#ff3cff" />
<polygon points="505.0,792.0 513.4,790.4 519.9,792.3 527.7,790.4 538.0,787.1 541.8,786.0 556.0,781.0 559.4,780.2 578.7,771.0 595.5,760.9 627.4,771.8 626.6,793.6 623.2,822.2 617.3,833.9 607.2,842.3 590.0,848.0 540.0,842.0 510.0,822.0" fill="url(#hwall)" />
<polygon points="430.5,840.5 443.3,829.5 461.6,816.6 480.0,801.0 489.0,799.2 494.6,796.5 487.3,811.1 481.8,825.8 474.5,836.8 461.6,844.1 430.5,843.0" fill="url(#hpdd)" />
<polygon points="461.6,844.1 474.5,836.8 481.8,825.8 487.3,811.1 494.6,796.5 500.0,792.5 505.6,791.0 509.0,791.0 513.0,791.9 520.3,798.3 525.8,802.0 532.0,805.0 537.0,806.0 548.0,830.0 520.0,848.0 480.0,850.0" fill="url(#hpd)" />
<polygon points="537.4,812.0 539.0,794.1 539.8,783.4 540.4,779.5 541.0,783.4 541.8,794.1 543.4,812.0" fill="url(#spkb)" />
<polygon points="554.4,805.0 556.0,788.7 556.8,779.0 557.4,775.4 558.0,779.0 558.8,788.7 560.4,805.0" fill="url(#spk)" />
</g>
<path d="M317.0 208.5L317.0 277.5M313.2 275.7L317.0 275.7M314.8 272.3L317.0 272.3M314.8 269.0L317.0 269.0M314.8 265.6L317.0 265.6M314.8 262.3L317.0 262.3M313.2 258.9L317.0 258.9M314.8 255.5L317.0 255.5M314.8 252.2L317.0 252.2M314.8 248.8L317.0 248.8M314.8 245.5L317.0 245.5M313.2 242.1L317.0 242.1M314.8 238.7L317.0 238.7M314.8 235.4L317.0 235.4M314.8 232.0L317.0 232.0M314.8 228.7L317.0 228.7M313.2 225.3L317.0 225.3M314.8 221.9L317.0 221.9M314.8 218.6L317.0 218.6M314.8 215.2L317.0 215.2M314.8 211.9L317.0 211.9M313.2 208.5L317.0 208.5" stroke="#333" stroke-width="1" fill="none"/>
<path d="M317.0 208.5L317.0 277.5" stroke="#333" stroke-width="1.4" fill="none"/>
<text x="308.4" y="280.1" font-size="12.5" text-anchor="end" fill="#222">0</text>
<text x="308.4" y="263.3" font-size="12.5" text-anchor="end" fill="#222">50</text>
<text x="308.4" y="246.5" font-size="12.5" text-anchor="end" fill="#222">100</text>
<text x="308.4" y="229.7" font-size="12.5" text-anchor="end" fill="#222">150</text>
<text x="285.2" y="244.9" font-size="12.8" text-anchor="middle" fill="#222" transform="rotate(-90 285.2 244.9)">mAU</text>
<path d="M317.0 277.5L441.4 326.3L565.5 276.8" stroke="#333" stroke-width="1.4" fill="none" stroke-linejoin="miter"/>
<path d="M319.4 278.4L318.1 280.9M324.2 280.3L323.4 281.8M329.0 282.2L328.2 283.7M333.7 284.1L333.0 285.6M338.5 285.9L337.8 287.4M343.3 287.8L342.1 290.3M348.1 289.7L347.4 291.2M352.9 291.6L352.1 293.1M357.7 293.5L356.9 295.0M362.5 295.3L361.7 296.8M367.2 297.2L366.0 299.7M372.0 299.1L371.3 300.6M376.8 301.0L376.1 302.5M381.6 302.8L380.8 304.3M386.4 304.7L385.6 306.2M391.2 306.6L389.9 309.1M395.9 308.5L395.2 310.0M400.7 310.3L400.0 311.8M405.5 312.2L404.8 313.7M410.3 314.1L409.6 315.6M415.1 316.0L413.8 318.5M419.9 317.9L419.1 319.4M424.7 319.7L423.9 321.2M429.4 321.6L428.7 323.1M434.2 323.5L433.5 325.0M439.0 325.4L437.8 327.9M443.8 327.2L443.0 328.7M441.4 326.3L442.6 328.8M447.6 323.8L448.4 325.3M453.8 321.4L454.6 322.9M460.0 318.9L460.8 320.4M466.2 316.4L467.5 318.9M472.4 313.9L473.2 315.4M478.6 311.5L479.4 313.0M484.8 309.0L485.6 310.5M491.0 306.5L492.3 309.0M497.2 304.0L498.0 305.5M503.4 301.6L504.2 303.1M509.7 299.1L510.4 300.6M515.9 296.6L517.1 299.1M522.1 294.1L522.8 295.6M528.3 291.7L529.0 293.2M534.5 289.2L535.2 290.7M540.7 286.7L541.9 289.2M546.9 284.2L547.6 285.7M553.1 281.8L553.8 283.3M559.3 279.3L560.0 280.8M565.5 276.8L566.8 279.3" stroke="#333" stroke-width="0.9" fill="none"/>
<text x="316.3" y="293.3" font-size="12" text-anchor="middle" fill="#222">5</text>
<text x="339.7" y="303.7" font-size="12" text-anchor="middle" fill="#222">10</text>
<text x="363.0" y="312.8" font-size="12" text-anchor="middle" fill="#222">15</text>
<text x="385.1" y="321.9" font-size="12" text-anchor="middle" fill="#222">20</text>
<text x="407.8" y="331.8" font-size="12" text-anchor="middle" fill="#222">25</text>
<text x="429.9" y="339.4" font-size="12" text-anchor="middle" fill="#222">30</text>
<text x="453.6" y="338.6" font-size="12" text-anchor="middle" fill="#222">300</text>
<text x="478.3" y="329.5" font-size="12" text-anchor="middle" fill="#222">280</text>
<text x="501.8" y="319.4" font-size="12" text-anchor="middle" fill="#222">260</text>
<text x="525.0" y="310.6" font-size="12" text-anchor="middle" fill="#222">240</text>
<text x="549.6" y="300.8" font-size="12" text-anchor="middle" fill="#222">220</text>
<text x="573.4" y="291.5" font-size="12" text-anchor="middle" fill="#222">200</text>
<text x="348.8" y="333.2" font-size="12.5" text-anchor="middle" fill="#222">Minutes</text>
<text x="526.5" y="331.6" font-size="12.5" text-anchor="middle" fill="#222">nm</text>
<path d="M42.2 772.5L42.2 838.8M38.4 838.0L42.2 838.0M40.0 834.7L42.2 834.7M40.0 831.4L42.2 831.4M40.0 828.2L42.2 828.2M40.0 824.9L42.2 824.9M38.4 821.6L42.2 821.6M40.0 818.3L42.2 818.3M40.0 815.0L42.2 815.0M40.0 811.8L42.2 811.8M40.0 808.5L42.2 808.5M38.4 805.2L42.2 805.2M40.0 801.9L42.2 801.9M40.0 798.6L42.2 798.6M40.0 795.4L42.2 795.4M40.0 792.1L42.2 792.1M38.4 788.8L42.2 788.8M40.0 785.5L42.2 785.5M40.0 782.2L42.2 782.2M40.0 779.0L42.2 779.0M40.0 775.7L42.2 775.7M38.4 772.4L42.2 772.4" stroke="#333" stroke-width="1" fill="none"/>
<path d="M42.2 772.5L42.2 838.8" stroke="#333" stroke-width="1.4" fill="none"/>
<text x="34.8" y="842.4" font-size="12.5" text-anchor="end" fill="#222">0</text>
<text x="34.8" y="826.0" font-size="12.5" text-anchor="end" fill="#222">50</text>
<text x="34.8" y="809.6" font-size="12.5" text-anchor="end" fill="#222">100</text>
<text x="34.8" y="793.2" font-size="12.5" text-anchor="end" fill="#222">150</text>
<text x="10.4" y="806.2" font-size="12.8" text-anchor="middle" fill="#222" transform="rotate(-90 10.4 806.2)">mAU</text>
<path d="M42.2 838.8L166.6 887.6L290.7 838.1" stroke="#333" stroke-width="1.4" fill="none" stroke-linejoin="miter"/>
<path d="M44.6 839.7L43.3 842.2M49.4 841.6L48.6 843.1M54.2 843.5L53.4 845.0M58.9 845.4L58.2 846.9M63.7 847.2L63.0 848.7M68.5 849.1L67.3 851.6M73.3 851.0L72.5 852.5M78.1 852.9L77.3 854.4M82.9 854.8L82.1 856.3M87.7 856.6L86.9 858.1M92.4 858.5L91.2 861.0M97.2 860.4L96.5 861.9M102.0 862.3L101.3 863.8M106.8 864.1L106.0 865.6M111.6 866.0L110.8 867.5M116.4 867.9L115.1 870.4M121.1 869.8L120.4 871.3M125.9 871.6L125.2 873.1M130.7 873.5L130.0 875.0M135.5 875.4L134.8 876.9M140.3 877.3L139.0 879.8M145.1 879.2L144.3 880.7M149.9 881.0L149.1 882.5M154.6 882.9L153.9 884.4M159.4 884.8L158.7 886.3M164.2 886.7L163.0 889.2M169.0 888.5L168.2 890.0M166.6 887.6L167.8 890.1M172.8 885.1L173.6 886.6M179.0 882.6L179.8 884.1M185.2 880.2L186.0 881.7M191.4 877.7L192.7 880.2M197.6 875.2L198.4 876.7M203.8 872.8L204.6 874.2M210.0 870.3L210.8 871.8M216.2 867.8L217.5 870.3M222.4 865.3L223.2 866.8M228.6 862.9L229.4 864.4M234.9 860.4L235.6 861.9M241.1 857.9L242.3 860.4M247.3 855.4L248.0 856.9M253.5 853.0L254.2 854.5M259.7 850.5L260.4 852.0M265.9 848.0L267.1 850.5M272.1 845.5L272.8 847.0M278.3 843.1L279.0 844.6M284.5 840.6L285.2 842.1M290.7 838.1L291.9 840.6" stroke="#333" stroke-width="0.9" fill="none"/>
<text x="41.5" y="854.6" font-size="12" text-anchor="middle" fill="#222">5</text>
<text x="64.9" y="865.0" font-size="12" text-anchor="middle" fill="#222">10</text>
<text x="88.2" y="874.1" font-size="12" text-anchor="middle" fill="#222">15</text>
<text x="110.3" y="883.2" font-size="12" text-anchor="middle" fill="#222">20</text>
<text x="133.0" y="893.1" font-size="12" text-anchor="middle" fill="#222">25</text>
<text x="155.1" y="900.7" font-size="12" text-anchor="middle" fill="#222">30</text>
<text x="178.8" y="899.9" font-size="12" text-anchor="middle" fill="#222">300</text>
<text x="203.5" y="890.8" font-size="12" text-anchor="middle" fill="#222">280</text>
<text x="227.0" y="880.7" font-size="12" text-anchor="middle" fill="#222">260</text>
<text x="250.2" y="871.9" font-size="12" text-anchor="middle" fill="#222">240</text>
<text x="274.8" y="862.1" font-size="12" text-anchor="middle" fill="#222">220</text>
<text x="298.6" y="852.8" font-size="12" text-anchor="middle" fill="#222">200</text>
<text x="74.0" y="894.5" font-size="12.5" text-anchor="middle" fill="#222">Minutes</text>
<text x="251.7" y="892.9" font-size="12.5" text-anchor="middle" fill="#222">nm</text>
<path d="M387.2 773.0L387.2 838.8M383.4 837.3L387.2 837.3M385.0 834.1L387.2 834.1M385.0 830.8L387.2 830.8M385.0 827.6L387.2 827.6M385.0 824.3L387.2 824.3M383.4 821.1L387.2 821.1M385.0 817.8L387.2 817.8M385.0 814.6L387.2 814.6M385.0 811.3L387.2 811.3M385.0 808.1L387.2 808.1M383.4 804.8L387.2 804.8M385.0 801.6L387.2 801.6M385.0 798.3L387.2 798.3M385.0 795.1L387.2 795.1M385.0 791.8L387.2 791.8M383.4 788.6L387.2 788.6M385.0 785.3L387.2 785.3M385.0 782.1L387.2 782.1M385.0 778.9L387.2 778.9M385.0 775.6L387.2 775.6M383.4 772.4L387.2 772.4" stroke="#333" stroke-width="1" fill="none"/>
<path d="M387.2 773.0L387.2 838.8" stroke="#333" stroke-width="1.4" fill="none"/>
<text x="378.4" y="841.7" font-size="12.5" text-anchor="end" fill="#222">0</text>
<text x="378.4" y="825.5" font-size="12.5" text-anchor="end" fill="#222">50</text>
<text x="378.4" y="809.2" font-size="12.5" text-anchor="end" fill="#222">100</text>
<text x="378.4" y="793.0" font-size="12.5" text-anchor="end" fill="#222">150</text>
<text x="355.4" y="806.2" font-size="12.8" text-anchor="middle" fill="#222" transform="rotate(-90 355.4 806.2)">mAU</text>
<path d="M387.2 838.8L511.6 887.6L635.7 838.1" stroke="#333" stroke-width="1.4" fill="none" stroke-linejoin="miter"/>
<path d="M389.6 839.7L388.3 842.2M394.4 841.6L393.6 843.1M399.2 843.5L398.4 845.0M403.9 845.4L403.2 846.9M408.7 847.2L408.0 848.7M413.5 849.1L412.3 851.6M418.3 851.0L417.6 852.5M423.1 852.9L422.3 854.4M427.9 854.8L427.1 856.3M432.7 856.6L431.9 858.1M437.4 858.5L436.2 861.0M442.2 860.4L441.5 861.9M447.0 862.3L446.3 863.8M451.8 864.1L451.0 865.6M456.6 866.0L455.8 867.5M461.4 867.9L460.1 870.4M466.1 869.8L465.4 871.3M470.9 871.6L470.2 873.1M475.7 873.5L475.0 875.0M480.5 875.4L479.8 876.9M485.3 877.3L484.0 879.8M490.1 879.2L489.3 880.7M494.9 881.0L494.1 882.5M499.6 882.9L498.9 884.4M504.4 884.8L503.7 886.3M509.2 886.7L508.0 889.2M514.0 888.5L513.2 890.0M511.6 887.6L512.9 890.1M517.8 885.1L518.6 886.6M524.0 882.6L524.8 884.1M530.2 880.2L531.0 881.7M536.4 877.7L537.7 880.2M542.6 875.2L543.4 876.7M548.8 872.8L549.6 874.2M555.0 870.3L555.8 871.8M561.2 867.8L562.5 870.3M567.4 865.3L568.2 866.8M573.6 862.9L574.4 864.4M579.9 860.4L580.6 861.9M586.1 857.9L587.3 860.4M592.3 855.4L593.0 856.9M598.5 853.0L599.2 854.5M604.7 850.5L605.4 852.0M610.9 848.0L612.1 850.5M617.1 845.5L617.8 847.0M623.3 843.1L624.0 844.6M629.5 840.6L630.2 842.1M635.7 838.1L637.0 840.6" stroke="#333" stroke-width="0.9" fill="none"/>
<text x="386.5" y="854.6" font-size="12" text-anchor="middle" fill="#222">5</text>
<text x="409.9" y="865.0" font-size="12" text-anchor="middle" fill="#222">10</text>
<text x="433.2" y="874.1" font-size="12" text-anchor="middle" fill="#222">15</text>
<text x="455.3" y="883.2" font-size="12" text-anchor="middle" fill="#222">20</text>
<text x="478.0" y="893.1" font-size="12" text-anchor="middle" fill="#222">25</text>
<text x="500.1" y="900.7" font-size="12" text-anchor="middle" fill="#222">30</text>
<text x="523.8" y="899.9" font-size="12" text-anchor="middle" fill="#222">300</text>
<text x="548.5" y="890.8" font-size="12" text-anchor="middle" fill="#222">280</text>
<text x="572.0" y="880.7" font-size="12" text-anchor="middle" fill="#222">260</text>
<text x="595.2" y="871.9" font-size="12" text-anchor="middle" fill="#222">240</text>
<text x="619.8" y="862.1" font-size="12" text-anchor="middle" fill="#222">220</text>
<text x="643.6" y="852.8" font-size="12" text-anchor="middle" fill="#222">200</text>
<text x="419.0" y="894.5" font-size="12.5" text-anchor="middle" fill="#222">Minutes</text>
<text x="596.7" y="892.9" font-size="12.5" text-anchor="middle" fill="#222">nm</text>
<rect x="607.7" y="190.6" width="2.6" height="113.4" fill="url(#cb609)" opacity="0.8"/>
<text x="598.5" y="308.2" font-size="12" text-anchor="end" fill="#222">0</text>
<text x="598.5" y="279.8" font-size="12" text-anchor="end" fill="#222">50</text>
<text x="598.5" y="251.4" font-size="12" text-anchor="end" fill="#222">100</text>
<text x="598.5" y="223.7" font-size="12" text-anchor="end" fill="#222">150</text>
<path d="M604.5 304.0L607.7 304.0M604.5 275.6L607.7 275.6M604.5 247.2L607.7 247.2M604.5 219.5L607.7 219.5" stroke="#333" stroke-width="1"/>
<text x="604.8" y="324.5" font-size="12.5" text-anchor="middle" fill="#222">mAU</text>
<rect x="329.7" y="758.5" width="2.6" height="111.5" fill="url(#cb331)" opacity="0.8"/>
<text x="323.5" y="872.7" font-size="12" text-anchor="end" fill="#222">0</text>
<text x="323.5" y="847.7" font-size="12" text-anchor="end" fill="#222">50</text>
<text x="323.5" y="819.2" font-size="12" text-anchor="end" fill="#222">100</text>
<text x="323.5" y="791.6" font-size="12" text-anchor="end" fill="#222">150</text>
<path d="M326.5 868.5L329.7 868.5M326.5 843.5L329.7 843.5M326.5 815.0L329.7 815.0M326.5 787.4L329.7 787.4" stroke="#333" stroke-width="1"/>
<text x="331.5" y="884.1" font-size="12.5" text-anchor="middle" fill="#222">mAU</text>
<text x="582.3" y="164.2" font-size="15.7" text-anchor="middle" fill="#222">Control</text>
<text x="580.6" y="181.3" font-size="15.7" text-anchor="middle" fill="#222">(0 hr)</text>
<text x="245.4" y="756.3" font-size="15.7" text-anchor="middle" fill="#222">Control (24 hrs)</text>
<text x="569.8" y="755.6" font-size="15.7" text-anchor="middle" fill="#222">&#916;<tspan font-size="9" dy="-5.2">1</tspan><tspan dy="5.2">-KstD (24 hrs)</tspan></text>
<text x="433.8" y="186" font-size="12" text-anchor="middle" fill="#222">PD</text>
<path d="M433.8 188L433.8 195" stroke="#111" stroke-width="1.5"/><polygon points="433.8,200 430.6,194 437,194" fill="#111"/>
<text x="117" y="792.5" font-size="12" text-anchor="middle" fill="#222">PD</text>
<path d="M128 788L137 788" stroke="#111" stroke-width="1.5"/><polygon points="142,788 136,784.8 136,791.2" fill="#111"/>
<text x="480" y="785" font-size="12" text-anchor="middle" fill="#222">PDD</text>
<path d="M484.3 787.5L484.3 794" stroke="#111" stroke-width="1.5"/><polygon points="484.3,799 481.1,793 487.5,793" fill="#111"/>
<text x="505" y="773.5" font-size="12" text-anchor="middle" fill="#222">PD</text>
<path d="M505 776L505 784" stroke="#111" stroke-width="1.5"/><polygon points="505,789 501.8,783 508.2,783" fill="#111"/>
</svg></body></html>
